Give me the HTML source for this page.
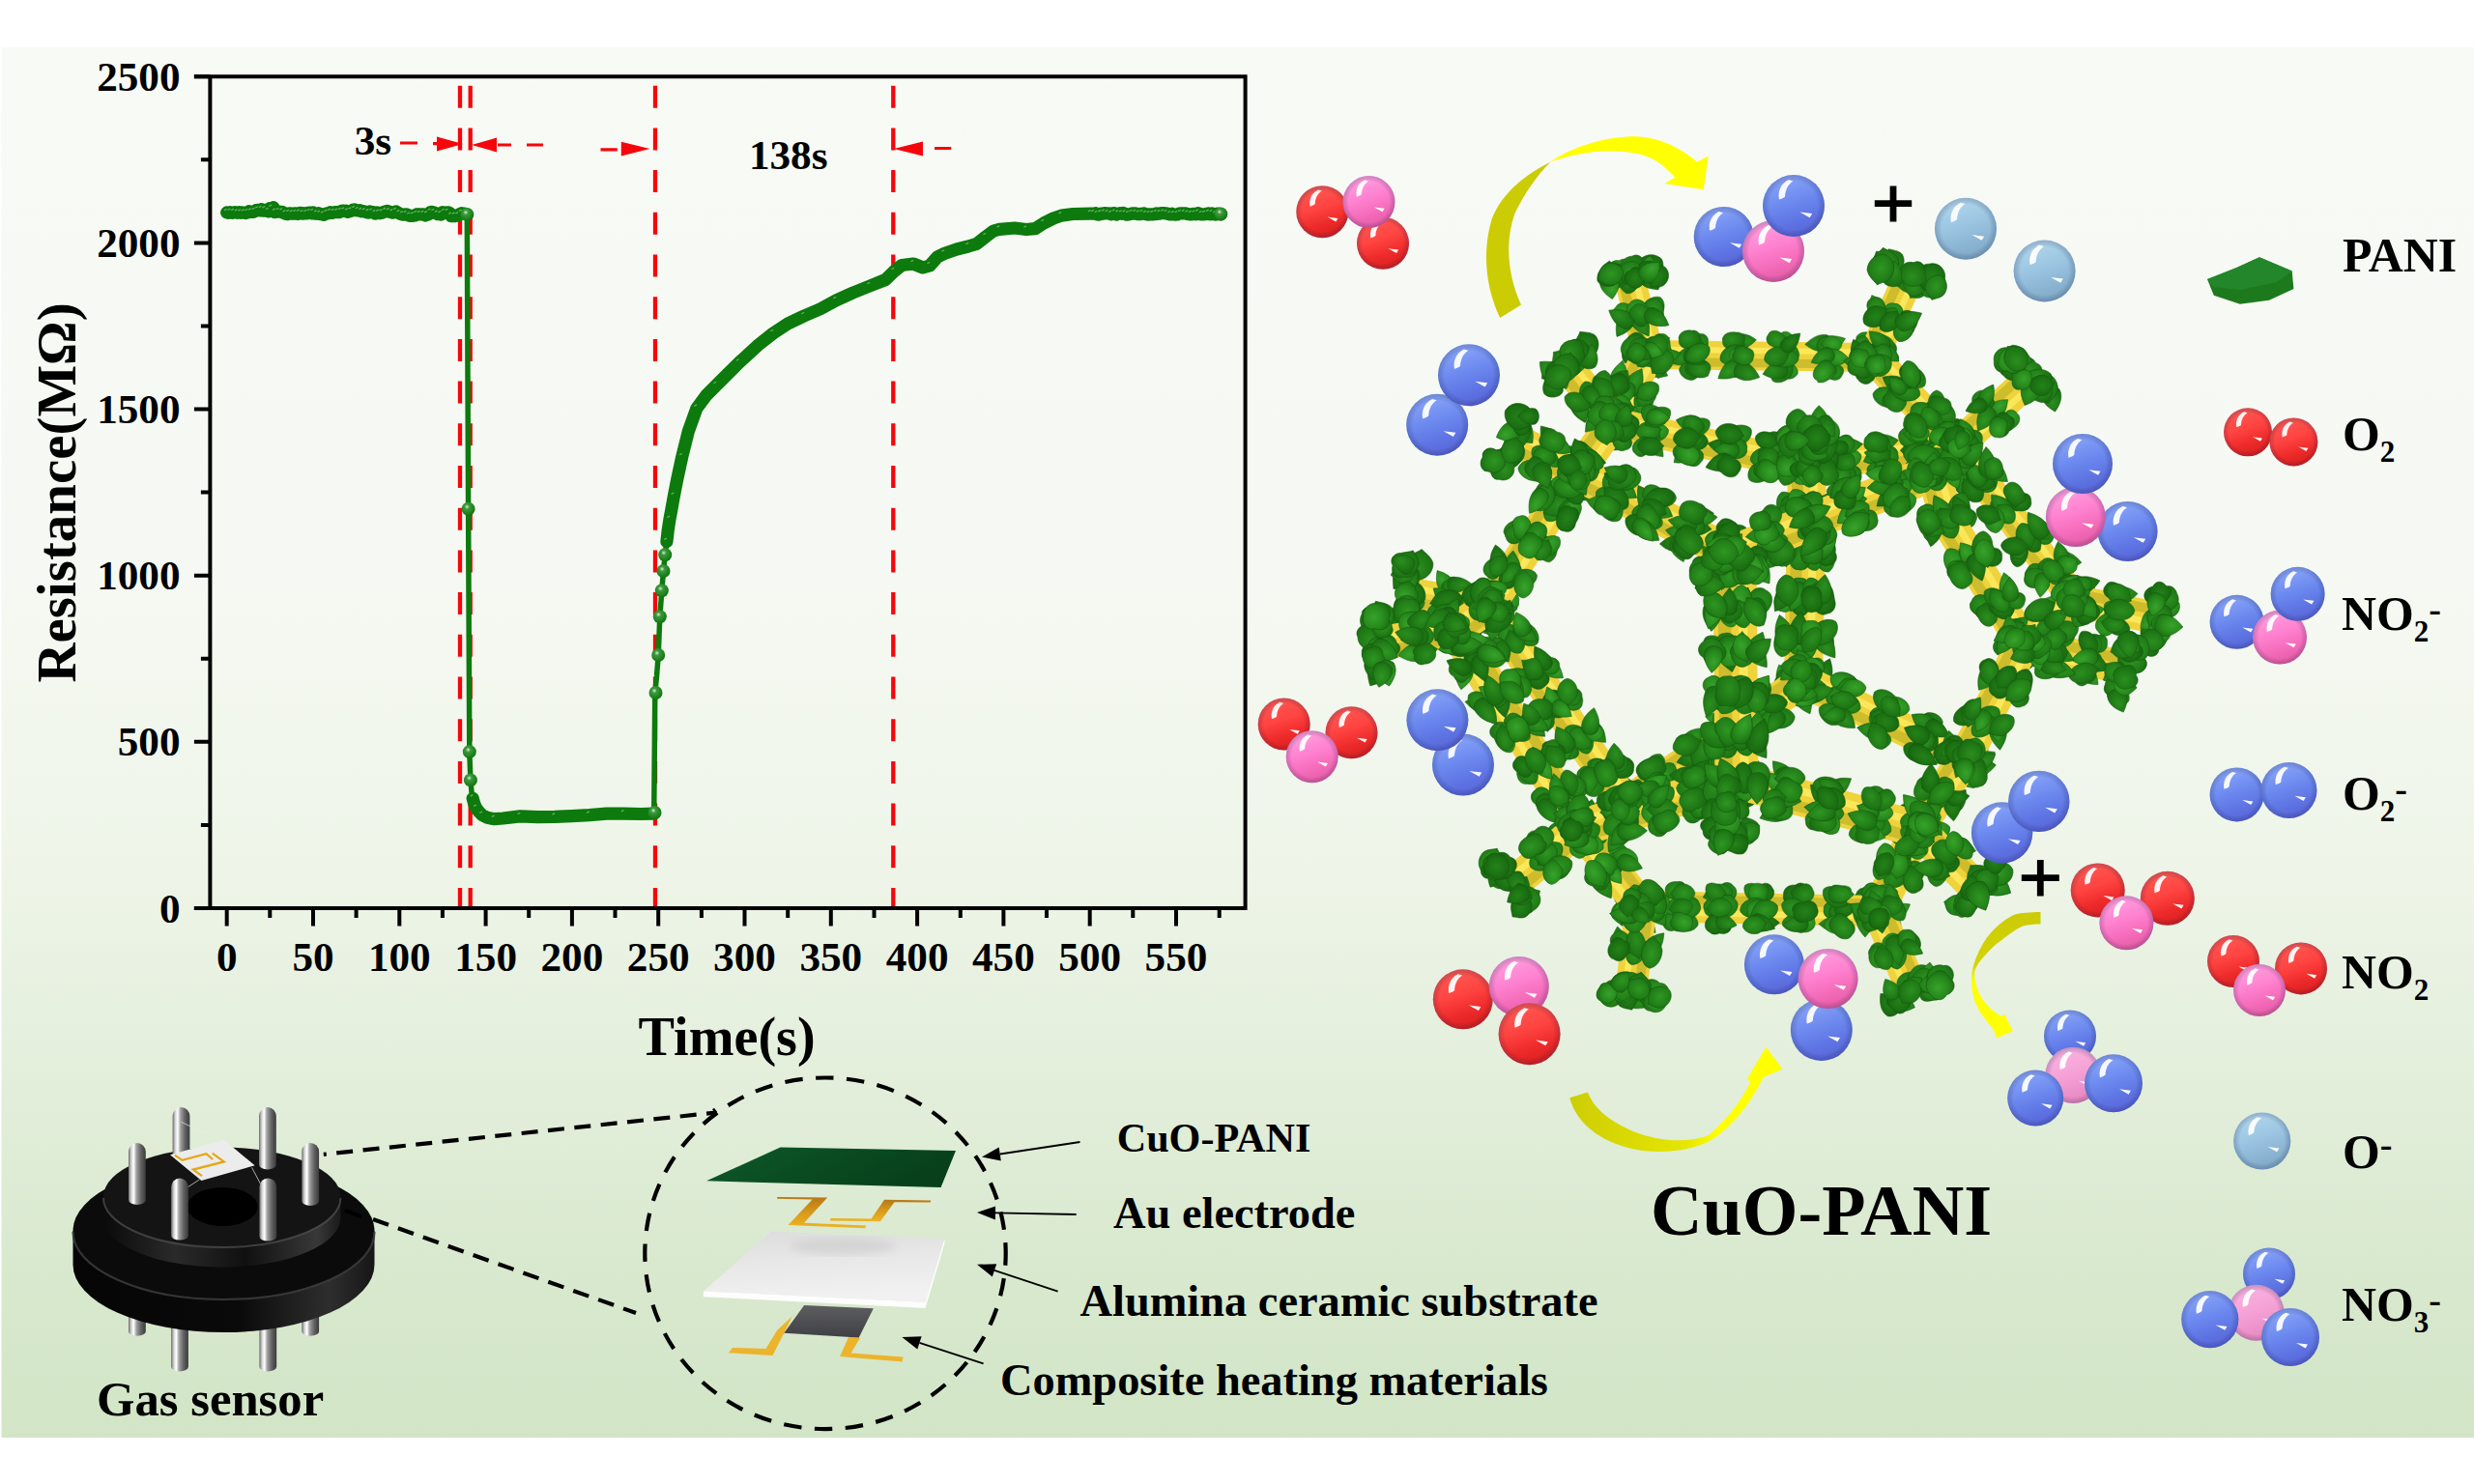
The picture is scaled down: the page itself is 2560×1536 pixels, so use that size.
<!DOCTYPE html>
<html><head><meta charset="utf-8"><title>CuO-PANI gas sensor</title>
<style>html,body{margin:0;padding:0;background:#fff}svg{display:block}</style></head>
<body>
<svg width="2560" height="1536" viewBox="0 0 2560 1536">
<defs>
<linearGradient id="gbg" x1="0" y1="0" x2="0" y2="1"><stop offset="0.000" stop-color="#f8faf5"/><stop offset="0.383" stop-color="#f6f9f3"/><stop offset="0.591" stop-color="#eef5e8"/><stop offset="0.730" stop-color="#e4efdc"/><stop offset="0.869" stop-color="#d9e9cf"/><stop offset="1.000" stop-color="#d2e5c6"/></linearGradient>
<radialGradient id="gball" cx="0.4" cy="0.35" r="0.7"><stop offset="0" stop-color="#d8f0d8"/><stop offset="0.25" stop-color="#3d9a3d"/><stop offset="1" stop-color="#0a720a"/></radialGradient>
<linearGradient id="gpin" x1="0" y1="0" x2="1" y2="0"><stop offset="0" stop-color="#6a6a6a"/><stop offset="0.16" stop-color="#d6d6d6"/><stop offset="0.3" stop-color="#ffffff"/><stop offset="0.46" stop-color="#a0a0a0"/><stop offset="0.72" stop-color="#626262"/><stop offset="1" stop-color="#3a3a3a"/></linearGradient>
<linearGradient id="gflange" x1="0" y1="0" x2="1" y2="0"><stop offset="0" stop-color="#050505"/><stop offset="0.55" stop-color="#0a0a0a"/><stop offset="0.85" stop-color="#2e2e2e"/><stop offset="1" stop-color="#161616"/></linearGradient>
<linearGradient id="gplat" x1="0" y1="0" x2="1" y2="0"><stop offset="0" stop-color="#0a0a0a"/><stop offset="0.3" stop-color="#2a2a2a"/><stop offset="0.6" stop-color="#101010"/><stop offset="0.9" stop-color="#383838"/><stop offset="1" stop-color="#1a1a1a"/></linearGradient>
<linearGradient id="gsheet" x1="0" y1="0" x2="1" y2="0.3"><stop offset="0" stop-color="#0e5a2a"/><stop offset="0.5" stop-color="#0a4c22"/><stop offset="1" stop-color="#07401b"/></linearGradient>
<linearGradient id="gau" x1="0" y1="0" x2="0" y2="1"><stop offset="0" stop-color="#b67716"/><stop offset="0.5" stop-color="#d79a1c"/><stop offset="1" stop-color="#f0b424"/></linearGradient>
<linearGradient id="gplate" x1="0" y1="0" x2="0.2" y2="1"><stop offset="0" stop-color="#dcdcdc"/><stop offset="0.5" stop-color="#e8e8e8"/><stop offset="1" stop-color="#f1f1f1"/></linearGradient>
<linearGradient id="gheat" x1="0" y1="0" x2="0" y2="1"><stop offset="0" stop-color="#5e5e60"/><stop offset="1" stop-color="#3f4044"/></linearGradient>
<linearGradient id="garr2" x1="0" y1="0" x2="1" y2="0"><stop offset="0" stop-color="#cdcd06"/><stop offset="0.55" stop-color="#e6e600"/><stop offset="0.7" stop-color="#ffff00"/><stop offset="1" stop-color="#ffff00"/></linearGradient>
<linearGradient id="garr3" x1="0" y1="0" x2="0" y2="1"><stop offset="0" stop-color="#cbcb08"/><stop offset="0.42" stop-color="#d4d404"/><stop offset="0.55" stop-color="#ffff00"/><stop offset="1" stop-color="#ffff00"/></linearGradient>
<radialGradient id="gsh" cx="0.5" cy="0.5" r="0.5"><stop offset="0.78" stop-color="#000" stop-opacity="0"/><stop offset="1" stop-color="#102060" stop-opacity="0.22"/></radialGradient>
<filter id="blur4"><feGaussianBlur stdDeviation="5"/></filter>
<linearGradient id="gr" x1="0.3" y1="0" x2="0.62" y2="1"><stop offset="0" stop-color="#ff5a54"/><stop offset="0.42" stop-color="#ff4441"/><stop offset="0.72" stop-color="#ee2b2b"/><stop offset="1" stop-color="#d81f1f"/></linearGradient><g id="sr"><circle r="1" fill="url(#gr)"/><circle r="1" fill="url(#gsh)"/><path d="M-0.16,-0.84C-0.42,-0.72 -0.52,-0.45 -0.47,-0.2C-0.36,-0.24 -0.3,-0.26 -0.28,-0.3C-0.27,-0.5 -0.2,-0.68 -0.02,-0.8Z" fill="#fff" opacity="0.93"/><path d="M0.2,0.2L0.6,0.25L0.52,0.38Z" fill="#fff" opacity="0.95"/></g>
<linearGradient id="gp" x1="0.3" y1="0" x2="0.62" y2="1"><stop offset="0" stop-color="#ffa2e0"/><stop offset="0.42" stop-color="#ff82d0"/><stop offset="0.72" stop-color="#f46cba"/><stop offset="1" stop-color="#e45ca4"/></linearGradient><g id="sp"><circle r="1" fill="url(#gp)"/><circle r="1" fill="url(#gsh)"/><path d="M-0.16,-0.84C-0.42,-0.72 -0.52,-0.45 -0.47,-0.2C-0.36,-0.24 -0.3,-0.26 -0.28,-0.3C-0.27,-0.5 -0.2,-0.68 -0.02,-0.8Z" fill="#fff" opacity="0.93"/><path d="M0.2,0.2L0.6,0.25L0.52,0.38Z" fill="#fff" opacity="0.95"/></g>
<linearGradient id="gb" x1="0.3" y1="0" x2="0.62" y2="1"><stop offset="0" stop-color="#8ca8fa"/><stop offset="0.42" stop-color="#6e8bf0"/><stop offset="0.72" stop-color="#5f76e4"/><stop offset="1" stop-color="#5964d8"/></linearGradient><g id="sb"><circle r="1" fill="url(#gb)"/><circle r="1" fill="url(#gsh)"/><path d="M-0.16,-0.84C-0.42,-0.72 -0.52,-0.45 -0.47,-0.2C-0.36,-0.24 -0.3,-0.26 -0.28,-0.3C-0.27,-0.5 -0.2,-0.68 -0.02,-0.8Z" fill="#fff" opacity="0.93"/><path d="M0.2,0.2L0.6,0.25L0.52,0.38Z" fill="#fff" opacity="0.95"/></g>
<linearGradient id="gq" x1="0.3" y1="0" x2="0.62" y2="1"><stop offset="0" stop-color="#f8b4e0"/><stop offset="0.42" stop-color="#f6a4d8"/><stop offset="0.72" stop-color="#ee94cc"/><stop offset="1" stop-color="#e486be"/></linearGradient><g id="sq"><circle r="1" fill="url(#gq)"/><circle r="1" fill="url(#gsh)"/><path d="M-0.16,-0.84C-0.42,-0.72 -0.52,-0.45 -0.47,-0.2C-0.36,-0.24 -0.3,-0.26 -0.28,-0.3C-0.27,-0.5 -0.2,-0.68 -0.02,-0.8Z" fill="#fff" opacity="0.93"/><path d="M0.2,0.2L0.6,0.25L0.52,0.38Z" fill="#fff" opacity="0.95"/></g>
<linearGradient id="gl" x1="0.3" y1="0" x2="0.62" y2="1"><stop offset="0" stop-color="#b4d8ee"/><stop offset="0.42" stop-color="#9cc6e2"/><stop offset="0.72" stop-color="#8cb6d4"/><stop offset="1" stop-color="#80a8c6"/></linearGradient><g id="sl"><circle r="1" fill="url(#gl)"/><circle r="1" fill="url(#gsh)"/><path d="M-0.16,-0.84C-0.42,-0.72 -0.52,-0.45 -0.47,-0.2C-0.36,-0.24 -0.3,-0.26 -0.28,-0.3C-0.27,-0.5 -0.2,-0.68 -0.02,-0.8Z" fill="#fff" opacity="0.93"/><path d="M0.2,0.2L0.6,0.25L0.52,0.38Z" fill="#fff" opacity="0.95"/></g>
<radialGradient id="lg1" cx="0.45" cy="0.4" r="0.65"><stop offset="0" stop-color="#37a32b"/><stop offset="0.6" stop-color="#278a1c"/><stop offset="1" stop-color="#1a6e12"/></radialGradient>
<radialGradient id="lg2" cx="0.5" cy="0.45" r="0.65"><stop offset="0" stop-color="#2e9622"/><stop offset="0.6" stop-color="#227f18"/><stop offset="1" stop-color="#17650f"/></radialGradient>
<radialGradient id="lg3" cx="0.55" cy="0.4" r="0.65"><stop offset="0" stop-color="#2b8e1f"/><stop offset="0.6" stop-color="#207a16"/><stop offset="1" stop-color="#186a10"/></radialGradient>
<radialGradient id="lg4" cx="0.5" cy="0.5" r="0.65"><stop offset="0" stop-color="#248219"/><stop offset="0.6" stop-color="#1b7012"/><stop offset="1" stop-color="#135a0c"/></radialGradient>
<g id="lf1" stroke="#145a0d" stroke-width="0.045"><path d="M0,-1.1C0.7,-1 1.1,-0.3 0.9,0.4C0.7,0.9 0.2,1 0,1.25C-0.3,1 -0.8,0.8 -1,0.3C-1.1,-0.4 -0.6,-1 0,-1.1Z"/></g>
<g id="lf2" stroke="#145a0d" stroke-width="0.045"><path d="M-0.2,-1C0.5,-1.2 1.1,-0.6 1,0.1C1.2,0.6 0.6,1.1 0,0.9C-0.6,1.2 -1.1,0.6 -0.9,0C-1.2,-0.5 -0.8,-1 -0.2,-1Z"/></g>
<g id="lf3" stroke="#145a0d" stroke-width="0.045"><path d="M0,-1.35C0.6,-0.8 1,-0.2 0.8,0.5C0.5,1 -0.5,1 -0.8,0.5C-1,-0.2 -0.6,-0.8 0,-1.35Z"/></g>
</defs>
<rect width="2560" height="1536" fill="#fff"/>
<rect x="1.5" y="49" width="2558.5" height="1439" fill="url(#gbg)"/>
<g id="plot">
<g stroke="#000" stroke-width="4" fill="none" stroke-linecap="butt">
<path d="M200.9,79.3H1290.6M1288.6,79.3V940.0M200.9,940.0H1290.6M217.4,77.3V942.0"/>
<path d="M200.9,940.0H217.4M200.9,767.8H217.4M200.9,595.7H217.4M200.9,423.5H217.4M200.9,251.4H217.4M200.9,79.2H217.4M207.9,853.9H217.4M207.9,681.8H217.4M207.9,509.6H217.4M207.9,337.4H217.4M207.9,165.3H217.4M234.7,940.0V958.5M324.0,940.0V958.5M413.3,940.0V958.5M502.6,940.0V958.5M591.9,940.0V958.5M681.2,940.0V958.5M770.5,940.0V958.5M859.8,940.0V958.5M949.1,940.0V958.5M1038.4,940.0V958.5M1127.7,940.0V958.5M1217.0,940.0V958.5M279.3,940.0V950.0M368.6,940.0V950.0M457.9,940.0V950.0M547.2,940.0V950.0M636.5,940.0V950.0M725.9,940.0V950.0M815.2,940.0V950.0M904.5,940.0V950.0M993.8,940.0V950.0M1083.0,940.0V950.0M1172.3,940.0V950.0M1261.7,940.0V950.0"/></g>
<g font-family="'Liberation Serif',serif" font-weight="bold" font-size="43.2" fill="#000">
<text x="186.5" y="954.6" text-anchor="end">0</text>
<text x="186.5" y="782.4" text-anchor="end">500</text>
<text x="186.5" y="610.3" text-anchor="end">1000</text>
<text x="186.5" y="438.1" text-anchor="end">1500</text>
<text x="186.5" y="266.0" text-anchor="end">2000</text>
<text x="186.5" y="93.8" text-anchor="end">2500</text>
<text x="234.7" y="1004.8" text-anchor="middle">0</text>
<text x="324.0" y="1004.8" text-anchor="middle">50</text>
<text x="413.3" y="1004.8" text-anchor="middle">100</text>
<text x="502.6" y="1004.8" text-anchor="middle">150</text>
<text x="591.9" y="1004.8" text-anchor="middle">200</text>
<text x="681.2" y="1004.8" text-anchor="middle">250</text>
<text x="770.5" y="1004.8" text-anchor="middle">300</text>
<text x="859.8" y="1004.8" text-anchor="middle">350</text>
<text x="949.1" y="1004.8" text-anchor="middle">400</text>
<text x="1038.4" y="1004.8" text-anchor="middle">450</text>
<text x="1127.7" y="1004.8" text-anchor="middle">500</text>
<text x="1217.0" y="1004.8" text-anchor="middle">550</text>
<text x="366.7" y="160.2">3s</text><text x="774.9" y="174.9">138s</text>
</g>
<text x="660.6" y="1092" font-family="'Liberation Serif',serif" font-weight="bold" font-size="56.2">Time(s)</text>
<text transform="translate(77.6,706.5) rotate(-90)" font-family="'Liberation Serif',serif" font-weight="bold" font-size="56.9">Resistance(MΩ)</text>
<g stroke="#f5060c" stroke-width="4.3" fill="none" stroke-dasharray="23 20.7">
<path d="M476,88.7V938.0"/>
<path d="M486.7,88.7V938.0"/>
<path d="M678,88.7V938.0"/>
<path d="M924.3,88.7V938.0"/>
</g>
<g stroke="#f5060c" stroke-width="3.2" fill="#f5060c">
<path d="M414,148H432M448,148.6H458M545,150H562M515,150H529M621.5,154.8H638.8M967,153.5H984.3" fill="none"/>
<path stroke="none" d="M452,141.5L479,149L452,156.5ZM488,150L514,142.5V157.5ZM642.8,146.8L672.5,154L642.8,161.5ZM924.8,154L955,146.5V161.5Z"/>
</g>
<path d="M234.7,219.9L236.5,220.4L238.3,219.7L240.1,220.3L241.8,219.8L243.6,219.7L245.4,220.3L247.2,219.7L249.0,220.3L250.8,219.9L252.6,220.3L254.3,220.6L256.1,220.0L257.9,218.7L259.7,219.3L261.5,219.5L263.3,218.8L265.1,217.5L266.8,217.4L268.6,217.8L270.4,216.8L272.2,218.1L274.0,217.3L275.8,218.0L277.6,218.9L279.3,215.5L281.1,215.7L282.9,214.7L284.7,219.6L286.5,219.3L288.3,219.0L290.1,219.3L291.9,219.3L293.6,220.4L295.4,221.2L297.2,221.6L299.0,220.8L300.8,220.9L302.6,221.2L304.4,220.9L306.1,220.9L307.9,221.4L309.7,220.6L311.5,220.3L313.3,221.1L315.1,220.9L316.9,221.0L318.6,220.2L320.4,220.0L322.2,220.8L324.0,219.9L325.8,221.1L327.6,221.3L329.4,220.7L331.1,221.6L332.9,221.5L334.7,222.4L336.5,221.6L338.3,220.8L340.1,220.6L341.9,219.7L343.6,220.3L345.4,219.8L347.2,219.7L349.0,219.6L350.8,219.7L352.6,218.9L354.4,218.0L356.1,218.4L357.9,218.2L359.7,219.3L361.5,218.8L363.3,218.4L365.1,217.3L366.9,216.9L368.6,217.7L370.4,218.0L372.2,217.7L374.0,218.8L375.8,218.6L377.6,219.2L379.4,219.7L381.2,220.1L382.9,218.9L384.7,219.5L386.5,219.6L388.3,221.1L390.1,219.9L391.9,220.7L393.7,220.6L395.4,220.3L397.2,219.3L399.0,218.8L400.8,218.3L402.6,219.2L404.4,219.7L406.2,220.2L407.9,219.5L409.7,218.8L411.5,220.1L413.3,221.1L415.1,221.7L416.9,222.2L418.7,222.1L420.4,221.8L422.2,222.4L424.0,223.4L425.8,223.3L427.6,223.3L429.4,223.0L431.2,221.9L432.9,221.7L434.7,221.9L436.5,221.9L438.3,221.8L440.1,223.0L441.9,222.2L443.7,221.8L445.4,219.5L447.2,219.3L449.0,220.0L450.8,220.6L452.6,221.6L454.4,221.2L456.2,222.1L457.9,219.7L459.7,219.9L461.5,220.0L463.3,219.8L465.1,220.2L466.9,223.6L468.7,223.6L470.5,223.6L472.2,222.9L474.0,223.2L475.8,221.5L477.6,220.7L479.4,221.1L481.2,221.1L483.3,221.9L484.6,526.7L485.8,778.1L486.9,807.4L488.0,819.5L489.2,826.3L490.6,831.5L492.8,836.7L495.5,840.1L499.0,843.6L504.4,846.3L511.5,847.7L520.5,847.0L538.3,844.9L556.2,845.6L574.0,845.3L591.9,844.6L609.8,843.6L627.6,842.2L645.5,842.2L663.3,842.5L676.7,842.2L677.8,717.0L679.5,700.0L681.2,678.0L682.8,638.2L684.8,611.3L686.5,591.0L688.2,574.2L689.9,560.7L691.2,549.0L692.9,537.8L694.6,528.7L697.3,513.6L700.6,496.7L705.7,473.0L712.4,446.2L720.9,422.6L731.0,409.0L741.0,399.0L752.0,388.0L764.7,375.4L784.9,356.9L800.0,345.0L815.2,335.0L832.0,327.0L848.9,319.8L865.0,311.0L882.6,303.0L900.0,296.0L916.3,289.5L925.0,281.0L933.1,274.5L945.0,273.0L955.0,277.0L962.0,275.0L970.0,266.0L977.0,262.5L990.0,258.0L1002.0,255.0L1010.6,252.4L1020.0,245.0L1028.0,239.0L1034.2,237.3L1050.0,236.0L1062.0,237.5L1071.3,236.6L1080.0,231.0L1090.0,226.0L1098.2,223.1L1110.0,221.5L1128.6,221.1L1130.0,221.1L1131.8,221.1L1133.6,220.7L1135.4,221.9L1137.2,222.1L1139.0,221.2L1140.8,221.3L1142.6,220.6L1144.4,220.7L1146.2,221.0L1148.0,220.9L1149.8,221.8L1151.6,220.8L1153.4,220.5L1155.2,222.0L1157.0,221.3L1158.8,220.7L1160.6,221.4L1162.4,220.5L1164.2,221.3L1166.0,222.1L1167.8,221.9L1169.6,221.6L1171.4,220.9L1173.2,221.1L1175.0,220.8L1176.8,221.7L1178.6,221.4L1180.4,221.7L1182.2,221.0L1184.0,220.9L1185.8,221.8L1187.6,222.1L1189.4,221.9L1191.2,221.8L1193.0,221.8L1194.8,221.7L1196.6,220.9L1198.4,221.3L1200.2,221.1L1202.0,220.5L1203.8,220.5L1205.6,220.9L1207.4,220.9L1209.2,221.6L1211.0,222.0L1212.8,221.2L1214.6,222.0L1216.4,222.1L1218.2,222.0L1220.0,221.1L1221.8,220.9L1223.6,220.9L1225.4,220.8L1227.2,220.8L1229.0,221.5L1230.8,221.9L1232.6,221.8L1234.4,221.3L1236.2,221.5L1238.0,221.8L1239.8,220.6L1241.6,221.6L1243.4,222.0L1245.2,221.8L1247.0,221.7L1248.8,221.3L1250.6,220.8L1252.4,221.8L1254.2,221.0L1256.0,221.8L1257.8,222.1L1259.6,221.1L1261.4,221.1L1263.2,222.0" fill="none" stroke="#0c7a0c" stroke-width="5.5" stroke-linejoin="round" stroke-linecap="round"/>
<path d="M234.7,219.9L236.5,220.4L238.3,219.7L240.1,220.3L241.8,219.8L243.6,219.7L245.4,220.3L247.2,219.7L249.0,220.3L250.8,219.9L252.6,220.3L254.3,220.6L256.1,220.0L257.9,218.7L259.7,219.3L261.5,219.5L263.3,218.8L265.1,217.5L266.8,217.4L268.6,217.8L270.4,216.8L272.2,218.1L274.0,217.3L275.8,218.0L277.6,218.9L279.3,215.5L281.1,215.7L282.9,214.7L284.7,219.6L286.5,219.3L288.3,219.0L290.1,219.3L291.9,219.3L293.6,220.4L295.4,221.2L297.2,221.6L299.0,220.8L300.8,220.9L302.6,221.2L304.4,220.9L306.1,220.9L307.9,221.4L309.7,220.6L311.5,220.3L313.3,221.1L315.1,220.9L316.9,221.0L318.6,220.2L320.4,220.0L322.2,220.8L324.0,219.9L325.8,221.1L327.6,221.3L329.4,220.7L331.1,221.6L332.9,221.5L334.7,222.4L336.5,221.6L338.3,220.8L340.1,220.6L341.9,219.7L343.6,220.3L345.4,219.8L347.2,219.7L349.0,219.6L350.8,219.7L352.6,218.9L354.4,218.0L356.1,218.4L357.9,218.2L359.7,219.3L361.5,218.8L363.3,218.4L365.1,217.3L366.9,216.9L368.6,217.7L370.4,218.0L372.2,217.7L374.0,218.8L375.8,218.6L377.6,219.2L379.4,219.7L381.2,220.1L382.9,218.9L384.7,219.5L386.5,219.6L388.3,221.1L390.1,219.9L391.9,220.7L393.7,220.6L395.4,220.3L397.2,219.3L399.0,218.8L400.8,218.3L402.6,219.2L404.4,219.7L406.2,220.2L407.9,219.5L409.7,218.8L411.5,220.1L413.3,221.1L415.1,221.7L416.9,222.2L418.7,222.1L420.4,221.8L422.2,222.4L424.0,223.4L425.8,223.3L427.6,223.3L429.4,223.0L431.2,221.9L432.9,221.7L434.7,221.9L436.5,221.9L438.3,221.8L440.1,223.0L441.9,222.2L443.7,221.8L445.4,219.5L447.2,219.3L449.0,220.0L450.8,220.6L452.6,221.6L454.4,221.2L456.2,222.1L457.9,219.7L459.7,219.9L461.5,220.0L463.3,219.8L465.1,220.2L466.9,223.6L468.7,223.6L470.5,223.6L472.2,222.9L474.0,223.2L475.8,221.5L477.6,220.7L479.4,221.1L481.2,221.1L483.3,221.9" fill="none" stroke="#0c7a0c" stroke-width="13.2" stroke-linejoin="round" stroke-linecap="round"/>
<path d="M489.2,826.3L490.6,831.5L492.8,836.7L495.5,840.1L499.0,843.6L504.4,846.3L511.5,847.7L520.5,847.0L538.3,844.9L556.2,845.6L574.0,845.3L591.9,844.6L609.8,843.6L627.6,842.2L645.5,842.2L663.3,842.5L676.7,842.2" fill="none" stroke="#0c7a0c" stroke-width="13.2" stroke-linejoin="round" stroke-linecap="round"/>
<path d="M689.9,560.7L691.2,549.0L692.9,537.8L694.6,528.7L697.3,513.6L700.6,496.7L705.7,473.0L712.4,446.2L720.9,422.6L731.0,409.0L741.0,399.0L752.0,388.0L764.7,375.4L784.9,356.9L800.0,345.0L815.2,335.0L832.0,327.0L848.9,319.8L865.0,311.0L882.6,303.0L900.0,296.0L916.3,289.5L925.0,281.0L933.1,274.5L945.0,273.0L955.0,277.0L962.0,275.0L970.0,266.0L977.0,262.5L990.0,258.0L1002.0,255.0L1010.6,252.4L1020.0,245.0L1028.0,239.0L1034.2,237.3L1050.0,236.0L1062.0,237.5L1071.3,236.6L1080.0,231.0L1090.0,226.0L1098.2,223.1L1110.0,221.5L1128.6,221.1L1130.0,221.1L1131.8,221.1L1133.6,220.7L1135.4,221.9L1137.2,222.1L1139.0,221.2L1140.8,221.3L1142.6,220.6L1144.4,220.7L1146.2,221.0L1148.0,220.9L1149.8,221.8L1151.6,220.8L1153.4,220.5L1155.2,222.0L1157.0,221.3L1158.8,220.7L1160.6,221.4L1162.4,220.5L1164.2,221.3L1166.0,222.1L1167.8,221.9L1169.6,221.6L1171.4,220.9L1173.2,221.1L1175.0,220.8L1176.8,221.7L1178.6,221.4L1180.4,221.7L1182.2,221.0L1184.0,220.9L1185.8,221.8L1187.6,222.1L1189.4,221.9L1191.2,221.8L1193.0,221.8L1194.8,221.7L1196.6,220.9L1198.4,221.3L1200.2,221.1L1202.0,220.5L1203.8,220.5L1205.6,220.9L1207.4,220.9L1209.2,221.6L1211.0,222.0L1212.8,221.2L1214.6,222.0L1216.4,222.1L1218.2,222.0L1220.0,221.1L1221.8,220.9L1223.6,220.9L1225.4,220.8L1227.2,220.8L1229.0,221.5L1230.8,221.9L1232.6,221.8L1234.4,221.3L1236.2,221.5L1238.0,221.8L1239.8,220.6L1241.6,221.6L1243.4,222.0L1245.2,221.8L1247.0,221.7L1248.8,221.3L1250.6,220.8L1252.4,221.8L1254.2,221.0L1256.0,221.8L1257.8,222.1L1259.6,221.1L1261.4,221.1L1263.2,222.0" fill="none" stroke="#0c7a0c" stroke-width="13.2" stroke-linejoin="round" stroke-linecap="round"/>
<path d="M232.5,217.4l1.8,-0.9M236.1,217.2l1.8,-0.9M239.6,217.3l1.8,-0.9M243.2,217.8l1.8,-0.9M246.8,217.8l1.8,-0.9M250.4,217.8l1.8,-0.9M253.9,217.5l1.8,-0.9M257.5,216.8l1.8,-0.9M261.1,216.3l1.8,-0.9M264.6,214.9l1.8,-0.9M268.2,214.3l1.8,-0.9M271.8,214.8l1.8,-0.9M275.4,216.4l1.8,-0.9M278.9,213.2l1.8,-0.9M282.5,217.1l1.8,-0.9M286.1,216.5l1.8,-0.9M289.7,216.8l1.8,-0.9M293.2,218.7l1.8,-0.9M296.8,218.3l1.8,-0.9M300.4,218.7l1.8,-0.9M303.9,218.4l1.8,-0.9M307.5,218.1l1.8,-0.9M311.1,218.6l1.8,-0.9M314.7,218.5l1.8,-0.9M318.2,217.5l1.8,-0.9M321.8,217.4l1.8,-0.9M325.4,218.8l1.8,-0.9M328.9,219.1l1.8,-0.9M332.5,219.9l1.8,-0.9M336.1,218.3l1.8,-0.9M339.7,217.2l1.8,-0.9M343.2,217.3l1.8,-0.9M346.8,217.1l1.8,-0.9M350.4,216.4l1.8,-0.9M353.9,215.9l1.8,-0.9M357.5,216.8l1.8,-0.9M361.1,215.9l1.8,-0.9M364.7,214.4l1.8,-0.9M368.2,215.5l1.8,-0.9M371.8,216.3l1.8,-0.9M375.4,216.7l1.8,-0.9M379.0,217.6l1.8,-0.9M382.5,217.0l1.8,-0.9M386.1,218.6l1.8,-0.9M389.7,218.2l1.8,-0.9M393.2,217.8l1.8,-0.9M396.8,216.3l1.8,-0.9M400.4,216.7l1.8,-0.9M404.0,217.7l1.8,-0.9M407.5,216.3l1.8,-0.9M411.1,218.6l1.8,-0.9M414.7,219.7l1.8,-0.9M418.2,219.3l1.8,-0.9M421.8,220.9l1.8,-0.9M425.4,220.8l1.8,-0.9M429.0,219.4l1.8,-0.9M432.5,219.4l1.8,-0.9M436.1,219.3l1.8,-0.9M439.7,219.7l1.8,-0.9M443.2,217.0l1.8,-0.9M446.8,217.5l1.8,-0.9M450.4,219.1l1.8,-0.9M454.0,219.6l1.8,-0.9M457.5,217.4l1.8,-0.9M461.1,217.3l1.8,-0.9M464.7,221.1l1.8,-0.9M468.3,221.1l1.8,-0.9M471.8,220.7l1.8,-0.9M475.4,218.2l1.8,-0.9M479.0,218.6l1.8,-0.9M487.0,823.8l1.8,-0.9M490.6,834.2l1.8,-0.9M496.8,841.1l1.8,-0.9M509.3,845.2l1.8,-0.9M536.1,842.4l1.8,-0.9M571.8,842.8l1.8,-0.9M607.6,841.1l1.8,-0.9M643.3,839.7l1.8,-0.9M674.5,839.7l1.8,-0.9M687.7,558.2l1.8,-0.9M690.7,535.3l1.8,-0.9M695.1,511.1l1.8,-0.9M703.5,470.5l1.8,-0.9M718.7,420.1l1.8,-0.9M738.8,396.5l1.8,-0.9M762.5,372.9l1.8,-0.9M797.8,342.5l1.8,-0.9M829.8,324.5l1.8,-0.9M862.8,308.5l1.8,-0.9M897.8,293.5l1.8,-0.9M922.8,278.5l1.8,-0.9M942.8,270.5l1.8,-0.9M959.8,272.5l1.8,-0.9M974.8,260.0l1.8,-0.9M999.8,252.5l1.8,-0.9M1017.8,242.5l1.8,-0.9M1032.0,234.8l1.8,-0.9M1059.8,235.0l1.8,-0.9M1077.8,228.5l1.8,-0.9M1096.0,220.6l1.8,-0.9M1126.4,218.6l1.8,-0.9M1129.6,218.6l1.8,-0.9M1133.2,219.4l1.8,-0.9M1136.8,218.7l1.8,-0.9M1140.4,218.1l1.8,-0.9M1144.0,218.5l1.8,-0.9M1147.6,219.3l1.8,-0.9M1151.2,218.0l1.8,-0.9M1154.8,218.8l1.8,-0.9M1158.4,218.9l1.8,-0.9M1162.0,218.8l1.8,-0.9M1165.6,219.4l1.8,-0.9M1169.2,218.4l1.8,-0.9M1172.8,218.3l1.8,-0.9M1176.4,218.9l1.8,-0.9M1180.0,218.5l1.8,-0.9M1183.6,219.3l1.8,-0.9M1187.2,219.4l1.8,-0.9M1190.8,219.3l1.8,-0.9M1194.4,218.4l1.8,-0.9M1198.0,218.6l1.8,-0.9M1201.6,218.0l1.8,-0.9M1205.2,218.4l1.8,-0.9M1208.8,219.5l1.8,-0.9M1212.4,219.5l1.8,-0.9M1216.0,219.5l1.8,-0.9M1219.6,218.4l1.8,-0.9M1223.2,218.3l1.8,-0.9M1226.8,219.0l1.8,-0.9M1230.4,219.3l1.8,-0.9M1234.0,219.0l1.8,-0.9M1237.6,218.1l1.8,-0.9M1241.2,219.5l1.8,-0.9M1244.8,219.2l1.8,-0.9M1248.4,218.3l1.8,-0.9M1252.0,218.5l1.8,-0.9M1255.6,219.6l1.8,-0.9M1259.2,218.6l1.8,-0.9" stroke="#7fc07f" stroke-width="1.3" stroke-linecap="round" fill="none" opacity="0.75"/>
<circle cx="484.6" cy="526.7" r="7" fill="url(#gball)"/>
<circle cx="485.8" cy="778.1" r="7" fill="url(#gball)"/>
<circle cx="486.9" cy="807.4" r="7" fill="url(#gball)"/>
<circle cx="677.5" cy="841.0" r="7" fill="url(#gball)"/>
<circle cx="678.5" cy="717.0" r="7" fill="url(#gball)"/>
<circle cx="681.2" cy="678.0" r="7" fill="url(#gball)"/>
<circle cx="682.8" cy="638.2" r="7" fill="url(#gball)"/>
<circle cx="684.8" cy="611.3" r="7" fill="url(#gball)"/>
<circle cx="686.5" cy="591.0" r="7" fill="url(#gball)"/>
<circle cx="688.2" cy="574.2" r="7" fill="url(#gball)"/>
<circle cx="1263.3" cy="221.4" r="7" fill="url(#gball)"/>
<circle cx="483.3" cy="221.9" r="7" fill="url(#gball)"/>
</g>
<g id="sensor">
<path d="M133.0,1377.9V1348.9A8.9,9.3 0 0 1 150.8,1348.9V1377.9A8.9,4.9 0 0 1 133.0,1377.9Z" fill="url(#gpin)"/>
<path d="M312.3,1377.9V1348.9A8.9,9.3 0 0 1 330.1,1348.9V1377.9A8.9,4.9 0 0 1 312.3,1377.9Z" fill="url(#gpin)"/>
<path d="M177.1,1414.5V1358.9A8.9,9.3 0 0 1 194.9,1358.9V1414.5A8.9,4.9 0 0 1 177.1,1414.5Z" fill="url(#gpin)"/>
<path d="M268.4,1414.5V1358.9A8.9,9.3 0 0 1 286.2,1358.9V1414.5A8.9,4.9 0 0 1 268.4,1414.5Z" fill="url(#gpin)"/>
<path d="M75.5,1274V1309A156,70 0 0 0 387.5,1309V1274Z" fill="url(#gflange)"/>
<ellipse cx="231.5" cy="1274" rx="156" ry="70" fill="#0b0b0b"/>
<path d="M75.5,1275A156,70 0 0 0 387.5,1275" fill="none" stroke="#3a3a3a" stroke-width="2.2" opacity="0.9"/>
<path d="M357,1253L374,1259" stroke="#000" stroke-width="4"/>
<path d="M106.99999999999999,1238.6V1260.5A122.7,51 0 0 0 352.4,1260.5V1238.6Z" fill="url(#gplat)"/>
<ellipse cx="229.7" cy="1238.6" rx="122.7" ry="51" fill="#141414"/>
<path d="M106.99999999999999,1240A122.7,51 0 0 0 352.4,1240" fill="none" stroke="#4a4a4a" stroke-width="2" opacity="0.8"/>
<ellipse cx="230.3" cy="1249" rx="36.6" ry="19.9" fill="#000"/>
<path d="M178.6,1195.1V1155.2A8.9,9.3 0 0 1 196.4,1155.2V1195.1A8.9,4.9 0 0 1 178.6,1195.1Z" fill="url(#gpin)"/>
<path d="M268.0,1205.5V1155.2A8.9,9.3 0 0 1 285.8,1155.2V1205.5A8.9,4.9 0 0 1 268.0,1205.5Z" fill="url(#gpin)"/>
<path d="M133.0,1242.1V1192.2A8.9,9.3 0 0 1 150.8,1192.2V1242.1A8.9,4.9 0 0 1 133.0,1242.1Z" fill="url(#gpin)"/>
<path d="M312.3,1243.1V1192.2A8.9,9.3 0 0 1 330.1,1192.2V1243.1A8.9,4.9 0 0 1 312.3,1243.1Z" fill="url(#gpin)"/>
<path d="M176,1195.2L231.8,1179.7L263.7,1206.3L208.4,1221.9Z" fill="#ececec"/>
<path d="M180.9,1195.6L188.6,1200.9L213.4,1194.1L220.2,1200M219.7,1193.6L231.8,1202.4L199.8,1210.6L209,1217.2" fill="none" stroke="#e3a712" stroke-width="2.2"/>
<path d="M187.5,1161.3L227.2,1180.1M193.7,1229.2L206.3,1220.9M260.6,1208.4L271,1228.2" stroke="#e8efe2" stroke-width="0.7" fill="none"/>
<path d="M177.1,1278.7V1228.7A8.9,9.3 0 0 1 194.9,1228.7V1278.7A8.9,4.9 0 0 1 177.1,1278.7Z" fill="url(#gpin)"/>
<path d="M268.4,1279.7V1228.7A8.9,9.3 0 0 1 286.2,1228.7V1279.7A8.9,4.9 0 0 1 268.4,1279.7Z" fill="url(#gpin)"/>
<text x="100" y="1465" font-family="'Liberation Serif',serif" font-weight="bold" font-size="50.7">Gas sensor</text>
<g stroke="#000" stroke-width="4.2" fill="none" stroke-dasharray="17 10.5">
<path d="M334.8,1194.8L741,1151.5" stroke-dashoffset="14"/><path d="M386,1262L658,1359"/>
</g>
<path d="M741,1151.5l-3,-4" stroke="#000" stroke-width="2.5"/>
<ellipse cx="854" cy="1297.3" rx="186.7" ry="181.8" fill="none" stroke="#000" stroke-width="4.2" stroke-dasharray="18.5 13.5" stroke-dashoffset="6"/>
<path d="M731.1,1222.3L807.5,1187.4L989,1191.1L973.6,1228.9Z" fill="url(#gsheet)"/>
<path d="M804.2,1238.9L856.2,1239.6L832.1,1265.7L896.2,1268.5L895.3,1271.3L815.5,1267.9L840.6,1241.5L804.2,1240.8Z" fill="url(#gau)"/>
<path d="M915.1,1241.7L963.2,1242.6L962.8,1244.5L925.5,1244.3L910.9,1264.2L858.9,1263.4L859.4,1260.9L901.5,1261.5Z" fill="url(#gau)"/>
<path d="M727.9,1336.4L798.1,1274.7L977.4,1282.3L957.5,1347.7Z" fill="url(#gplate)"/>
<path d="M727.9,1336.4L957.5,1347.7L977.4,1282.3L977.4,1287L957.5,1354L727.9,1342.2Z" fill="#fdfdfd"/>
<ellipse cx="872" cy="1290" rx="55" ry="9" fill="#bdbdbd" opacity="0.4" filter="url(#blur4)"/>
<path d="M820,1362L811.3,1379.8L799.5,1403L753.8,1400.2L758,1395L792.5,1396L804,1377L822.5,1360Z" fill="#ecb42c"/>
<path d="M878,1384L869,1404L933.5,1409.5L934.5,1404.5L880.5,1400.5L890,1385Z" fill="#ecb42c"/>
<path d="M811.3,1379.8L832.1,1350.9L903.8,1354.3L888.7,1384.5Z" fill="url(#gheat)"/>
<path d="M1117.5,1182.0L1034.8,1194.5" stroke="#000" stroke-width="1.8"/><path d="M1016.0,1197.4L1033.7,1187.6L1035.8,1201.5Z" fill="#000"/>
<path d="M1113.6,1257.0L1030.0,1255.4" stroke="#000" stroke-width="1.8"/><path d="M1011.0,1255.0L1030.1,1248.4L1029.9,1262.4Z" fill="#000"/>
<path d="M1094.6,1336.6L1029.0,1314.8" stroke="#000" stroke-width="1.8"/><path d="M1011.0,1308.8L1031.2,1308.2L1026.8,1321.4Z" fill="#000"/>
<path d="M1017.6,1411.3L951.5,1389.9" stroke="#000" stroke-width="1.8"/><path d="M933.4,1384.0L953.6,1383.2L949.3,1396.5Z" fill="#000"/>
<g font-family="'Liberation Serif',serif" font-weight="bold" font-size="46.4"><text x="1155.7" y="1191.7" font-size="42.2">CuO-PANI</text><text x="1152" y="1271.3">Au electrode</text><text x="1117.5" y="1361.5">Alumina ceramic substrate</text><text x="1035" y="1444.3">Composite heating materials</text></g>
</g>
<g id="structure" fill="none">
<path d="M1706,367L1938,370" stroke="#efd33c" stroke-width="30"/>
<path d="M1705.9,374.2L1937.9,377.2" stroke="#cdbd2c" stroke-width="9.0"/>
<path d="M1706.1,361.6L1938.1,364.6" stroke="#fbe85a" stroke-width="6.0"/>
<use href="#lf3" transform="translate(1710.5,366.0) rotate(63) scale(10.5,14.1)" fill="url(#lg3)"/>
<use href="#lf3" transform="translate(1702.3,365.0) rotate(259) scale(9.0,11.0)" fill="url(#lg3)"/>
<use href="#lf3" transform="translate(1711.0,354.0) rotate(76) scale(10.3,12.8)" fill="url(#lg2)"/>
<use href="#lf3" transform="translate(1711.7,382.4) rotate(115) scale(9.2,11.4)" fill="url(#lg2)"/>
<use href="#lf3" transform="translate(1704.2,383.0) rotate(101) scale(8.8,10.6)" fill="url(#lg3)"/>
<use href="#lf3" transform="translate(1701.3,351.4) rotate(299) scale(9.3,11.6)" fill="url(#lg3)"/>
<use href="#lf1" transform="translate(1701.3,381.3) rotate(257) scale(8.8,10.5)" fill="url(#lg2)"/>
<use href="#lf1" transform="translate(1706.9,366.9) rotate(265) scale(10.4,12.6)" fill="url(#lg2)"/>
<use href="#lf2" transform="translate(1704.4,353.2) rotate(59) scale(10.1,13.2)" fill="url(#lg1)"/>
<use href="#lf2" transform="translate(1756.6,354.0) rotate(98) scale(9.1,10.7)" fill="url(#lg2)"/>
<use href="#lf1" transform="translate(1750.7,353.5) rotate(280) scale(8.9,10.1)" fill="url(#lg3)"/>
<use href="#lf3" transform="translate(1745.5,369.0) rotate(243) scale(9.8,12.2)" fill="url(#lg3)"/>
<use href="#lf1" transform="translate(1749.0,383.6) rotate(275) scale(9.6,10.5)" fill="url(#lg3)"/>
<use href="#lf3" transform="translate(1753.7,381.7) rotate(118) scale(10.0,11.6)" fill="url(#lg2)"/>
<use href="#lf2" transform="translate(1757.8,380.4) rotate(119) scale(9.5,11.9)" fill="url(#lg3)"/>
<use href="#lf3" transform="translate(1751.7,369.5) rotate(116) scale(9.3,11.1)" fill="url(#lg4)"/>
<use href="#lf2" transform="translate(1748.7,351.4) rotate(275) scale(9.4,11.3)" fill="url(#lg3)"/>
<use href="#lf1" transform="translate(1757.2,365.7) rotate(61) scale(9.7,12.1)" fill="url(#lg2)"/>
<use href="#lf1" transform="translate(1797.4,354.5) rotate(301) scale(9.2,11.1)" fill="url(#lg2)"/>
<use href="#lf3" transform="translate(1802.6,353.1) rotate(85) scale(9.1,11.1)" fill="url(#lg3)"/>
<use href="#lf3" transform="translate(1800.0,382.0) rotate(242) scale(9.7,10.9)" fill="url(#lg3)"/>
<use href="#lf2" transform="translate(1794.3,352.8) rotate(276) scale(8.9,11.6)" fill="url(#lg3)"/>
<use href="#lf1" transform="translate(1793.2,367.3) rotate(245) scale(10.2,12.9)" fill="url(#lg2)"/>
<use href="#lf3" transform="translate(1792.4,381.9) rotate(236) scale(10.2,13.0)" fill="url(#lg2)"/>
<use href="#lf3" transform="translate(1805.2,384.6) rotate(111) scale(10.6,12.3)" fill="url(#lg3)"/>
<use href="#lf1" transform="translate(1799.8,366.5) rotate(260) scale(8.9,9.9)" fill="url(#lg1)"/>
<use href="#lf2" transform="translate(1803.6,367.9) rotate(114) scale(9.4,10.8)" fill="url(#lg2)"/>
<use href="#lf1" transform="translate(1849.6,383.7) rotate(103) scale(8.9,10.1)" fill="url(#lg1)"/>
<use href="#lf2" transform="translate(1846.5,354.2) rotate(48) scale(9.2,10.6)" fill="url(#lg1)"/>
<use href="#lf1" transform="translate(1844.0,384.3) rotate(223) scale(9.8,12.7)" fill="url(#lg3)"/>
<use href="#lf3" transform="translate(1839.6,383.3) rotate(256) scale(10.5,11.9)" fill="url(#lg3)"/>
<use href="#lf2" transform="translate(1839.3,352.7) rotate(311) scale(8.6,11.4)" fill="url(#lg2)"/>
<use href="#lf2" transform="translate(1850.3,367.2) rotate(78) scale(9.2,11.0)" fill="url(#lg3)"/>
<use href="#lf1" transform="translate(1846.4,370.5) rotate(93) scale(10.3,13.5)" fill="url(#lg2)"/>
<use href="#lf1" transform="translate(1838.1,369.0) rotate(252) scale(10.1,11.7)" fill="url(#lg3)"/>
<use href="#lf3" transform="translate(1851.6,355.8) rotate(46) scale(8.6,11.5)" fill="url(#lg4)"/>
<use href="#lf3" transform="translate(1884.9,355.4) rotate(266) scale(10.4,12.7)" fill="url(#lg3)"/>
<use href="#lf3" transform="translate(1893.1,370.1) rotate(105) scale(10.2,12.6)" fill="url(#lg2)"/>
<use href="#lf2" transform="translate(1897.4,384.0) rotate(126) scale(8.7,9.7)" fill="url(#lg2)"/>
<use href="#lf3" transform="translate(1892.0,356.8) rotate(70) scale(10.4,13.8)" fill="url(#lg1)"/>
<use href="#lf3" transform="translate(1891.3,384.8) rotate(223) scale(9.0,11.2)" fill="url(#lg1)"/>
<use href="#lf1" transform="translate(1895.6,356.5) rotate(91) scale(8.5,9.4)" fill="url(#lg1)"/>
<use href="#lf3" transform="translate(1898.0,370.2) rotate(96) scale(10.5,11.7)" fill="url(#lg1)"/>
<use href="#lf3" transform="translate(1888.3,368.6) rotate(245) scale(9.4,11.6)" fill="url(#lg2)"/>
<use href="#lf2" transform="translate(1887.5,384.2) rotate(228) scale(9.0,12.0)" fill="url(#lg1)"/>
<use href="#lf3" transform="translate(1936.9,384.8) rotate(100) scale(8.9,10.3)" fill="url(#lg4)"/>
<use href="#lf1" transform="translate(1933.5,354.5) rotate(297) scale(10.5,12.6)" fill="url(#lg1)"/>
<use href="#lf1" transform="translate(1944.7,382.9) rotate(131) scale(10.2,12.4)" fill="url(#lg1)"/>
<use href="#lf3" transform="translate(1938.1,368.6) rotate(282) scale(10.5,13.1)" fill="url(#lg4)"/>
<use href="#lf3" transform="translate(1942.6,355.0) rotate(49) scale(10.2,12.4)" fill="url(#lg3)"/>
<use href="#lf2" transform="translate(1932.8,385.1) rotate(256) scale(9.5,10.9)" fill="url(#lg2)"/>
<use href="#lf3" transform="translate(1943.4,368.9) rotate(98) scale(10.4,12.7)" fill="url(#lg1)"/>
<use href="#lf3" transform="translate(1932.5,371.8) rotate(249) scale(10.1,12.5)" fill="url(#lg3)"/>
<use href="#lf1" transform="translate(1939.8,356.5) rotate(295) scale(9.6,10.9)" fill="url(#lg2)"/>
<path d="M1686,287L1706,367" stroke="#efd33c" stroke-width="32"/>
<path d="M1678.5,288.9L1698.5,368.9" stroke="#cdbd2c" stroke-width="9.6"/>
<path d="M1691.6,285.6L1711.6,365.6" stroke="#fbe85a" stroke-width="6.4"/>
<use href="#lf2" transform="translate(1681.6,325.7) rotate(318) scale(10.4,12.3)" fill="url(#lg1)"/>
<use href="#lf1" transform="translate(1711.3,319.3) rotate(391) scale(10.6,12.2)" fill="url(#lg3)"/>
<use href="#lf3" transform="translate(1681.9,333.6) rotate(211) scale(10.0,12.8)" fill="url(#lg3)"/>
<use href="#lf3" transform="translate(1696.3,332.2) rotate(148) scale(10.4,13.7)" fill="url(#lg3)"/>
<use href="#lf2" transform="translate(1711.1,321.5) rotate(362) scale(10.2,12.0)" fill="url(#lg2)"/>
<use href="#lf2" transform="translate(1695.5,322.1) rotate(324) scale(10.3,12.1)" fill="url(#lg1)"/>
<use href="#lf3" transform="translate(1679.8,330.2) rotate(301) scale(10.2,13.0)" fill="url(#lg3)"/>
<use href="#lf2" transform="translate(1697.6,326.3) rotate(326) scale(9.7,11.6)" fill="url(#lg3)"/>
<use href="#lf3" transform="translate(1712.2,328.3) rotate(120) scale(9.9,12.5)" fill="url(#lg3)"/>
<use href="#lf3" transform="translate(1693.4,375.4) rotate(200) scale(9.0,11.0)" fill="url(#lg2)"/>
<use href="#lf2" transform="translate(1692.2,370.0) rotate(189) scale(9.2,12.1)" fill="url(#lg2)"/>
<use href="#lf1" transform="translate(1689.1,366.6) rotate(348) scale(10.7,13.2)" fill="url(#lg4)"/>
<use href="#lf2" transform="translate(1718.8,357.5) rotate(369) scale(9.1,11.7)" fill="url(#lg2)"/>
<use href="#lf3" transform="translate(1720.6,366.1) rotate(168) scale(10.5,12.4)" fill="url(#lg4)"/>
<use href="#lf3" transform="translate(1707.7,367.4) rotate(366) scale(10.0,11.3)" fill="url(#lg3)"/>
<use href="#lf1" transform="translate(1706.2,361.3) rotate(328) scale(8.8,10.8)" fill="url(#lg4)"/>
<use href="#lf3" transform="translate(1721.9,364.4) rotate(373) scale(9.0,10.1)" fill="url(#lg3)"/>
<use href="#lf3" transform="translate(1707.8,371.2) rotate(177) scale(9.9,12.1)" fill="url(#lg3)"/>
<use href="#lf1" transform="translate(1708.1,276.1) rotate(55) scale(12.6,12.6)" fill="url(#lg4)"/>
<use href="#lf2" transform="translate(1676.4,280.0) rotate(84) scale(11.4,11.4)" fill="url(#lg1)"/>
<use href="#lf3" transform="translate(1685.1,293.2) rotate(313) scale(11.3,11.3)" fill="url(#lg3)"/>
<use href="#lf1" transform="translate(1709.1,286.0) rotate(334) scale(12.4,12.4)" fill="url(#lg3)"/>
<use href="#lf2" transform="translate(1670.6,286.6) rotate(335) scale(13.2,13.2)" fill="url(#lg2)"/>
<use href="#lf1" transform="translate(1672.5,283.9) rotate(283) scale(11.3,11.3)" fill="url(#lg4)"/>
<use href="#lf3" transform="translate(1665.7,294.1) rotate(170) scale(11.6,11.6)" fill="url(#lg1)"/>
<use href="#lf3" transform="translate(1663.3,286.0) rotate(8) scale(12.0,12.0)" fill="url(#lg4)"/>
<use href="#lf2" transform="translate(1690.2,278.8) rotate(259) scale(13.6,13.6)" fill="url(#lg3)"/>
<use href="#lf2" transform="translate(1688.2,282.5) rotate(349) scale(11.6,11.6)" fill="url(#lg2)"/>
<use href="#lf1" transform="translate(1667.1,283.9) rotate(70) scale(11.8,11.8)" fill="url(#lg2)"/>
<use href="#lf3" transform="translate(1705.0,279.0) rotate(10) scale(10.7,10.7)" fill="url(#lg1)"/>
<use href="#lf2" transform="translate(1705.6,280.4) rotate(8) scale(10.2,10.2)" fill="url(#lg4)"/>
<use href="#lf2" transform="translate(1692.0,287.5) rotate(145) scale(10.2,10.2)" fill="url(#lg4)"/>
<use href="#lf1" transform="translate(1716.0,286.1) rotate(34) scale(10.9,10.9)" fill="url(#lg4)"/>
<use href="#lf3" transform="translate(1706.3,282.5) rotate(45) scale(11.4,11.4)" fill="url(#lg1)"/>
<path d="M1975,287L1938,370" stroke="#efd33c" stroke-width="32"/>
<path d="M1968.0,283.9L1931.0,366.9" stroke="#cdbd2c" stroke-width="9.6"/>
<path d="M1980.3,289.3L1943.3,372.3" stroke="#fbe85a" stroke-width="6.4"/>
<use href="#lf2" transform="translate(1958.9,325.5) rotate(377) scale(10.1,11.3)" fill="url(#lg1)"/>
<use href="#lf2" transform="translate(1973.1,333.9) rotate(391) scale(10.2,12.1)" fill="url(#lg4)"/>
<use href="#lf1" transform="translate(1954.3,329.4) rotate(396) scale(8.8,11.8)" fill="url(#lg3)"/>
<use href="#lf3" transform="translate(1942.5,317.2) rotate(334) scale(8.7,9.6)" fill="url(#lg1)"/>
<use href="#lf1" transform="translate(1969.4,340.8) rotate(200) scale(10.4,12.3)" fill="url(#lg2)"/>
<use href="#lf2" transform="translate(1941.2,320.3) rotate(363) scale(9.6,12.2)" fill="url(#lg2)"/>
<use href="#lf1" transform="translate(1939.9,327.7) rotate(236) scale(10.8,12.0)" fill="url(#lg4)"/>
<use href="#lf1" transform="translate(1955.1,333.0) rotate(219) scale(9.2,11.0)" fill="url(#lg4)"/>
<use href="#lf3" transform="translate(1972.7,332.3) rotate(423) scale(10.8,13.2)" fill="url(#lg3)"/>
<use href="#lf1" transform="translate(1925.5,360.4) rotate(374) scale(9.2,12.3)" fill="url(#lg2)"/>
<use href="#lf3" transform="translate(1949.5,381.2) rotate(204) scale(10.4,12.5)" fill="url(#lg3)"/>
<use href="#lf1" transform="translate(1936.8,369.9) rotate(204) scale(10.5,11.7)" fill="url(#lg2)"/>
<use href="#lf1" transform="translate(1942.4,365.1) rotate(410) scale(10.5,13.0)" fill="url(#lg3)"/>
<use href="#lf2" transform="translate(1952.2,372.5) rotate(425) scale(9.7,12.3)" fill="url(#lg3)"/>
<use href="#lf3" transform="translate(1936.8,373.2) rotate(209) scale(10.6,12.2)" fill="url(#lg4)"/>
<use href="#lf3" transform="translate(1952.6,374.4) rotate(168) scale(9.2,11.3)" fill="url(#lg2)"/>
<use href="#lf3" transform="translate(1922.9,364.8) rotate(339) scale(8.9,10.7)" fill="url(#lg4)"/>
<use href="#lf1" transform="translate(1923.9,368.3) rotate(214) scale(10.2,12.4)" fill="url(#lg2)"/>
<use href="#lf1" transform="translate(1959.5,270.3) rotate(158) scale(10.9,10.9)" fill="url(#lg3)"/>
<use href="#lf3" transform="translate(1983.9,294.0) rotate(79) scale(10.8,10.8)" fill="url(#lg3)"/>
<use href="#lf3" transform="translate(1976.2,289.8) rotate(132) scale(13.4,13.4)" fill="url(#lg2)"/>
<use href="#lf1" transform="translate(1950.3,274.0) rotate(147) scale(13.1,13.1)" fill="url(#lg2)"/>
<use href="#lf1" transform="translate(1984.4,297.6) rotate(35) scale(10.7,10.7)" fill="url(#lg3)"/>
<use href="#lf1" transform="translate(1987.1,291.1) rotate(15) scale(12.6,12.6)" fill="url(#lg3)"/>
<use href="#lf2" transform="translate(1988.8,290.2) rotate(267) scale(11.4,11.4)" fill="url(#lg3)"/>
<use href="#lf1" transform="translate(1996.2,293.8) rotate(160) scale(13.6,13.6)" fill="url(#lg2)"/>
<use href="#lf2" transform="translate(1974.2,290.8) rotate(135) scale(11.1,11.1)" fill="url(#lg3)"/>
<use href="#lf1" transform="translate(1951.0,273.4) rotate(171) scale(13.8,13.8)" fill="url(#lg2)"/>
<use href="#lf2" transform="translate(1981.1,294.6) rotate(167) scale(11.1,11.1)" fill="url(#lg3)"/>
<use href="#lf3" transform="translate(1958.6,286.1) rotate(5) scale(12.1,12.1)" fill="url(#lg3)"/>
<use href="#lf2" transform="translate(1998.8,287.0) rotate(1) scale(13.8,13.8)" fill="url(#lg4)"/>
<use href="#lf1" transform="translate(1946.5,278.0) rotate(13) scale(13.9,13.9)" fill="url(#lg2)"/>
<use href="#lf1" transform="translate(2003.6,296.9) rotate(18) scale(11.4,11.4)" fill="url(#lg2)"/>
<use href="#lf2" transform="translate(1980.1,283.2) rotate(179) scale(12.7,12.7)" fill="url(#lg3)"/>
<path d="M1706,367L1669,438" stroke="#efd33c" stroke-width="33"/>
<path d="M1699.0,363.3L1662.0,434.3" stroke="#cdbd2c" stroke-width="9.9"/>
<path d="M1711.3,369.7L1674.3,440.7" stroke="#fbe85a" stroke-width="6.6"/>
<use href="#lf2" transform="translate(1708.2,366.5) rotate(200) scale(10.7,13.0)" fill="url(#lg3)"/>
<use href="#lf2" transform="translate(1709.6,362.3) rotate(405) scale(10.6,13.6)" fill="url(#lg2)"/>
<use href="#lf3" transform="translate(1723.7,369.1) rotate(437) scale(8.9,11.9)" fill="url(#lg2)"/>
<use href="#lf3" transform="translate(1704.3,369.4) rotate(224) scale(9.1,10.3)" fill="url(#lg3)"/>
<use href="#lf3" transform="translate(1718.7,377.4) rotate(191) scale(9.9,10.9)" fill="url(#lg3)"/>
<use href="#lf1" transform="translate(1720.0,375.0) rotate(402) scale(10.9,12.5)" fill="url(#lg3)"/>
<use href="#lf2" transform="translate(1692.1,362.6) rotate(241) scale(9.9,12.1)" fill="url(#lg3)"/>
<use href="#lf2" transform="translate(1694.1,354.8) rotate(339) scale(9.2,10.3)" fill="url(#lg3)"/>
<use href="#lf2" transform="translate(1690.8,358.9) rotate(235) scale(11.0,13.6)" fill="url(#lg2)"/>
<use href="#lf3" transform="translate(1688.2,401.3) rotate(218) scale(9.2,11.7)" fill="url(#lg4)"/>
<use href="#lf3" transform="translate(1690.0,398.4) rotate(388) scale(10.9,14.0)" fill="url(#lg2)"/>
<use href="#lf1" transform="translate(1700.4,416.3) rotate(177) scale(10.1,12.2)" fill="url(#lg1)"/>
<use href="#lf1" transform="translate(1703.6,409.9) rotate(399) scale(9.9,11.0)" fill="url(#lg2)"/>
<use href="#lf3" transform="translate(1674.8,392.0) rotate(373) scale(10.7,14.3)" fill="url(#lg1)"/>
<use href="#lf1" transform="translate(1675.3,395.6) rotate(216) scale(9.3,12.1)" fill="url(#lg3)"/>
<use href="#lf1" transform="translate(1705.6,404.9) rotate(417) scale(9.6,11.2)" fill="url(#lg2)"/>
<use href="#lf3" transform="translate(1684.1,404.7) rotate(190) scale(9.1,10.9)" fill="url(#lg2)"/>
<use href="#lf2" transform="translate(1673.3,398.7) rotate(254) scale(11.0,12.7)" fill="url(#lg4)"/>
<use href="#lf2" transform="translate(1679.8,449.6) rotate(198) scale(9.6,11.3)" fill="url(#lg3)"/>
<use href="#lf1" transform="translate(1657.1,428.9) rotate(349) scale(10.7,14.1)" fill="url(#lg3)"/>
<use href="#lf3" transform="translate(1672.4,434.6) rotate(404) scale(9.7,13.0)" fill="url(#lg3)"/>
<use href="#lf1" transform="translate(1683.9,447.9) rotate(162) scale(9.8,11.1)" fill="url(#lg1)"/>
<use href="#lf3" transform="translate(1655.9,431.6) rotate(376) scale(9.6,11.4)" fill="url(#lg2)"/>
<use href="#lf2" transform="translate(1684.5,442.7) rotate(404) scale(9.8,12.2)" fill="url(#lg2)"/>
<use href="#lf2" transform="translate(1667.0,439.2) rotate(363) scale(10.4,12.9)" fill="url(#lg2)"/>
<use href="#lf1" transform="translate(1668.5,441.0) rotate(219) scale(10.0,12.8)" fill="url(#lg3)"/>
<use href="#lf1" transform="translate(1652.7,436.6) rotate(226) scale(9.9,12.8)" fill="url(#lg2)"/>
<path d="M1623,381L1669,438" stroke="#efd33c" stroke-width="33"/>
<path d="M1616.8,386.0L1662.8,443.0" stroke="#cdbd2c" stroke-width="9.9"/>
<path d="M1627.6,377.3L1673.6,434.3" stroke="#fbe85a" stroke-width="6.6"/>
<use href="#lf1" transform="translate(1657.3,398.6) rotate(318) scale(9.3,10.6)" fill="url(#lg1)"/>
<use href="#lf2" transform="translate(1647.8,413.8) rotate(116) scale(9.0,10.8)" fill="url(#lg3)"/>
<use href="#lf1" transform="translate(1644.3,407.7) rotate(341) scale(9.8,12.2)" fill="url(#lg3)"/>
<use href="#lf3" transform="translate(1634.2,422.5) rotate(158) scale(9.5,11.9)" fill="url(#lg2)"/>
<use href="#lf3" transform="translate(1634.5,419.9) rotate(158) scale(10.7,13.3)" fill="url(#lg3)"/>
<use href="#lf1" transform="translate(1658.2,396.3) rotate(372) scale(9.7,11.9)" fill="url(#lg3)"/>
<use href="#lf1" transform="translate(1631.7,415.9) rotate(294) scale(9.7,12.4)" fill="url(#lg3)"/>
<use href="#lf1" transform="translate(1659.5,403.2) rotate(144) scale(9.9,12.3)" fill="url(#lg3)"/>
<use href="#lf3" transform="translate(1646.7,408.6) rotate(142) scale(9.3,11.5)" fill="url(#lg3)"/>
<use href="#lf3" transform="translate(1683.3,428.1) rotate(332) scale(10.7,13.6)" fill="url(#lg4)"/>
<use href="#lf1" transform="translate(1667.0,436.4) rotate(310) scale(9.4,11.2)" fill="url(#lg3)"/>
<use href="#lf1" transform="translate(1670.2,442.2) rotate(133) scale(10.8,12.7)" fill="url(#lg1)"/>
<use href="#lf2" transform="translate(1679.0,422.2) rotate(340) scale(9.9,13.0)" fill="url(#lg1)"/>
<use href="#lf2" transform="translate(1658.0,448.7) rotate(158) scale(10.2,12.3)" fill="url(#lg3)"/>
<use href="#lf1" transform="translate(1683.6,431.4) rotate(103) scale(10.8,14.4)" fill="url(#lg1)"/>
<use href="#lf1" transform="translate(1660.3,452.0) rotate(137) scale(10.7,12.8)" fill="url(#lg4)"/>
<use href="#lf2" transform="translate(1670.0,437.5) rotate(144) scale(9.6,12.1)" fill="url(#lg3)"/>
<use href="#lf1" transform="translate(1655.5,443.8) rotate(303) scale(10.9,13.5)" fill="url(#lg2)"/>
<use href="#lf1" transform="translate(1607.6,385.2) rotate(62) scale(11.2,11.2)" fill="url(#lg2)"/>
<use href="#lf1" transform="translate(1619.8,375.3) rotate(131) scale(13.2,13.2)" fill="url(#lg2)"/>
<use href="#lf3" transform="translate(1613.4,387.5) rotate(153) scale(12.4,12.4)" fill="url(#lg2)"/>
<use href="#lf2" transform="translate(1630.4,370.3) rotate(193) scale(10.3,10.3)" fill="url(#lg4)"/>
<use href="#lf1" transform="translate(1642.2,356.5) rotate(151) scale(12.1,12.1)" fill="url(#lg4)"/>
<use href="#lf2" transform="translate(1627.5,375.5) rotate(146) scale(11.9,11.9)" fill="url(#lg2)"/>
<use href="#lf3" transform="translate(1605.3,384.9) rotate(311) scale(11.7,11.7)" fill="url(#lg2)"/>
<use href="#lf3" transform="translate(1629.2,370.8) rotate(107) scale(10.6,10.6)" fill="url(#lg3)"/>
<use href="#lf3" transform="translate(1643.6,371.6) rotate(15) scale(11.5,11.5)" fill="url(#lg3)"/>
<use href="#lf3" transform="translate(1632.3,362.7) rotate(199) scale(13.0,13.0)" fill="url(#lg3)"/>
<use href="#lf3" transform="translate(1606.9,400.4) rotate(356) scale(12.2,12.2)" fill="url(#lg3)"/>
<use href="#lf2" transform="translate(1627.1,365.1) rotate(265) scale(12.7,12.7)" fill="url(#lg3)"/>
<use href="#lf2" transform="translate(1623.8,379.9) rotate(251) scale(11.0,11.0)" fill="url(#lg2)"/>
<use href="#lf1" transform="translate(1609.7,385.9) rotate(329) scale(10.6,10.6)" fill="url(#lg4)"/>
<use href="#lf1" transform="translate(1619.7,381.0) rotate(199) scale(13.6,13.6)" fill="url(#lg3)"/>
<use href="#lf1" transform="translate(1612.2,390.1) rotate(60) scale(12.8,12.8)" fill="url(#lg3)"/>
<path d="M1669,438L1870,482" stroke="#efd33c" stroke-width="32"/>
<path d="M1667.4,445.5L1868.4,489.5" stroke="#cdbd2c" stroke-width="9.6"/>
<path d="M1670.2,432.4L1871.2,476.4" stroke="#fbe85a" stroke-width="6.4"/>
<use href="#lf1" transform="translate(1664.7,436.1) rotate(268) scale(10.2,11.6)" fill="url(#lg3)"/>
<use href="#lf1" transform="translate(1672.6,424.7) rotate(317) scale(9.3,11.0)" fill="url(#lg3)"/>
<use href="#lf1" transform="translate(1675.2,438.4) rotate(75) scale(9.1,11.4)" fill="url(#lg4)"/>
<use href="#lf3" transform="translate(1661.0,452.0) rotate(287) scale(9.3,10.9)" fill="url(#lg2)"/>
<use href="#lf3" transform="translate(1676.5,424.8) rotate(78) scale(10.3,11.9)" fill="url(#lg4)"/>
<use href="#lf2" transform="translate(1668.4,454.9) rotate(109) scale(10.3,13.3)" fill="url(#lg3)"/>
<use href="#lf2" transform="translate(1664.0,454.1) rotate(246) scale(8.8,10.0)" fill="url(#lg2)"/>
<use href="#lf2" transform="translate(1668.4,420.4) rotate(299) scale(9.0,11.0)" fill="url(#lg2)"/>
<use href="#lf2" transform="translate(1670.1,436.6) rotate(127) scale(10.4,14.0)" fill="url(#lg3)"/>
<use href="#lf1" transform="translate(1714.0,448.0) rotate(76) scale(9.4,11.7)" fill="url(#lg1)"/>
<use href="#lf1" transform="translate(1707.7,447.3) rotate(300) scale(8.8,9.9)" fill="url(#lg3)"/>
<use href="#lf3" transform="translate(1710.8,461.8) rotate(137) scale(9.3,11.1)" fill="url(#lg2)"/>
<use href="#lf1" transform="translate(1705.4,446.1) rotate(263) scale(10.1,11.3)" fill="url(#lg2)"/>
<use href="#lf1" transform="translate(1710.3,429.8) rotate(305) scale(10.4,12.2)" fill="url(#lg3)"/>
<use href="#lf2" transform="translate(1699.7,462.2) rotate(236) scale(8.7,10.5)" fill="url(#lg2)"/>
<use href="#lf1" transform="translate(1707.2,461.8) rotate(269) scale(9.7,11.8)" fill="url(#lg4)"/>
<use href="#lf1" transform="translate(1716.0,431.8) rotate(58) scale(9.7,13.0)" fill="url(#lg3)"/>
<use href="#lf3" transform="translate(1713.1,432.0) rotate(93) scale(9.7,10.9)" fill="url(#lg1)"/>
<use href="#lf3" transform="translate(1742.5,470.9) rotate(233) scale(8.8,9.7)" fill="url(#lg2)"/>
<use href="#lf2" transform="translate(1750.6,471.0) rotate(139) scale(10.1,11.8)" fill="url(#lg3)"/>
<use href="#lf3" transform="translate(1750.2,439.0) rotate(285) scale(10.8,12.2)" fill="url(#lg2)"/>
<use href="#lf1" transform="translate(1754.7,456.4) rotate(96) scale(10.0,11.8)" fill="url(#lg4)"/>
<use href="#lf1" transform="translate(1758.9,441.9) rotate(57) scale(8.7,10.7)" fill="url(#lg3)"/>
<use href="#lf2" transform="translate(1752.6,440.5) rotate(313) scale(8.8,11.4)" fill="url(#lg3)"/>
<use href="#lf2" transform="translate(1744.7,469.2) rotate(129) scale(10.4,13.9)" fill="url(#lg1)"/>
<use href="#lf3" transform="translate(1748.8,454.7) rotate(96) scale(9.0,10.0)" fill="url(#lg3)"/>
<use href="#lf1" transform="translate(1744.7,453.2) rotate(263) scale(11.0,12.2)" fill="url(#lg4)"/>
<use href="#lf3" transform="translate(1786.1,478.3) rotate(145) scale(10.2,12.6)" fill="url(#lg2)"/>
<use href="#lf3" transform="translate(1793.1,448.9) rotate(95) scale(9.0,11.4)" fill="url(#lg1)"/>
<use href="#lf3" transform="translate(1785.9,462.9) rotate(281) scale(10.8,14.2)" fill="url(#lg4)"/>
<use href="#lf1" transform="translate(1797.9,451.6) rotate(62) scale(10.9,14.5)" fill="url(#lg2)"/>
<use href="#lf2" transform="translate(1793.2,463.6) rotate(103) scale(10.8,14.3)" fill="url(#lg2)"/>
<use href="#lf3" transform="translate(1789.7,465.8) rotate(274) scale(9.6,11.9)" fill="url(#lg2)"/>
<use href="#lf3" transform="translate(1781.3,478.8) rotate(253) scale(10.6,12.6)" fill="url(#lg4)"/>
<use href="#lf1" transform="translate(1789.0,448.8) rotate(278) scale(10.9,12.7)" fill="url(#lg4)"/>
<use href="#lf2" transform="translate(1788.9,482.1) rotate(133) scale(10.3,12.1)" fill="url(#lg4)"/>
<use href="#lf1" transform="translate(1820.6,488.4) rotate(231) scale(10.4,12.2)" fill="url(#lg3)"/>
<use href="#lf1" transform="translate(1824.4,473.5) rotate(257) scale(10.4,12.2)" fill="url(#lg2)"/>
<use href="#lf1" transform="translate(1837.6,457.4) rotate(91) scale(10.4,13.5)" fill="url(#lg3)"/>
<use href="#lf1" transform="translate(1833.0,472.9) rotate(74) scale(10.0,11.9)" fill="url(#lg3)"/>
<use href="#lf3" transform="translate(1825.9,487.2) rotate(120) scale(10.8,12.8)" fill="url(#lg2)"/>
<use href="#lf1" transform="translate(1833.7,460.0) rotate(100) scale(10.6,12.1)" fill="url(#lg3)"/>
<use href="#lf1" transform="translate(1827.5,455.7) rotate(289) scale(9.2,10.6)" fill="url(#lg4)"/>
<use href="#lf2" transform="translate(1828.8,472.3) rotate(99) scale(9.2,10.2)" fill="url(#lg3)"/>
<use href="#lf2" transform="translate(1829.4,487.8) rotate(128) scale(10.5,12.6)" fill="url(#lg1)"/>
<use href="#lf1" transform="translate(1862.7,495.6) rotate(235) scale(9.9,12.7)" fill="url(#lg1)"/>
<use href="#lf2" transform="translate(1872.8,498.5) rotate(135) scale(9.2,12.4)" fill="url(#lg3)"/>
<use href="#lf2" transform="translate(1873.7,465.8) rotate(61) scale(10.2,12.0)" fill="url(#lg3)"/>
<use href="#lf1" transform="translate(1875.2,482.2) rotate(85) scale(8.8,10.6)" fill="url(#lg3)"/>
<use href="#lf1" transform="translate(1871.3,482.4) rotate(129) scale(10.6,14.3)" fill="url(#lg1)"/>
<use href="#lf3" transform="translate(1865.7,479.8) rotate(295) scale(9.8,10.8)" fill="url(#lg3)"/>
<use href="#lf1" transform="translate(1876.1,467.7) rotate(58) scale(10.7,12.3)" fill="url(#lg1)"/>
<use href="#lf3" transform="translate(1870.4,464.2) rotate(326) scale(9.5,11.4)" fill="url(#lg3)"/>
<use href="#lf3" transform="translate(1868.0,495.8) rotate(280) scale(9.7,12.3)" fill="url(#lg4)"/>
<path d="M1870,482L2024,462" stroke="#efd33c" stroke-width="32"/>
<path d="M1871.0,489.6L2025.0,469.6" stroke="#cdbd2c" stroke-width="9.6"/>
<path d="M1869.3,476.3L2023.3,456.3" stroke="#fbe85a" stroke-width="6.4"/>
<use href="#lf3" transform="translate(1876.3,495.3) rotate(74) scale(10.0,13.4)" fill="url(#lg2)"/>
<use href="#lf3" transform="translate(1873.2,466.1) rotate(75) scale(10.5,11.7)" fill="url(#lg3)"/>
<use href="#lf3" transform="translate(1867.1,483.3) rotate(249) scale(10.6,13.7)" fill="url(#lg2)"/>
<use href="#lf2" transform="translate(1867.7,499.5) rotate(240) scale(9.6,11.8)" fill="url(#lg3)"/>
<use href="#lf3" transform="translate(1865.0,465.5) rotate(287) scale(9.7,11.8)" fill="url(#lg3)"/>
<use href="#lf1" transform="translate(1869.7,481.2) rotate(282) scale(10.9,13.7)" fill="url(#lg1)"/>
<use href="#lf2" transform="translate(1871.5,497.8) rotate(242) scale(10.8,12.6)" fill="url(#lg2)"/>
<use href="#lf3" transform="translate(1874.0,479.8) rotate(92) scale(9.7,12.8)" fill="url(#lg2)"/>
<use href="#lf3" transform="translate(1869.0,465.8) rotate(278) scale(10.5,13.9)" fill="url(#lg2)"/>
<use href="#lf1" transform="translate(1914.2,474.6) rotate(73) scale(9.7,11.1)" fill="url(#lg1)"/>
<use href="#lf2" transform="translate(1912.9,491.7) rotate(99) scale(10.3,13.0)" fill="url(#lg2)"/>
<use href="#lf3" transform="translate(1909.9,492.7) rotate(245) scale(10.5,12.7)" fill="url(#lg2)"/>
<use href="#lf3" transform="translate(1909.1,462.1) rotate(82) scale(10.8,13.7)" fill="url(#lg3)"/>
<use href="#lf2" transform="translate(1906.2,460.4) rotate(79) scale(9.5,12.3)" fill="url(#lg2)"/>
<use href="#lf3" transform="translate(1903.4,476.9) rotate(268) scale(10.1,11.9)" fill="url(#lg4)"/>
<use href="#lf1" transform="translate(1905.2,493.0) rotate(215) scale(9.2,10.3)" fill="url(#lg2)"/>
<use href="#lf2" transform="translate(1909.1,477.8) rotate(94) scale(8.9,10.1)" fill="url(#lg3)"/>
<use href="#lf3" transform="translate(1903.1,463.3) rotate(279) scale(8.7,10.9)" fill="url(#lg4)"/>
<use href="#lf3" transform="translate(1948.8,458.1) rotate(81) scale(10.1,11.6)" fill="url(#lg3)"/>
<use href="#lf3" transform="translate(1942.1,472.1) rotate(248) scale(10.1,11.1)" fill="url(#lg3)"/>
<use href="#lf2" transform="translate(1943.6,486.7) rotate(264) scale(9.0,11.3)" fill="url(#lg2)"/>
<use href="#lf2" transform="translate(1950.9,472.3) rotate(92) scale(10.6,13.0)" fill="url(#lg2)"/>
<use href="#lf1" transform="translate(1943.9,458.3) rotate(309) scale(10.6,12.7)" fill="url(#lg2)"/>
<use href="#lf3" transform="translate(1945.4,471.7) rotate(282) scale(10.7,12.4)" fill="url(#lg3)"/>
<use href="#lf2" transform="translate(1948.6,488.1) rotate(221) scale(10.0,12.3)" fill="url(#lg3)"/>
<use href="#lf2" transform="translate(1941.8,458.8) rotate(282) scale(9.5,12.7)" fill="url(#lg3)"/>
<use href="#lf1" transform="translate(1952.5,488.4) rotate(128) scale(9.3,12.5)" fill="url(#lg1)"/>
<use href="#lf1" transform="translate(1990.0,465.0) rotate(59) scale(10.2,11.6)" fill="url(#lg3)"/>
<use href="#lf1" transform="translate(1983.8,466.8) rotate(92) scale(10.9,14.1)" fill="url(#lg4)"/>
<use href="#lf2" transform="translate(1993.5,480.3) rotate(124) scale(9.7,11.2)" fill="url(#lg3)"/>
<use href="#lf3" transform="translate(1984.3,481.1) rotate(247) scale(8.7,11.5)" fill="url(#lg4)"/>
<use href="#lf3" transform="translate(1985.7,481.7) rotate(230) scale(9.2,12.1)" fill="url(#lg3)"/>
<use href="#lf1" transform="translate(1989.5,451.6) rotate(37) scale(10.7,14.3)" fill="url(#lg1)"/>
<use href="#lf2" transform="translate(1978.6,451.5) rotate(264) scale(10.4,13.5)" fill="url(#lg2)"/>
<use href="#lf2" transform="translate(1982.1,468.5) rotate(247) scale(9.3,12.2)" fill="url(#lg3)"/>
<use href="#lf3" transform="translate(1985.0,451.1) rotate(279) scale(10.1,12.0)" fill="url(#lg3)"/>
<use href="#lf3" transform="translate(2029.1,478.2) rotate(112) scale(9.4,11.5)" fill="url(#lg3)"/>
<use href="#lf1" transform="translate(2018.5,461.3) rotate(259) scale(9.8,10.9)" fill="url(#lg3)"/>
<use href="#lf2" transform="translate(2020.2,444.9) rotate(79) scale(10.5,13.0)" fill="url(#lg2)"/>
<use href="#lf1" transform="translate(2025.5,476.4) rotate(87) scale(10.6,12.4)" fill="url(#lg2)"/>
<use href="#lf3" transform="translate(2023.1,478.2) rotate(216) scale(9.5,10.8)" fill="url(#lg2)"/>
<use href="#lf1" transform="translate(2027.7,445.8) rotate(88) scale(10.7,13.4)" fill="url(#lg1)"/>
<use href="#lf1" transform="translate(2016.4,446.1) rotate(262) scale(10.3,12.6)" fill="url(#lg4)"/>
<use href="#lf2" transform="translate(2024.3,462.8) rotate(72) scale(9.7,11.2)" fill="url(#lg4)"/>
<use href="#lf1" transform="translate(2028.6,462.7) rotate(66) scale(10.7,14.2)" fill="url(#lg1)"/>
<path d="M1938,370L2024,462" stroke="#efd33c" stroke-width="33"/>
<path d="M1932.2,375.4L2018.2,467.4" stroke="#cdbd2c" stroke-width="9.9"/>
<path d="M1942.3,365.9L2028.3,457.9" stroke="#fbe85a" stroke-width="6.6"/>
<use href="#lf2" transform="translate(1941.7,371.1) rotate(127) scale(11.1,13.3)" fill="url(#lg3)"/>
<use href="#lf3" transform="translate(1922.9,375.9) rotate(280) scale(10.1,11.3)" fill="url(#lg3)"/>
<use href="#lf2" transform="translate(1928.8,385.0) rotate(154) scale(9.5,12.4)" fill="url(#lg4)"/>
<use href="#lf2" transform="translate(1938.8,371.8) rotate(144) scale(9.7,12.0)" fill="url(#lg3)"/>
<use href="#lf2" transform="translate(1950.9,359.2) rotate(326) scale(9.7,12.1)" fill="url(#lg3)"/>
<use href="#lf3" transform="translate(1952.8,364.2) rotate(129) scale(9.2,11.6)" fill="url(#lg3)"/>
<use href="#lf3" transform="translate(1945.9,353.9) rotate(313) scale(9.4,12.0)" fill="url(#lg3)"/>
<use href="#lf2" transform="translate(1924.9,380.5) rotate(293) scale(10.0,12.6)" fill="url(#lg3)"/>
<use href="#lf1" transform="translate(1933.8,368.3) rotate(332) scale(10.8,14.3)" fill="url(#lg3)"/>
<use href="#lf3" transform="translate(1954.8,412.5) rotate(317) scale(9.1,11.4)" fill="url(#lg3)"/>
<use href="#lf1" transform="translate(1952.0,410.7) rotate(282) scale(10.4,13.0)" fill="url(#lg2)"/>
<use href="#lf2" transform="translate(1960.2,414.8) rotate(132) scale(10.2,12.2)" fill="url(#lg3)"/>
<use href="#lf1" transform="translate(1982.5,391.4) rotate(132) scale(9.0,11.0)" fill="url(#lg3)"/>
<use href="#lf3" transform="translate(1962.7,398.5) rotate(299) scale(10.5,12.3)" fill="url(#lg4)"/>
<use href="#lf1" transform="translate(1971.3,403.9) rotate(109) scale(11.1,14.8)" fill="url(#lg3)"/>
<use href="#lf2" transform="translate(1976.5,389.0) rotate(343) scale(9.8,12.9)" fill="url(#lg4)"/>
<use href="#lf3" transform="translate(1964.9,400.4) rotate(313) scale(8.9,10.1)" fill="url(#lg2)"/>
<use href="#lf1" transform="translate(1977.2,387.3) rotate(343) scale(9.9,13.0)" fill="url(#lg2)"/>
<use href="#lf1" transform="translate(2009.4,425.8) rotate(120) scale(10.6,14.3)" fill="url(#lg3)"/>
<use href="#lf2" transform="translate(1985.8,443.9) rotate(182) scale(10.6,12.7)" fill="url(#lg1)"/>
<use href="#lf2" transform="translate(1991.1,427.9) rotate(291) scale(10.6,14.2)" fill="url(#lg2)"/>
<use href="#lf1" transform="translate(2004.1,416.9) rotate(359) scale(9.0,11.8)" fill="url(#lg2)"/>
<use href="#lf2" transform="translate(2006.9,419.6) rotate(112) scale(9.1,11.9)" fill="url(#lg3)"/>
<use href="#lf1" transform="translate(1999.7,434.3) rotate(159) scale(9.6,10.7)" fill="url(#lg2)"/>
<use href="#lf2" transform="translate(1982.0,438.3) rotate(291) scale(10.4,11.9)" fill="url(#lg3)"/>
<use href="#lf1" transform="translate(1997.2,431.7) rotate(325) scale(9.1,10.7)" fill="url(#lg2)"/>
<use href="#lf1" transform="translate(1983.1,441.1) rotate(144) scale(10.7,12.3)" fill="url(#lg3)"/>
<use href="#lf3" transform="translate(2028.1,464.1) rotate(160) scale(10.6,13.3)" fill="url(#lg3)"/>
<use href="#lf1" transform="translate(2031.3,447.5) rotate(322) scale(11.0,12.9)" fill="url(#lg4)"/>
<use href="#lf2" transform="translate(2037.3,451.7) rotate(349) scale(9.3,10.9)" fill="url(#lg2)"/>
<use href="#lf3" transform="translate(2021.6,460.5) rotate(315) scale(10.7,13.1)" fill="url(#lg1)"/>
<use href="#lf1" transform="translate(2015.0,475.5) rotate(169) scale(10.3,12.3)" fill="url(#lg1)"/>
<use href="#lf2" transform="translate(2014.4,473.6) rotate(176) scale(9.1,10.1)" fill="url(#lg2)"/>
<use href="#lf1" transform="translate(2010.5,469.2) rotate(273) scale(9.0,10.5)" fill="url(#lg2)"/>
<use href="#lf2" transform="translate(2023.8,462.3) rotate(312) scale(10.4,11.7)" fill="url(#lg3)"/>
<use href="#lf1" transform="translate(2039.1,453.3) rotate(109) scale(9.3,10.4)" fill="url(#lg3)"/>
<path d="M2100,393L2024,462" stroke="#efd33c" stroke-width="33"/>
<path d="M2094.7,387.1L2018.7,456.1" stroke="#cdbd2c" stroke-width="9.9"/>
<path d="M2104.0,397.4L2028.0,466.4" stroke="#fbe85a" stroke-width="6.6"/>
<use href="#lf2" transform="translate(2063.4,428.0) rotate(212) scale(9.0,10.9)" fill="url(#lg2)"/>
<use href="#lf3" transform="translate(2065.9,424.5) rotate(407) scale(10.0,11.8)" fill="url(#lg1)"/>
<use href="#lf2" transform="translate(2052.4,414.1) rotate(264) scale(10.1,11.3)" fill="url(#lg2)"/>
<use href="#lf2" transform="translate(2078.9,435.2) rotate(415) scale(9.1,11.0)" fill="url(#lg1)"/>
<use href="#lf2" transform="translate(2072.2,439.3) rotate(221) scale(10.3,12.5)" fill="url(#lg4)"/>
<use href="#lf3" transform="translate(2055.4,431.3) rotate(211) scale(10.3,12.6)" fill="url(#lg2)"/>
<use href="#lf3" transform="translate(2055.0,411.5) rotate(390) scale(8.9,11.5)" fill="url(#lg2)"/>
<use href="#lf3" transform="translate(2047.0,420.2) rotate(248) scale(8.9,10.4)" fill="url(#lg4)"/>
<use href="#lf2" transform="translate(2067.9,442.0) rotate(196) scale(9.0,10.7)" fill="url(#lg1)"/>
<use href="#lf1" transform="translate(2024.7,460.9) rotate(416) scale(9.3,10.9)" fill="url(#lg4)"/>
<use href="#lf3" transform="translate(2030.5,479.4) rotate(227) scale(9.1,12.1)" fill="url(#lg3)"/>
<use href="#lf3" transform="translate(2035.7,472.6) rotate(228) scale(10.7,13.9)" fill="url(#lg2)"/>
<use href="#lf1" transform="translate(2020.4,467.0) rotate(237) scale(9.9,11.1)" fill="url(#lg1)"/>
<use href="#lf3" transform="translate(2027.4,458.9) rotate(433) scale(9.4,10.9)" fill="url(#lg3)"/>
<use href="#lf1" transform="translate(2018.9,447.7) rotate(397) scale(9.6,12.8)" fill="url(#lg4)"/>
<use href="#lf2" transform="translate(2009.4,454.0) rotate(255) scale(10.5,12.5)" fill="url(#lg4)"/>
<use href="#lf2" transform="translate(2039.9,469.2) rotate(447) scale(9.4,10.5)" fill="url(#lg3)"/>
<use href="#lf3" transform="translate(2013.3,449.2) rotate(396) scale(9.5,12.0)" fill="url(#lg2)"/>
<use href="#lf3" transform="translate(2123.0,410.6) rotate(167) scale(11.8,11.8)" fill="url(#lg3)"/>
<use href="#lf3" transform="translate(2105.4,403.5) rotate(305) scale(10.0,10.0)" fill="url(#lg3)"/>
<use href="#lf2" transform="translate(2098.3,383.9) rotate(135) scale(13.0,13.0)" fill="url(#lg2)"/>
<use href="#lf3" transform="translate(2107.2,395.1) rotate(230) scale(13.2,13.2)" fill="url(#lg4)"/>
<use href="#lf1" transform="translate(2116.1,400.7) rotate(347) scale(13.7,13.7)" fill="url(#lg2)"/>
<use href="#lf3" transform="translate(2085.9,369.2) rotate(107) scale(13.1,13.1)" fill="url(#lg2)"/>
<use href="#lf2" transform="translate(2082.4,381.4) rotate(136) scale(11.7,11.7)" fill="url(#lg4)"/>
<use href="#lf3" transform="translate(2112.4,404.1) rotate(27) scale(13.6,13.6)" fill="url(#lg2)"/>
<use href="#lf3" transform="translate(2112.4,392.4) rotate(299) scale(11.8,11.8)" fill="url(#lg3)"/>
<use href="#lf2" transform="translate(2076.3,372.7) rotate(275) scale(12.8,12.8)" fill="url(#lg3)"/>
<use href="#lf3" transform="translate(2107.0,400.9) rotate(218) scale(10.5,10.5)" fill="url(#lg3)"/>
<use href="#lf3" transform="translate(2101.7,403.6) rotate(202) scale(12.7,12.7)" fill="url(#lg2)"/>
<use href="#lf2" transform="translate(2091.7,392.8) rotate(92) scale(10.3,10.3)" fill="url(#lg1)"/>
<use href="#lf2" transform="translate(2081.2,373.4) rotate(293) scale(12.6,12.6)" fill="url(#lg1)"/>
<use href="#lf1" transform="translate(2086.1,371.3) rotate(145) scale(12.5,12.5)" fill="url(#lg3)"/>
<use href="#lf1" transform="translate(2112.3,398.7) rotate(261) scale(11.0,11.0)" fill="url(#lg4)"/>
<path d="M2024,462L2148,622" stroke="#efd33c" stroke-width="32"/>
<path d="M2017.9,466.7L2141.9,626.7" stroke="#cdbd2c" stroke-width="9.6"/>
<path d="M2028.6,458.5L2152.6,618.5" stroke="#fbe85a" stroke-width="6.4"/>
<use href="#lf1" transform="translate(2028.1,466.3) rotate(142) scale(9.7,12.1)" fill="url(#lg3)"/>
<use href="#lf3" transform="translate(2008.3,469.9) rotate(311) scale(9.9,12.1)" fill="url(#lg2)"/>
<use href="#lf2" transform="translate(2038.8,454.7) rotate(103) scale(10.4,12.2)" fill="url(#lg2)"/>
<use href="#lf2" transform="translate(2014.3,473.9) rotate(157) scale(10.4,13.0)" fill="url(#lg3)"/>
<use href="#lf2" transform="translate(2011.4,470.3) rotate(316) scale(8.7,11.3)" fill="url(#lg1)"/>
<use href="#lf1" transform="translate(2023.4,461.8) rotate(298) scale(10.4,12.4)" fill="url(#lg4)"/>
<use href="#lf3" transform="translate(2037.0,454.2) rotate(125) scale(8.8,11.6)" fill="url(#lg4)"/>
<use href="#lf1" transform="translate(2021.6,459.8) rotate(342) scale(9.4,11.6)" fill="url(#lg2)"/>
<use href="#lf3" transform="translate(2034.3,447.7) rotate(338) scale(10.0,11.2)" fill="url(#lg2)"/>
<use href="#lf1" transform="translate(2035.8,504.7) rotate(284) scale(9.6,12.5)" fill="url(#lg4)"/>
<use href="#lf1" transform="translate(2032.2,500.1) rotate(324) scale(10.6,11.7)" fill="url(#lg2)"/>
<use href="#lf2" transform="translate(2052.2,497.4) rotate(118) scale(10.7,14.3)" fill="url(#lg2)"/>
<use href="#lf1" transform="translate(2041.3,507.8) rotate(140) scale(10.7,12.5)" fill="url(#lg4)"/>
<use href="#lf1" transform="translate(2049.2,495.8) rotate(293) scale(10.7,14.4)" fill="url(#lg4)"/>
<use href="#lf3" transform="translate(2065.0,488.1) rotate(130) scale(9.3,12.1)" fill="url(#lg2)"/>
<use href="#lf3" transform="translate(2046.0,492.9) rotate(325) scale(10.5,13.5)" fill="url(#lg2)"/>
<use href="#lf3" transform="translate(2056.5,481.8) rotate(356) scale(11.0,14.3)" fill="url(#lg3)"/>
<use href="#lf2" transform="translate(2063.0,485.3) rotate(356) scale(9.5,11.2)" fill="url(#lg2)"/>
<use href="#lf2" transform="translate(2084.4,517.0) rotate(359) scale(9.0,10.3)" fill="url(#lg2)"/>
<use href="#lf3" transform="translate(2061.8,536.8) rotate(300) scale(8.8,10.1)" fill="url(#lg2)"/>
<use href="#lf2" transform="translate(2071.3,526.0) rotate(299) scale(9.8,12.3)" fill="url(#lg3)"/>
<use href="#lf2" transform="translate(2090.7,519.6) rotate(95) scale(9.3,10.9)" fill="url(#lg4)"/>
<use href="#lf3" transform="translate(2071.2,524.0) rotate(319) scale(10.2,11.9)" fill="url(#lg3)"/>
<use href="#lf2" transform="translate(2084.5,511.6) rotate(331) scale(9.3,12.5)" fill="url(#lg3)"/>
<use href="#lf1" transform="translate(2075.9,532.2) rotate(138) scale(9.2,10.3)" fill="url(#lg2)"/>
<use href="#lf1" transform="translate(2063.3,538.1) rotate(169) scale(10.7,12.4)" fill="url(#lg1)"/>
<use href="#lf1" transform="translate(2057.1,532.4) rotate(293) scale(9.6,11.7)" fill="url(#lg4)"/>
<use href="#lf1" transform="translate(2088.9,573.4) rotate(188) scale(9.2,12.3)" fill="url(#lg4)"/>
<use href="#lf2" transform="translate(2087.0,567.3) rotate(150) scale(8.8,11.3)" fill="url(#lg3)"/>
<use href="#lf2" transform="translate(2114.5,553.2) rotate(124) scale(9.4,10.8)" fill="url(#lg2)"/>
<use href="#lf3" transform="translate(2097.9,557.9) rotate(130) scale(10.4,13.0)" fill="url(#lg4)"/>
<use href="#lf1" transform="translate(2102.5,561.3) rotate(142) scale(9.0,10.6)" fill="url(#lg4)"/>
<use href="#lf1" transform="translate(2112.0,548.1) rotate(322) scale(9.0,10.3)" fill="url(#lg1)"/>
<use href="#lf1" transform="translate(2096.0,554.0) rotate(339) scale(9.9,11.9)" fill="url(#lg3)"/>
<use href="#lf1" transform="translate(2084.1,565.2) rotate(273) scale(9.5,12.4)" fill="url(#lg4)"/>
<use href="#lf3" transform="translate(2109.2,546.3) rotate(326) scale(10.9,14.3)" fill="url(#lg3)"/>
<use href="#lf2" transform="translate(2126.5,593.4) rotate(134) scale(10.2,13.2)" fill="url(#lg3)"/>
<use href="#lf3" transform="translate(2137.5,580.3) rotate(97) scale(10.7,12.2)" fill="url(#lg2)"/>
<use href="#lf2" transform="translate(2107.8,594.8) rotate(310) scale(10.4,11.6)" fill="url(#lg3)"/>
<use href="#lf2" transform="translate(2120.2,588.9) rotate(330) scale(9.6,11.1)" fill="url(#lg3)"/>
<use href="#lf3" transform="translate(2133.0,575.7) rotate(347) scale(9.4,11.5)" fill="url(#lg3)"/>
<use href="#lf2" transform="translate(2108.6,599.5) rotate(289) scale(10.6,13.7)" fill="url(#lg2)"/>
<use href="#lf3" transform="translate(2112.9,603.0) rotate(187) scale(9.5,11.4)" fill="url(#lg1)"/>
<use href="#lf2" transform="translate(2138.6,584.6) rotate(103) scale(9.2,10.5)" fill="url(#lg1)"/>
<use href="#lf1" transform="translate(2124.6,590.7) rotate(312) scale(10.3,11.9)" fill="url(#lg2)"/>
<use href="#lf2" transform="translate(2149.5,624.1) rotate(131) scale(10.1,12.4)" fill="url(#lg4)"/>
<use href="#lf3" transform="translate(2145.6,617.1) rotate(347) scale(9.0,12.1)" fill="url(#lg2)"/>
<use href="#lf3" transform="translate(2160.4,614.1) rotate(120) scale(9.3,12.2)" fill="url(#lg4)"/>
<use href="#lf3" transform="translate(2161.1,616.6) rotate(119) scale(10.2,13.4)" fill="url(#lg3)"/>
<use href="#lf2" transform="translate(2134.1,628.5) rotate(292) scale(9.5,12.4)" fill="url(#lg4)"/>
<use href="#lf1" transform="translate(2135.8,632.2) rotate(279) scale(10.8,13.3)" fill="url(#lg1)"/>
<use href="#lf1" transform="translate(2148.7,622.6) rotate(168) scale(9.0,10.8)" fill="url(#lg3)"/>
<use href="#lf2" transform="translate(2157.3,610.2) rotate(370) scale(9.9,11.4)" fill="url(#lg1)"/>
<use href="#lf2" transform="translate(2139.0,636.1) rotate(166) scale(10.6,11.9)" fill="url(#lg2)"/>
<path d="M2233,640L2148,622" stroke="#efd33c" stroke-width="33"/>
<path d="M2234.6,632.3L2149.6,614.3" stroke="#cdbd2c" stroke-width="9.9"/>
<path d="M2231.8,645.8L2146.8,627.8" stroke="#fbe85a" stroke-width="6.6"/>
<use href="#lf3" transform="translate(2197.9,615.2) rotate(87) scale(9.1,10.5)" fill="url(#lg2)"/>
<use href="#lf2" transform="translate(2188.1,613.4) rotate(-42) scale(8.9,11.7)" fill="url(#lg4)"/>
<use href="#lf3" transform="translate(2188.5,632.0) rotate(92) scale(10.8,12.5)" fill="url(#lg2)"/>
<use href="#lf1" transform="translate(2192.3,649.2) rotate(105) scale(8.9,10.9)" fill="url(#lg4)"/>
<use href="#lf1" transform="translate(2187.6,630.7) rotate(-62) scale(8.9,10.3)" fill="url(#lg3)"/>
<use href="#lf2" transform="translate(2181.6,645.5) rotate(-120) scale(10.6,13.1)" fill="url(#lg1)"/>
<use href="#lf1" transform="translate(2192.1,614.7) rotate(-61) scale(10.5,12.2)" fill="url(#lg3)"/>
<use href="#lf1" transform="translate(2187.1,645.9) rotate(98) scale(8.9,10.7)" fill="url(#lg3)"/>
<use href="#lf1" transform="translate(2193.6,631.5) rotate(93) scale(11.1,13.9)" fill="url(#lg3)"/>
<use href="#lf3" transform="translate(2155.5,605.7) rotate(75) scale(10.7,13.4)" fill="url(#lg4)"/>
<use href="#lf3" transform="translate(2150.9,621.9) rotate(106) scale(9.9,12.6)" fill="url(#lg3)"/>
<use href="#lf3" transform="translate(2143.4,635.4) rotate(110) scale(10.1,13.3)" fill="url(#lg3)"/>
<use href="#lf3" transform="translate(2146.9,603.8) rotate(-74) scale(10.2,12.7)" fill="url(#lg3)"/>
<use href="#lf1" transform="translate(2142.9,619.5) rotate(-90) scale(10.8,13.4)" fill="url(#lg1)"/>
<use href="#lf1" transform="translate(2151.1,638.4) rotate(97) scale(10.0,11.6)" fill="url(#lg3)"/>
<use href="#lf1" transform="translate(2141.6,636.4) rotate(-79) scale(10.6,12.2)" fill="url(#lg2)"/>
<use href="#lf2" transform="translate(2148.9,623.7) rotate(108) scale(11.0,13.5)" fill="url(#lg4)"/>
<use href="#lf1" transform="translate(2153.1,607.0) rotate(61) scale(9.3,10.8)" fill="url(#lg2)"/>
<use href="#lf3" transform="translate(2226.9,655.4) rotate(49) scale(12.8,12.8)" fill="url(#lg2)"/>
<use href="#lf3" transform="translate(2227.1,640.9) rotate(231) scale(11.6,11.6)" fill="url(#lg1)"/>
<use href="#lf1" transform="translate(2232.1,657.9) rotate(26) scale(10.1,10.1)" fill="url(#lg4)"/>
<use href="#lf2" transform="translate(2236.7,629.3) rotate(159) scale(10.4,10.4)" fill="url(#lg1)"/>
<use href="#lf1" transform="translate(2244.8,629.2) rotate(64) scale(10.3,10.3)" fill="url(#lg1)"/>
<use href="#lf2" transform="translate(2232.9,617.7) rotate(62) scale(13.0,13.0)" fill="url(#lg4)"/>
<use href="#lf2" transform="translate(2241.3,619.8) rotate(76) scale(12.3,12.3)" fill="url(#lg3)"/>
<use href="#lf2" transform="translate(2235.7,640.6) rotate(258) scale(13.3,13.3)" fill="url(#lg2)"/>
<use href="#lf3" transform="translate(2231.0,661.4) rotate(52) scale(12.6,12.6)" fill="url(#lg3)"/>
<use href="#lf2" transform="translate(2235.1,613.3) rotate(132) scale(10.3,10.3)" fill="url(#lg4)"/>
<use href="#lf2" transform="translate(2223.6,668.4) rotate(281) scale(11.1,11.1)" fill="url(#lg3)"/>
<use href="#lf1" transform="translate(2234.0,655.2) rotate(70) scale(11.8,11.8)" fill="url(#lg1)"/>
<use href="#lf1" transform="translate(2238.0,646.1) rotate(283) scale(11.0,11.0)" fill="url(#lg3)"/>
<use href="#lf3" transform="translate(2241.2,647.5) rotate(95) scale(13.1,13.1)" fill="url(#lg1)"/>
<use href="#lf3" transform="translate(2231.0,623.3) rotate(196) scale(11.0,11.0)" fill="url(#lg1)"/>
<use href="#lf1" transform="translate(2226.5,663.1) rotate(102) scale(11.5,11.5)" fill="url(#lg3)"/>
<path d="M1870,482L1866,705" stroke="#efd33c" stroke-width="40"/>
<path d="M1860.4,481.8L1856.4,704.8" stroke="#cdbd2c" stroke-width="12.0"/>
<path d="M1877.2,482.1L1873.2,705.1" stroke="#fbe85a" stroke-width="8.0"/>
<use href="#lf1" transform="translate(1889.7,482.4) rotate(401) scale(11.1,13.5)" fill="url(#lg4)"/>
<use href="#lf2" transform="translate(1850.7,475.5) rotate(350) scale(10.5,12.0)" fill="url(#lg3)"/>
<use href="#lf2" transform="translate(1864.4,483.7) rotate(171) scale(10.6,11.7)" fill="url(#lg4)"/>
<use href="#lf2" transform="translate(1876.5,475.5) rotate(377) scale(11.1,14.6)" fill="url(#lg1)"/>
<use href="#lf1" transform="translate(1890.8,478.0) rotate(398) scale(10.2,13.0)" fill="url(#lg4)"/>
<use href="#lf2" transform="translate(1875.3,483.9) rotate(365) scale(11.1,13.9)" fill="url(#lg4)"/>
<use href="#lf2" transform="translate(1865.3,487.4) rotate(193) scale(10.8,13.8)" fill="url(#lg1)"/>
<use href="#lf3" transform="translate(1875.4,488.4) rotate(191) scale(10.1,11.8)" fill="url(#lg2)"/>
<use href="#lf2" transform="translate(1890.0,488.4) rotate(165) scale(11.4,13.4)" fill="url(#lg3)"/>
<use href="#lf1" transform="translate(1850.5,488.3) rotate(199) scale(10.7,13.4)" fill="url(#lg3)"/>
<use href="#lf2" transform="translate(1864.5,477.9) rotate(352) scale(12.1,15.5)" fill="url(#lg2)"/>
<use href="#lf2" transform="translate(1848.6,481.7) rotate(190) scale(10.2,11.2)" fill="url(#lg1)"/>
<use href="#lf1" transform="translate(1890.7,525.9) rotate(133) scale(11.5,14.1)" fill="url(#lg2)"/>
<use href="#lf2" transform="translate(1864.5,528.4) rotate(203) scale(11.1,12.5)" fill="url(#lg3)"/>
<use href="#lf1" transform="translate(1864.0,532.2) rotate(210) scale(9.9,12.5)" fill="url(#lg3)"/>
<use href="#lf1" transform="translate(1876.0,527.8) rotate(344) scale(10.3,13.5)" fill="url(#lg1)"/>
<use href="#lf3" transform="translate(1890.3,523.1) rotate(398) scale(11.7,15.5)" fill="url(#lg2)"/>
<use href="#lf1" transform="translate(1849.3,522.2) rotate(335) scale(10.8,12.7)" fill="url(#lg2)"/>
<use href="#lf3" transform="translate(1851.6,524.6) rotate(190) scale(10.9,12.8)" fill="url(#lg1)"/>
<use href="#lf3" transform="translate(1888.1,532.6) rotate(183) scale(10.0,11.8)" fill="url(#lg3)"/>
<use href="#lf1" transform="translate(1861.9,521.2) rotate(334) scale(11.7,14.4)" fill="url(#lg1)"/>
<use href="#lf1" transform="translate(1875.9,532.8) rotate(172) scale(10.5,13.4)" fill="url(#lg2)"/>
<use href="#lf1" transform="translate(1875.4,520.6) rotate(363) scale(10.3,11.3)" fill="url(#lg1)"/>
<use href="#lf3" transform="translate(1848.8,529.9) rotate(231) scale(9.8,12.7)" fill="url(#lg3)"/>
<use href="#lf3" transform="translate(1875.6,564.5) rotate(365) scale(11.8,15.8)" fill="url(#lg1)"/>
<use href="#lf2" transform="translate(1861.9,567.6) rotate(372) scale(11.8,14.1)" fill="url(#lg3)"/>
<use href="#lf1" transform="translate(1887.8,577.0) rotate(164) scale(10.5,14.2)" fill="url(#lg2)"/>
<use href="#lf1" transform="translate(1875.4,577.4) rotate(161) scale(10.2,12.4)" fill="url(#lg2)"/>
<use href="#lf1" transform="translate(1847.5,571.9) rotate(195) scale(10.4,12.4)" fill="url(#lg4)"/>
<use href="#lf2" transform="translate(1861.6,569.7) rotate(176) scale(11.0,12.6)" fill="url(#lg4)"/>
<use href="#lf2" transform="translate(1863.4,575.2) rotate(198) scale(10.9,14.5)" fill="url(#lg3)"/>
<use href="#lf1" transform="translate(1846.9,573.9) rotate(202) scale(10.7,11.8)" fill="url(#lg1)"/>
<use href="#lf2" transform="translate(1889.8,572.2) rotate(177) scale(10.4,13.0)" fill="url(#lg4)"/>
<use href="#lf3" transform="translate(1886.3,567.2) rotate(405) scale(12.1,14.7)" fill="url(#lg1)"/>
<use href="#lf1" transform="translate(1847.0,567.4) rotate(356) scale(11.7,15.5)" fill="url(#lg1)"/>
<use href="#lf2" transform="translate(1874.8,572.1) rotate(370) scale(11.1,12.3)" fill="url(#lg2)"/>
<use href="#lf1" transform="translate(1862.1,621.3) rotate(169) scale(12.0,15.2)" fill="url(#lg4)"/>
<use href="#lf2" transform="translate(1862.2,610.4) rotate(372) scale(10.5,11.9)" fill="url(#lg2)"/>
<use href="#lf2" transform="translate(1846.8,620.5) rotate(204) scale(10.2,12.5)" fill="url(#lg1)"/>
<use href="#lf3" transform="translate(1860.5,614.8) rotate(203) scale(11.8,14.6)" fill="url(#lg2)"/>
<use href="#lf1" transform="translate(1875.6,610.0) rotate(343) scale(10.1,11.2)" fill="url(#lg2)"/>
<use href="#lf2" transform="translate(1876.0,617.6) rotate(358) scale(10.5,11.7)" fill="url(#lg4)"/>
<use href="#lf3" transform="translate(1846.3,617.3) rotate(212) scale(10.4,13.6)" fill="url(#lg4)"/>
<use href="#lf1" transform="translate(1849.5,610.5) rotate(353) scale(11.6,14.2)" fill="url(#lg3)"/>
<use href="#lf2" transform="translate(1885.4,615.7) rotate(160) scale(11.1,14.3)" fill="url(#lg3)"/>
<use href="#lf2" transform="translate(1886.6,620.1) rotate(173) scale(11.9,15.4)" fill="url(#lg4)"/>
<use href="#lf3" transform="translate(1885.7,613.2) rotate(369) scale(11.5,13.9)" fill="url(#lg3)"/>
<use href="#lf2" transform="translate(1874.9,620.3) rotate(179) scale(10.7,13.0)" fill="url(#lg4)"/>
<use href="#lf2" transform="translate(1886.1,659.6) rotate(169) scale(10.6,13.3)" fill="url(#lg3)"/>
<use href="#lf3" transform="translate(1871.8,665.8) rotate(177) scale(10.7,13.3)" fill="url(#lg2)"/>
<use href="#lf2" transform="translate(1861.4,661.4) rotate(345) scale(9.9,13.1)" fill="url(#lg4)"/>
<use href="#lf3" transform="translate(1887.0,665.1) rotate(143) scale(11.1,14.6)" fill="url(#lg3)"/>
<use href="#lf1" transform="translate(1887.8,654.4) rotate(408) scale(11.6,14.7)" fill="url(#lg3)"/>
<use href="#lf2" transform="translate(1860.1,664.9) rotate(165) scale(10.7,12.6)" fill="url(#lg2)"/>
<use href="#lf3" transform="translate(1861.2,653.8) rotate(366) scale(11.8,15.4)" fill="url(#lg4)"/>
<use href="#lf3" transform="translate(1846.2,654.7) rotate(345) scale(10.9,14.0)" fill="url(#lg2)"/>
<use href="#lf1" transform="translate(1845.8,665.4) rotate(190) scale(10.6,13.2)" fill="url(#lg2)"/>
<use href="#lf2" transform="translate(1848.8,659.5) rotate(190) scale(11.9,13.1)" fill="url(#lg3)"/>
<use href="#lf2" transform="translate(1874.1,654.8) rotate(368) scale(10.6,12.2)" fill="url(#lg1)"/>
<use href="#lf1" transform="translate(1874.5,662.1) rotate(390) scale(9.7,12.9)" fill="url(#lg3)"/>
<use href="#lf2" transform="translate(1847.3,711.3) rotate(190) scale(11.5,13.0)" fill="url(#lg3)"/>
<use href="#lf3" transform="translate(1846.5,701.5) rotate(337) scale(9.9,10.9)" fill="url(#lg1)"/>
<use href="#lf1" transform="translate(1860.6,706.3) rotate(329) scale(10.1,12.3)" fill="url(#lg2)"/>
<use href="#lf2" transform="translate(1860.6,711.3) rotate(191) scale(9.9,13.1)" fill="url(#lg3)"/>
<use href="#lf2" transform="translate(1884.7,708.9) rotate(137) scale(9.7,11.9)" fill="url(#lg2)"/>
<use href="#lf1" transform="translate(1873.2,699.4) rotate(369) scale(10.1,12.0)" fill="url(#lg2)"/>
<use href="#lf3" transform="translate(1884.4,704.6) rotate(397) scale(10.1,11.9)" fill="url(#lg1)"/>
<use href="#lf3" transform="translate(1886.7,698.7) rotate(382) scale(10.6,13.5)" fill="url(#lg4)"/>
<use href="#lf1" transform="translate(1870.9,710.5) rotate(176) scale(10.9,12.8)" fill="url(#lg4)"/>
<use href="#lf2" transform="translate(1872.3,704.3) rotate(371) scale(10.2,13.1)" fill="url(#lg4)"/>
<use href="#lf2" transform="translate(1848.1,705.2) rotate(361) scale(10.0,12.5)" fill="url(#lg3)"/>
<use href="#lf3" transform="translate(1857.8,701.5) rotate(354) scale(10.6,13.9)" fill="url(#lg1)"/>
<path d="M1866,705L2033,785" stroke="#efd33c" stroke-width="34"/>
<path d="M1862.5,712.4L2029.5,792.4" stroke="#cdbd2c" stroke-width="10.2"/>
<path d="M1868.6,699.5L2035.6,779.5" stroke="#fbe85a" stroke-width="6.8"/>
<use href="#lf3" transform="translate(1864.6,721.1) rotate(155) scale(11.2,14.5)" fill="url(#lg2)"/>
<use href="#lf2" transform="translate(1877.2,690.4) rotate(82) scale(9.0,10.6)" fill="url(#lg2)"/>
<use href="#lf3" transform="translate(1852.7,718.2) rotate(272) scale(9.9,13.1)" fill="url(#lg2)"/>
<use href="#lf3" transform="translate(1862.6,704.9) rotate(314) scale(9.1,11.7)" fill="url(#lg3)"/>
<use href="#lf3" transform="translate(1868.7,686.4) rotate(328) scale(9.6,12.3)" fill="url(#lg2)"/>
<use href="#lf2" transform="translate(1867.0,707.2) rotate(267) scale(9.7,12.5)" fill="url(#lg2)"/>
<use href="#lf1" transform="translate(1875.2,690.4) rotate(97) scale(9.5,11.2)" fill="url(#lg1)"/>
<use href="#lf1" transform="translate(1859.4,718.3) rotate(156) scale(10.6,12.4)" fill="url(#lg4)"/>
<use href="#lf3" transform="translate(1871.6,708.4) rotate(92) scale(10.8,13.2)" fill="url(#lg3)"/>
<use href="#lf1" transform="translate(1908.9,707.0) rotate(293) scale(11.1,14.4)" fill="url(#lg1)"/>
<use href="#lf2" transform="translate(1902.5,721.7) rotate(289) scale(10.4,12.5)" fill="url(#lg2)"/>
<use href="#lf1" transform="translate(1895.7,739.1) rotate(297) scale(10.6,13.4)" fill="url(#lg3)"/>
<use href="#lf1" transform="translate(1914.2,710.8) rotate(84) scale(9.1,11.4)" fill="url(#lg2)"/>
<use href="#lf1" transform="translate(1918.0,712.6) rotate(86) scale(9.4,11.8)" fill="url(#lg1)"/>
<use href="#lf1" transform="translate(1910.5,727.6) rotate(113) scale(10.6,14.3)" fill="url(#lg2)"/>
<use href="#lf3" transform="translate(1906.4,742.0) rotate(131) scale(11.0,12.9)" fill="url(#lg3)"/>
<use href="#lf3" transform="translate(1900.1,739.8) rotate(260) scale(9.3,10.9)" fill="url(#lg2)"/>
<use href="#lf1" transform="translate(1908.0,724.5) rotate(276) scale(9.1,12.0)" fill="url(#lg3)"/>
<use href="#lf2" transform="translate(1946.5,742.9) rotate(291) scale(10.4,11.8)" fill="url(#lg2)"/>
<use href="#lf1" transform="translate(1963.2,731.7) rotate(102) scale(9.9,11.8)" fill="url(#lg1)"/>
<use href="#lf1" transform="translate(1950.8,745.3) rotate(115) scale(11.0,14.0)" fill="url(#lg3)"/>
<use href="#lf2" transform="translate(1945.8,763.5) rotate(150) scale(9.3,11.2)" fill="url(#lg3)"/>
<use href="#lf3" transform="translate(1937.6,756.4) rotate(282) scale(9.7,12.1)" fill="url(#lg2)"/>
<use href="#lf1" transform="translate(1951.5,725.8) rotate(309) scale(10.8,13.9)" fill="url(#lg3)"/>
<use href="#lf1" transform="translate(1952.2,747.7) rotate(115) scale(10.1,11.6)" fill="url(#lg4)"/>
<use href="#lf1" transform="translate(1956.3,731.3) rotate(318) scale(9.0,11.1)" fill="url(#lg3)"/>
<use href="#lf1" transform="translate(1943.1,762.3) rotate(157) scale(10.1,12.7)" fill="url(#lg3)"/>
<use href="#lf1" transform="translate(1997.7,747.6) rotate(90) scale(9.9,11.6)" fill="url(#lg3)"/>
<use href="#lf3" transform="translate(1992.7,749.0) rotate(303) scale(10.8,12.8)" fill="url(#lg3)"/>
<use href="#lf2" transform="translate(1993.6,767.3) rotate(96) scale(10.3,11.7)" fill="url(#lg4)"/>
<use href="#lf1" transform="translate(1980.9,777.7) rotate(297) scale(9.3,11.1)" fill="url(#lg4)"/>
<use href="#lf3" transform="translate(1984.5,778.8) rotate(143) scale(9.7,11.5)" fill="url(#lg4)"/>
<use href="#lf3" transform="translate(2002.8,753.8) rotate(121) scale(9.5,12.3)" fill="url(#lg4)"/>
<use href="#lf3" transform="translate(1991.5,765.5) rotate(284) scale(10.8,12.3)" fill="url(#lg1)"/>
<use href="#lf3" transform="translate(1985.8,760.6) rotate(296) scale(11.2,12.6)" fill="url(#lg4)"/>
<use href="#lf3" transform="translate(1987.3,781.1) rotate(121) scale(11.0,14.6)" fill="url(#lg4)"/>
<use href="#lf2" transform="translate(2045.7,773.9) rotate(103) scale(9.2,11.3)" fill="url(#lg1)"/>
<use href="#lf1" transform="translate(2019.9,798.4) rotate(285) scale(9.4,10.5)" fill="url(#lg2)"/>
<use href="#lf1" transform="translate(2038.8,769.6) rotate(306) scale(10.6,12.3)" fill="url(#lg2)"/>
<use href="#lf2" transform="translate(2024.9,798.8) rotate(130) scale(10.0,11.5)" fill="url(#lg4)"/>
<use href="#lf3" transform="translate(2029.7,801.9) rotate(136) scale(10.6,14.1)" fill="url(#lg1)"/>
<use href="#lf3" transform="translate(2034.0,787.5) rotate(312) scale(9.1,12.0)" fill="url(#lg4)"/>
<use href="#lf3" transform="translate(2026.9,782.4) rotate(268) scale(9.5,12.1)" fill="url(#lg4)"/>
<use href="#lf2" transform="translate(2037.3,768.3) rotate(307) scale(9.5,10.6)" fill="url(#lg2)"/>
<use href="#lf1" transform="translate(2037.0,788.3) rotate(137) scale(9.8,12.5)" fill="url(#lg3)"/>
<path d="M1866,705L1682,832" stroke="#efd33c" stroke-width="34"/>
<path d="M1861.4,698.3L1677.4,825.3" stroke="#cdbd2c" stroke-width="10.2"/>
<path d="M1869.5,710.0L1685.5,837.0" stroke="#fbe85a" stroke-width="6.8"/>
<use href="#lf3" transform="translate(1874.1,719.6) rotate(456) scale(10.2,12.0)" fill="url(#lg2)"/>
<use href="#lf2" transform="translate(1870.4,699.8) rotate(422) scale(11.2,15.0)" fill="url(#lg4)"/>
<use href="#lf3" transform="translate(1880.1,716.9) rotate(438) scale(10.6,12.7)" fill="url(#lg3)"/>
<use href="#lf1" transform="translate(1860.9,708.2) rotate(230) scale(10.6,14.1)" fill="url(#lg3)"/>
<use href="#lf1" transform="translate(1858.4,688.2) rotate(408) scale(9.7,11.7)" fill="url(#lg3)"/>
<use href="#lf3" transform="translate(1870.8,722.7) rotate(239) scale(9.4,11.0)" fill="url(#lg1)"/>
<use href="#lf3" transform="translate(1853.7,694.3) rotate(230) scale(9.5,11.1)" fill="url(#lg2)"/>
<use href="#lf1" transform="translate(1856.9,691.6) rotate(279) scale(9.7,12.7)" fill="url(#lg3)"/>
<use href="#lf3" transform="translate(1866.9,706.4) rotate(439) scale(9.2,12.3)" fill="url(#lg2)"/>
<use href="#lf1" transform="translate(1842.8,743.4) rotate(444) scale(11.0,13.2)" fill="url(#lg3)"/>
<use href="#lf1" transform="translate(1815.8,718.2) rotate(242) scale(9.5,10.5)" fill="url(#lg2)"/>
<use href="#lf2" transform="translate(1828.6,731.5) rotate(424) scale(10.6,13.2)" fill="url(#lg2)"/>
<use href="#lf1" transform="translate(1822.7,715.0) rotate(403) scale(9.1,10.8)" fill="url(#lg1)"/>
<use href="#lf3" transform="translate(1825.7,734.1) rotate(238) scale(10.6,12.1)" fill="url(#lg3)"/>
<use href="#lf2" transform="translate(1818.6,715.7) rotate(239) scale(11.2,13.3)" fill="url(#lg2)"/>
<use href="#lf2" transform="translate(1833.2,745.9) rotate(240) scale(10.5,12.2)" fill="url(#lg2)"/>
<use href="#lf3" transform="translate(1838.1,745.4) rotate(213) scale(9.7,11.8)" fill="url(#lg3)"/>
<use href="#lf1" transform="translate(1835.6,728.3) rotate(443) scale(9.9,12.8)" fill="url(#lg4)"/>
<use href="#lf1" transform="translate(1795.9,771.5) rotate(237) scale(9.4,12.0)" fill="url(#lg2)"/>
<use href="#lf1" transform="translate(1787.1,759.2) rotate(261) scale(10.7,13.0)" fill="url(#lg2)"/>
<use href="#lf3" transform="translate(1780.7,744.8) rotate(281) scale(9.7,12.1)" fill="url(#lg1)"/>
<use href="#lf1" transform="translate(1782.6,742.5) rotate(238) scale(9.1,10.5)" fill="url(#lg1)"/>
<use href="#lf1" transform="translate(1792.2,757.3) rotate(405) scale(9.1,10.9)" fill="url(#lg3)"/>
<use href="#lf3" transform="translate(1802.3,771.3) rotate(413) scale(9.3,11.6)" fill="url(#lg3)"/>
<use href="#lf2" transform="translate(1787.7,738.4) rotate(390) scale(9.2,11.0)" fill="url(#lg4)"/>
<use href="#lf2" transform="translate(1804.4,765.3) rotate(420) scale(9.3,12.0)" fill="url(#lg4)"/>
<use href="#lf1" transform="translate(1795.0,752.0) rotate(406) scale(10.5,13.6)" fill="url(#lg3)"/>
<use href="#lf1" transform="translate(1759.3,798.1) rotate(189) scale(9.2,12.1)" fill="url(#lg2)"/>
<use href="#lf1" transform="translate(1768.6,790.2) rotate(453) scale(9.1,12.0)" fill="url(#lg1)"/>
<use href="#lf2" transform="translate(1755.4,781.7) rotate(400) scale(9.5,12.0)" fill="url(#lg2)"/>
<use href="#lf2" transform="translate(1745.9,769.4) rotate(279) scale(9.2,12.0)" fill="url(#lg2)"/>
<use href="#lf3" transform="translate(1750.5,785.4) rotate(257) scale(9.9,11.8)" fill="url(#lg4)"/>
<use href="#lf3" transform="translate(1765.2,795.1) rotate(418) scale(9.8,11.2)" fill="url(#lg2)"/>
<use href="#lf1" transform="translate(1761.5,778.3) rotate(392) scale(10.9,13.8)" fill="url(#lg3)"/>
<use href="#lf3" transform="translate(1751.2,764.8) rotate(406) scale(10.1,11.9)" fill="url(#lg2)"/>
<use href="#lf1" transform="translate(1744.5,771.0) rotate(252) scale(11.1,12.6)" fill="url(#lg3)"/>
<use href="#lf3" transform="translate(1729.2,820.8) rotate(451) scale(10.2,13.7)" fill="url(#lg1)"/>
<use href="#lf1" transform="translate(1725.3,822.3) rotate(197) scale(11.0,12.2)" fill="url(#lg2)"/>
<use href="#lf1" transform="translate(1732.2,818.0) rotate(443) scale(9.7,11.2)" fill="url(#lg3)"/>
<use href="#lf2" transform="translate(1718.9,808.8) rotate(427) scale(9.8,12.3)" fill="url(#lg1)"/>
<use href="#lf2" transform="translate(1707.5,796.2) rotate(255) scale(10.5,13.9)" fill="url(#lg4)"/>
<use href="#lf1" transform="translate(1713.4,791.4) rotate(386) scale(9.7,10.7)" fill="url(#lg2)"/>
<use href="#lf1" transform="translate(1723.0,802.9) rotate(394) scale(10.9,13.8)" fill="url(#lg2)"/>
<use href="#lf2" transform="translate(1709.7,794.9) rotate(252) scale(10.4,14.0)" fill="url(#lg3)"/>
<use href="#lf3" transform="translate(1714.4,807.9) rotate(257) scale(9.8,10.9)" fill="url(#lg3)"/>
<use href="#lf2" transform="translate(1688.6,848.8) rotate(191) scale(10.2,12.9)" fill="url(#lg3)"/>
<use href="#lf2" transform="translate(1696.3,841.9) rotate(417) scale(11.2,13.3)" fill="url(#lg3)"/>
<use href="#lf2" transform="translate(1679.5,831.6) rotate(232) scale(10.4,13.2)" fill="url(#lg1)"/>
<use href="#lf2" transform="translate(1686.5,830.4) rotate(392) scale(9.2,10.8)" fill="url(#lg3)"/>
<use href="#lf2" transform="translate(1677.6,816.8) rotate(403) scale(10.2,13.0)" fill="url(#lg3)"/>
<use href="#lf1" transform="translate(1674.1,817.7) rotate(235) scale(9.3,11.2)" fill="url(#lg2)"/>
<use href="#lf3" transform="translate(1669.4,820.9) rotate(281) scale(9.3,12.0)" fill="url(#lg3)"/>
<use href="#lf2" transform="translate(1690.1,846.7) rotate(429) scale(10.0,11.3)" fill="url(#lg3)"/>
<use href="#lf2" transform="translate(1678.5,833.9) rotate(226) scale(9.0,10.5)" fill="url(#lg2)"/>
<path d="M1540,628L1682,832" stroke="#efd33c" stroke-width="34"/>
<path d="M1533.3,632.7L1675.3,836.7" stroke="#cdbd2c" stroke-width="10.2"/>
<path d="M1545.0,624.5L1687.0,828.5" stroke="#fbe85a" stroke-width="6.8"/>
<use href="#lf1" transform="translate(1535.5,624.8) rotate(346) scale(10.4,14.0)" fill="url(#lg2)"/>
<use href="#lf3" transform="translate(1528.5,638.0) rotate(176) scale(10.7,11.8)" fill="url(#lg3)"/>
<use href="#lf3" transform="translate(1529.2,640.9) rotate(144) scale(11.1,14.5)" fill="url(#lg1)"/>
<use href="#lf1" transform="translate(1550.2,615.9) rotate(362) scale(9.8,11.3)" fill="url(#lg3)"/>
<use href="#lf3" transform="translate(1526.0,634.4) rotate(278) scale(9.1,10.9)" fill="url(#lg2)"/>
<use href="#lf2" transform="translate(1557.3,621.6) rotate(103) scale(10.7,14.2)" fill="url(#lg1)"/>
<use href="#lf2" transform="translate(1544.2,631.9) rotate(126) scale(10.0,12.0)" fill="url(#lg1)"/>
<use href="#lf3" transform="translate(1552.5,619.2) rotate(123) scale(10.1,11.8)" fill="url(#lg4)"/>
<use href="#lf1" transform="translate(1538.7,628.8) rotate(174) scale(9.3,10.3)" fill="url(#lg2)"/>
<use href="#lf1" transform="translate(1563.3,661.5) rotate(315) scale(9.0,10.2)" fill="url(#lg3)"/>
<use href="#lf1" transform="translate(1561.4,656.9) rotate(308) scale(11.1,13.0)" fill="url(#lg2)"/>
<use href="#lf1" transform="translate(1580.0,657.1) rotate(129) scale(10.5,12.9)" fill="url(#lg2)"/>
<use href="#lf1" transform="translate(1547.2,669.1) rotate(308) scale(9.3,10.5)" fill="url(#lg3)"/>
<use href="#lf1" transform="translate(1567.8,664.7) rotate(152) scale(9.9,11.3)" fill="url(#lg3)"/>
<use href="#lf3" transform="translate(1576.6,654.0) rotate(124) scale(9.9,12.6)" fill="url(#lg3)"/>
<use href="#lf3" transform="translate(1574.7,648.4) rotate(338) scale(10.5,11.7)" fill="url(#lg1)"/>
<use href="#lf1" transform="translate(1551.2,672.3) rotate(321) scale(10.8,13.0)" fill="url(#lg2)"/>
<use href="#lf1" transform="translate(1553.1,674.7) rotate(186) scale(9.3,10.4)" fill="url(#lg3)"/>
<use href="#lf2" transform="translate(1589.8,699.4) rotate(149) scale(11.1,13.8)" fill="url(#lg4)"/>
<use href="#lf3" transform="translate(1604.6,691.7) rotate(128) scale(10.0,12.1)" fill="url(#lg1)"/>
<use href="#lf3" transform="translate(1575.4,704.6) rotate(150) scale(9.3,11.0)" fill="url(#lg2)"/>
<use href="#lf2" transform="translate(1571.5,701.1) rotate(282) scale(9.4,11.0)" fill="url(#lg2)"/>
<use href="#lf3" transform="translate(1587.6,693.8) rotate(309) scale(10.1,12.4)" fill="url(#lg3)"/>
<use href="#lf1" transform="translate(1575.4,710.8) rotate(155) scale(9.2,10.8)" fill="url(#lg2)"/>
<use href="#lf2" transform="translate(1601.6,687.7) rotate(119) scale(9.0,11.9)" fill="url(#lg2)"/>
<use href="#lf3" transform="translate(1596.7,683.5) rotate(329) scale(9.4,12.6)" fill="url(#lg4)"/>
<use href="#lf2" transform="translate(1586.3,692.9) rotate(351) scale(9.4,11.1)" fill="url(#lg3)"/>
<use href="#lf2" transform="translate(1599.5,742.8) rotate(194) scale(9.9,12.7)" fill="url(#lg3)"/>
<use href="#lf2" transform="translate(1625.4,725.2) rotate(111) scale(9.4,12.1)" fill="url(#lg2)"/>
<use href="#lf2" transform="translate(1609.6,728.6) rotate(149) scale(10.9,14.4)" fill="url(#lg4)"/>
<use href="#lf2" transform="translate(1624.8,719.3) rotate(125) scale(9.5,12.0)" fill="url(#lg3)"/>
<use href="#lf3" transform="translate(1596.7,740.7) rotate(163) scale(11.1,12.9)" fill="url(#lg2)"/>
<use href="#lf3" transform="translate(1606.8,725.7) rotate(338) scale(9.3,11.8)" fill="url(#lg1)"/>
<use href="#lf3" transform="translate(1614.2,733.3) rotate(124) scale(9.7,10.8)" fill="url(#lg1)"/>
<use href="#lf1" transform="translate(1622.2,715.4) rotate(358) scale(10.6,11.9)" fill="url(#lg2)"/>
<use href="#lf2" transform="translate(1594.2,734.5) rotate(276) scale(10.8,12.8)" fill="url(#lg3)"/>
<use href="#lf1" transform="translate(1638.8,767.0) rotate(160) scale(9.8,12.6)" fill="url(#lg2)"/>
<use href="#lf2" transform="translate(1624.2,775.4) rotate(173) scale(9.2,10.3)" fill="url(#lg3)"/>
<use href="#lf1" transform="translate(1630.7,761.5) rotate(305) scale(11.0,12.4)" fill="url(#lg3)"/>
<use href="#lf1" transform="translate(1635.4,764.2) rotate(316) scale(10.6,12.1)" fill="url(#lg2)"/>
<use href="#lf3" transform="translate(1650.4,757.1) rotate(135) scale(10.1,11.8)" fill="url(#lg3)"/>
<use href="#lf2" transform="translate(1648.7,756.6) rotate(144) scale(9.0,10.6)" fill="url(#lg1)"/>
<use href="#lf3" transform="translate(1620.3,771.8) rotate(187) scale(10.2,13.4)" fill="url(#lg2)"/>
<use href="#lf3" transform="translate(1645.9,749.4) rotate(372) scale(10.5,12.7)" fill="url(#lg2)"/>
<use href="#lf3" transform="translate(1619.1,768.2) rotate(332) scale(11.3,13.4)" fill="url(#lg3)"/>
<use href="#lf2" transform="translate(1642.8,804.6) rotate(330) scale(9.2,11.5)" fill="url(#lg2)"/>
<use href="#lf1" transform="translate(1655.4,795.1) rotate(296) scale(9.7,12.5)" fill="url(#lg2)"/>
<use href="#lf2" transform="translate(1646.8,811.3) rotate(144) scale(10.9,13.4)" fill="url(#lg3)"/>
<use href="#lf2" transform="translate(1675.7,793.6) rotate(106) scale(11.2,14.7)" fill="url(#lg4)"/>
<use href="#lf2" transform="translate(1656.6,797.9) rotate(120) scale(11.0,14.1)" fill="url(#lg1)"/>
<use href="#lf2" transform="translate(1672.6,788.0) rotate(127) scale(9.8,11.5)" fill="url(#lg3)"/>
<use href="#lf3" transform="translate(1671.3,785.9) rotate(356) scale(11.1,12.4)" fill="url(#lg3)"/>
<use href="#lf3" transform="translate(1644.7,805.1) rotate(179) scale(11.2,12.7)" fill="url(#lg2)"/>
<use href="#lf2" transform="translate(1661.8,799.8) rotate(166) scale(11.1,14.0)" fill="url(#lg2)"/>
<use href="#lf2" transform="translate(1680.9,830.8) rotate(144) scale(9.4,11.7)" fill="url(#lg4)"/>
<use href="#lf2" transform="translate(1670.1,846.4) rotate(141) scale(9.6,11.9)" fill="url(#lg2)"/>
<use href="#lf2" transform="translate(1677.0,827.5) rotate(341) scale(9.7,11.5)" fill="url(#lg4)"/>
<use href="#lf1" transform="translate(1693.7,819.8) rotate(366) scale(9.3,11.9)" fill="url(#lg3)"/>
<use href="#lf3" transform="translate(1669.7,842.8) rotate(310) scale(9.1,11.3)" fill="url(#lg4)"/>
<use href="#lf3" transform="translate(1685.9,837.0) rotate(149) scale(10.0,12.7)" fill="url(#lg2)"/>
<use href="#lf1" transform="translate(1694.6,821.2) rotate(136) scale(10.9,13.3)" fill="url(#lg4)"/>
<use href="#lf3" transform="translate(1664.5,837.3) rotate(295) scale(10.1,11.1)" fill="url(#lg3)"/>
<use href="#lf3" transform="translate(1698.4,827.9) rotate(115) scale(9.5,10.6)" fill="url(#lg2)"/>
<path d="M1632,489L1540,628" stroke="#efd33c" stroke-width="34"/>
<path d="M1625.2,484.5L1533.2,623.5" stroke="#cdbd2c" stroke-width="10.2"/>
<path d="M1637.1,492.4L1545.1,631.4" stroke="#fbe85a" stroke-width="6.8"/>
<use href="#lf3" transform="translate(1649.8,494.2) rotate(414) scale(10.0,12.0)" fill="url(#lg1)"/>
<use href="#lf3" transform="translate(1636.2,486.1) rotate(417) scale(10.5,12.1)" fill="url(#lg4)"/>
<use href="#lf3" transform="translate(1619.7,475.6) rotate(351) scale(10.2,12.4)" fill="url(#lg3)"/>
<use href="#lf2" transform="translate(1616.3,479.7) rotate(248) scale(10.5,12.0)" fill="url(#lg1)"/>
<use href="#lf2" transform="translate(1646.1,499.1) rotate(173) scale(9.4,11.7)" fill="url(#lg1)"/>
<use href="#lf1" transform="translate(1629.4,492.0) rotate(212) scale(10.5,12.8)" fill="url(#lg4)"/>
<use href="#lf2" transform="translate(1633.4,488.0) rotate(382) scale(9.4,12.1)" fill="url(#lg1)"/>
<use href="#lf2" transform="translate(1617.9,483.6) rotate(232) scale(9.5,11.6)" fill="url(#lg3)"/>
<use href="#lf3" transform="translate(1643.4,502.4) rotate(199) scale(9.3,11.5)" fill="url(#lg3)"/>
<use href="#lf1" transform="translate(1607.1,529.8) rotate(219) scale(9.0,10.4)" fill="url(#lg2)"/>
<use href="#lf2" transform="translate(1611.9,522.0) rotate(394) scale(9.9,12.1)" fill="url(#lg1)"/>
<use href="#lf1" transform="translate(1610.3,522.9) rotate(417) scale(10.8,12.7)" fill="url(#lg3)"/>
<use href="#lf1" transform="translate(1599.5,509.9) rotate(375) scale(10.7,13.1)" fill="url(#lg3)"/>
<use href="#lf1" transform="translate(1597.3,515.0) rotate(205) scale(10.8,13.6)" fill="url(#lg2)"/>
<use href="#lf3" transform="translate(1592.2,516.5) rotate(213) scale(10.3,13.1)" fill="url(#lg1)"/>
<use href="#lf1" transform="translate(1622.9,531.7) rotate(177) scale(11.2,12.8)" fill="url(#lg3)"/>
<use href="#lf1" transform="translate(1625.0,529.8) rotate(403) scale(9.9,12.8)" fill="url(#lg1)"/>
<use href="#lf2" transform="translate(1621.7,536.5) rotate(203) scale(10.5,13.4)" fill="url(#lg4)"/>
<use href="#lf1" transform="translate(1601.0,568.7) rotate(171) scale(10.3,12.1)" fill="url(#lg3)"/>
<use href="#lf1" transform="translate(1603.5,565.0) rotate(409) scale(9.4,11.9)" fill="url(#lg1)"/>
<use href="#lf1" transform="translate(1570.9,548.4) rotate(260) scale(10.8,13.8)" fill="url(#lg2)"/>
<use href="#lf2" transform="translate(1570.9,552.3) rotate(259) scale(9.7,13.1)" fill="url(#lg3)"/>
<use href="#lf1" transform="translate(1596.1,569.6) rotate(210) scale(9.2,10.3)" fill="url(#lg3)"/>
<use href="#lf2" transform="translate(1584.5,559.4) rotate(232) scale(9.5,11.0)" fill="url(#lg3)"/>
<use href="#lf2" transform="translate(1575.0,546.4) rotate(356) scale(9.5,12.3)" fill="url(#lg1)"/>
<use href="#lf2" transform="translate(1589.2,552.9) rotate(399) scale(9.9,12.6)" fill="url(#lg2)"/>
<use href="#lf2" transform="translate(1583.5,564.4) rotate(220) scale(10.9,13.0)" fill="url(#lg1)"/>
<use href="#lf2" transform="translate(1546.2,588.0) rotate(233) scale(9.7,11.2)" fill="url(#lg3)"/>
<use href="#lf2" transform="translate(1561.0,598.5) rotate(218) scale(9.2,10.4)" fill="url(#lg4)"/>
<use href="#lf3" transform="translate(1564.1,589.3) rotate(365) scale(11.2,14.3)" fill="url(#lg3)"/>
<use href="#lf3" transform="translate(1578.4,601.6) rotate(407) scale(9.1,10.0)" fill="url(#lg1)"/>
<use href="#lf3" transform="translate(1550.6,579.0) rotate(348) scale(10.2,11.4)" fill="url(#lg4)"/>
<use href="#lf3" transform="translate(1564.6,592.1) rotate(222) scale(9.7,11.9)" fill="url(#lg2)"/>
<use href="#lf1" transform="translate(1550.4,585.8) rotate(210) scale(9.3,10.4)" fill="url(#lg3)"/>
<use href="#lf1" transform="translate(1578.2,598.5) rotate(435) scale(9.4,11.5)" fill="url(#lg2)"/>
<use href="#lf1" transform="translate(1576.4,605.3) rotate(181) scale(10.4,12.5)" fill="url(#lg1)"/>
<use href="#lf3" transform="translate(1544.4,624.2) rotate(416) scale(9.8,11.5)" fill="url(#lg3)"/>
<use href="#lf3" transform="translate(1551.7,642.7) rotate(205) scale(9.2,11.3)" fill="url(#lg4)"/>
<use href="#lf3" transform="translate(1538.8,630.8) rotate(236) scale(9.2,11.2)" fill="url(#lg2)"/>
<use href="#lf3" transform="translate(1554.4,633.1) rotate(438) scale(9.2,12.0)" fill="url(#lg2)"/>
<use href="#lf1" transform="translate(1524.5,624.3) rotate(208) scale(10.7,13.4)" fill="url(#lg3)"/>
<use href="#lf2" transform="translate(1526.8,617.5) rotate(357) scale(10.3,13.8)" fill="url(#lg4)"/>
<use href="#lf1" transform="translate(1529.3,616.9) rotate(347) scale(11.0,12.6)" fill="url(#lg3)"/>
<use href="#lf1" transform="translate(1555.1,635.6) rotate(208) scale(9.9,13.2)" fill="url(#lg4)"/>
<use href="#lf1" transform="translate(1541.4,626.8) rotate(387) scale(11.0,13.9)" fill="url(#lg3)"/>
<path d="M1669,438L1632,489" stroke="#efd33c" stroke-width="34"/>
<path d="M1662.4,433.2L1625.4,484.2" stroke="#cdbd2c" stroke-width="10.2"/>
<path d="M1674.0,441.6L1637.0,492.6" stroke="#fbe85a" stroke-width="6.8"/>
<use href="#lf3" transform="translate(1671.8,432.9) rotate(395) scale(9.9,13.0)" fill="url(#lg1)"/>
<use href="#lf1" transform="translate(1666.5,438.0) rotate(223) scale(10.7,13.8)" fill="url(#lg3)"/>
<use href="#lf2" transform="translate(1660.4,424.7) rotate(364) scale(11.2,14.5)" fill="url(#lg2)"/>
<use href="#lf2" transform="translate(1685.7,440.3) rotate(406) scale(9.0,10.8)" fill="url(#lg4)"/>
<use href="#lf3" transform="translate(1651.5,435.1) rotate(223) scale(9.1,12.2)" fill="url(#lg3)"/>
<use href="#lf2" transform="translate(1663.7,442.5) rotate(219) scale(10.9,14.6)" fill="url(#lg3)"/>
<use href="#lf2" transform="translate(1655.0,428.1) rotate(227) scale(10.4,12.8)" fill="url(#lg2)"/>
<use href="#lf2" transform="translate(1678.4,455.0) rotate(172) scale(9.8,11.2)" fill="url(#lg3)"/>
<use href="#lf2" transform="translate(1682.0,446.3) rotate(430) scale(10.0,11.2)" fill="url(#lg4)"/>
<use href="#lf1" transform="translate(1614.8,484.7) rotate(214) scale(10.8,12.8)" fill="url(#lg2)"/>
<use href="#lf3" transform="translate(1628.8,495.1) rotate(204) scale(10.3,11.8)" fill="url(#lg3)"/>
<use href="#lf1" transform="translate(1617.1,479.4) rotate(249) scale(9.0,10.1)" fill="url(#lg1)"/>
<use href="#lf2" transform="translate(1647.3,499.0) rotate(181) scale(9.9,10.9)" fill="url(#lg2)"/>
<use href="#lf3" transform="translate(1636.5,483.9) rotate(418) scale(10.2,12.2)" fill="url(#lg1)"/>
<use href="#lf2" transform="translate(1624.3,473.5) rotate(382) scale(9.9,11.4)" fill="url(#lg2)"/>
<use href="#lf2" transform="translate(1641.8,503.9) rotate(219) scale(10.9,13.8)" fill="url(#lg3)"/>
<use href="#lf2" transform="translate(1649.5,491.0) rotate(392) scale(9.9,11.7)" fill="url(#lg2)"/>
<use href="#lf1" transform="translate(1631.6,486.6) rotate(226) scale(9.2,11.7)" fill="url(#lg4)"/>
<path d="M1567,455L1632,489" stroke="#efd33c" stroke-width="35"/>
<path d="M1563.1,462.4L1628.1,496.4" stroke="#cdbd2c" stroke-width="10.5"/>
<path d="M1569.9,449.4L1634.9,483.4" stroke="#fbe85a" stroke-width="7.0"/>
<use href="#lf3" transform="translate(1604.3,454.1) rotate(323) scale(10.2,12.2)" fill="url(#lg4)"/>
<use href="#lf1" transform="translate(1595.2,470.8) rotate(307) scale(9.5,10.6)" fill="url(#lg2)"/>
<use href="#lf3" transform="translate(1603.3,473.9) rotate(131) scale(9.5,10.7)" fill="url(#lg3)"/>
<use href="#lf2" transform="translate(1598.8,472.0) rotate(274) scale(9.4,11.5)" fill="url(#lg2)"/>
<use href="#lf1" transform="translate(1586.5,486.5) rotate(277) scale(11.0,14.3)" fill="url(#lg1)"/>
<use href="#lf3" transform="translate(1611.9,460.6) rotate(117) scale(10.2,12.2)" fill="url(#lg2)"/>
<use href="#lf2" transform="translate(1606.1,455.7) rotate(120) scale(11.0,13.1)" fill="url(#lg2)"/>
<use href="#lf2" transform="translate(1591.5,486.3) rotate(134) scale(10.8,14.1)" fill="url(#lg3)"/>
<use href="#lf3" transform="translate(1596.1,489.5) rotate(160) scale(11.4,12.5)" fill="url(#lg3)"/>
<use href="#lf3" transform="translate(1645.0,475.7) rotate(102) scale(10.4,12.7)" fill="url(#lg4)"/>
<use href="#lf2" transform="translate(1631.3,487.6) rotate(107) scale(10.3,13.2)" fill="url(#lg1)"/>
<use href="#lf2" transform="translate(1638.0,475.0) rotate(332) scale(10.8,13.3)" fill="url(#lg4)"/>
<use href="#lf3" transform="translate(1626.8,486.6) rotate(318) scale(11.2,12.9)" fill="url(#lg1)"/>
<use href="#lf3" transform="translate(1634.8,489.6) rotate(142) scale(9.9,12.8)" fill="url(#lg3)"/>
<use href="#lf2" transform="translate(1621.5,504.5) rotate(300) scale(9.4,11.9)" fill="url(#lg4)"/>
<use href="#lf1" transform="translate(1636.6,470.9) rotate(345) scale(11.2,13.6)" fill="url(#lg4)"/>
<use href="#lf2" transform="translate(1626.7,504.2) rotate(140) scale(9.7,13.0)" fill="url(#lg3)"/>
<use href="#lf2" transform="translate(1622.5,505.0) rotate(282) scale(11.1,13.5)" fill="url(#lg2)"/>
<use href="#lf3" transform="translate(1570.8,430.5) rotate(94) scale(12.7,12.7)" fill="url(#lg2)"/>
<use href="#lf1" transform="translate(1566.5,468.4) rotate(12) scale(11.8,11.8)" fill="url(#lg2)"/>
<use href="#lf1" transform="translate(1561.7,473.1) rotate(83) scale(12.2,12.2)" fill="url(#lg4)"/>
<use href="#lf1" transform="translate(1571.0,448.6) rotate(72) scale(10.6,10.6)" fill="url(#lg2)"/>
<use href="#lf3" transform="translate(1573.9,444.7) rotate(139) scale(13.5,13.5)" fill="url(#lg2)"/>
<use href="#lf3" transform="translate(1566.2,458.7) rotate(218) scale(11.7,11.7)" fill="url(#lg4)"/>
<use href="#lf2" transform="translate(1554.6,475.7) rotate(151) scale(11.0,11.0)" fill="url(#lg1)"/>
<use href="#lf2" transform="translate(1554.6,484.7) rotate(101) scale(12.0,12.0)" fill="url(#lg3)"/>
<use href="#lf3" transform="translate(1573.7,447.2) rotate(180) scale(12.5,12.5)" fill="url(#lg4)"/>
<use href="#lf3" transform="translate(1562.7,446.9) rotate(248) scale(11.5,11.5)" fill="url(#lg1)"/>
<use href="#lf2" transform="translate(1545.0,476.1) rotate(106) scale(11.8,11.8)" fill="url(#lg2)"/>
<use href="#lf3" transform="translate(1574.4,441.4) rotate(323) scale(10.2,10.2)" fill="url(#lg4)"/>
<use href="#lf2" transform="translate(1544.8,476.6) rotate(108) scale(12.4,12.4)" fill="url(#lg2)"/>
<use href="#lf1" transform="translate(1564.8,466.6) rotate(197) scale(11.9,11.9)" fill="url(#lg3)"/>
<use href="#lf1" transform="translate(1571.6,430.7) rotate(291) scale(13.8,13.8)" fill="url(#lg4)"/>
<use href="#lf3" transform="translate(1583.7,430.9) rotate(270) scale(10.0,10.0)" fill="url(#lg4)"/>
<path d="M1632,489L1785,570" stroke="#efd33c" stroke-width="37"/>
<path d="M1627.8,496.8L1780.8,577.8" stroke="#cdbd2c" stroke-width="11.1"/>
<path d="M1635.1,483.1L1788.1,564.1" stroke="#fbe85a" stroke-width="7.4"/>
<use href="#lf1" transform="translate(1630.6,480.0) rotate(289) scale(10.4,12.7)" fill="url(#lg3)"/>
<use href="#lf1" transform="translate(1618.3,500.4) rotate(272) scale(9.4,12.2)" fill="url(#lg1)"/>
<use href="#lf2" transform="translate(1639.3,484.9) rotate(123) scale(11.7,15.4)" fill="url(#lg3)"/>
<use href="#lf2" transform="translate(1640.4,473.6) rotate(310) scale(11.2,13.1)" fill="url(#lg2)"/>
<use href="#lf1" transform="translate(1646.0,476.2) rotate(118) scale(10.0,13.3)" fill="url(#lg3)"/>
<use href="#lf2" transform="translate(1625.4,490.4) rotate(314) scale(11.5,13.6)" fill="url(#lg2)"/>
<use href="#lf1" transform="translate(1628.4,509.6) rotate(148) scale(10.0,12.7)" fill="url(#lg4)"/>
<use href="#lf1" transform="translate(1623.1,504.2) rotate(280) scale(11.2,14.2)" fill="url(#lg2)"/>
<use href="#lf3" transform="translate(1631.7,496.0) rotate(150) scale(11.1,14.1)" fill="url(#lg3)"/>
<use href="#lf2" transform="translate(1635.0,483.4) rotate(83) scale(11.7,15.6)" fill="url(#lg3)"/>
<use href="#lf3" transform="translate(1634.8,469.5) rotate(341) scale(10.9,12.2)" fill="url(#lg4)"/>
<use href="#lf3" transform="translate(1629.4,492.8) rotate(269) scale(11.3,13.2)" fill="url(#lg2)"/>
<use href="#lf1" transform="translate(1668.0,515.3) rotate(98) scale(11.2,13.6)" fill="url(#lg1)"/>
<use href="#lf3" transform="translate(1673.1,504.4) rotate(320) scale(11.1,14.6)" fill="url(#lg4)"/>
<use href="#lf3" transform="translate(1677.3,504.3) rotate(124) scale(11.6,14.6)" fill="url(#lg2)"/>
<use href="#lf1" transform="translate(1668.5,501.2) rotate(333) scale(10.1,11.8)" fill="url(#lg2)"/>
<use href="#lf1" transform="translate(1662.2,513.2) rotate(293) scale(9.5,10.4)" fill="url(#lg3)"/>
<use href="#lf1" transform="translate(1672.6,516.0) rotate(129) scale(11.0,13.4)" fill="url(#lg4)"/>
<use href="#lf2" transform="translate(1684.9,495.8) rotate(69) scale(10.5,12.6)" fill="url(#lg2)"/>
<use href="#lf2" transform="translate(1677.3,493.8) rotate(74) scale(11.6,15.3)" fill="url(#lg3)"/>
<use href="#lf1" transform="translate(1667.9,527.6) rotate(144) scale(11.1,12.3)" fill="url(#lg2)"/>
<use href="#lf3" transform="translate(1657.3,522.0) rotate(284) scale(10.6,11.9)" fill="url(#lg2)"/>
<use href="#lf2" transform="translate(1663.3,525.4) rotate(305) scale(10.8,13.6)" fill="url(#lg2)"/>
<use href="#lf3" transform="translate(1674.1,490.8) rotate(296) scale(10.1,11.4)" fill="url(#lg3)"/>
<use href="#lf1" transform="translate(1703.3,531.9) rotate(277) scale(11.2,13.4)" fill="url(#lg2)"/>
<use href="#lf1" transform="translate(1722.7,515.0) rotate(92) scale(9.8,10.8)" fill="url(#lg2)"/>
<use href="#lf1" transform="translate(1709.6,538.8) rotate(114) scale(9.4,10.4)" fill="url(#lg2)"/>
<use href="#lf3" transform="translate(1705.6,520.8) rotate(330) scale(11.6,15.5)" fill="url(#lg3)"/>
<use href="#lf3" transform="translate(1717.1,527.6) rotate(117) scale(10.1,11.3)" fill="url(#lg2)"/>
<use href="#lf2" transform="translate(1711.3,512.2) rotate(302) scale(9.4,11.6)" fill="url(#lg3)"/>
<use href="#lf1" transform="translate(1717.3,515.8) rotate(80) scale(10.6,14.0)" fill="url(#lg4)"/>
<use href="#lf1" transform="translate(1694.6,542.8) rotate(297) scale(10.5,12.6)" fill="url(#lg4)"/>
<use href="#lf1" transform="translate(1711.1,525.8) rotate(294) scale(9.4,12.0)" fill="url(#lg4)"/>
<use href="#lf2" transform="translate(1705.7,535.2) rotate(152) scale(10.1,13.5)" fill="url(#lg2)"/>
<use href="#lf3" transform="translate(1703.1,549.0) rotate(127) scale(10.5,12.7)" fill="url(#lg3)"/>
<use href="#lf3" transform="translate(1699.3,546.9) rotate(139) scale(9.9,13.0)" fill="url(#lg1)"/>
<use href="#lf3" transform="translate(1756.2,546.1) rotate(96) scale(9.6,11.1)" fill="url(#lg4)"/>
<use href="#lf3" transform="translate(1755.5,532.3) rotate(87) scale(10.3,13.3)" fill="url(#lg4)"/>
<use href="#lf3" transform="translate(1739.9,551.6) rotate(280) scale(10.1,12.4)" fill="url(#lg2)"/>
<use href="#lf3" transform="translate(1732.2,562.8) rotate(269) scale(9.4,11.0)" fill="url(#lg4)"/>
<use href="#lf3" transform="translate(1759.0,536.6) rotate(86) scale(10.7,13.4)" fill="url(#lg2)"/>
<use href="#lf2" transform="translate(1750.5,543.6) rotate(315) scale(10.7,13.7)" fill="url(#lg2)"/>
<use href="#lf3" transform="translate(1744.2,542.1) rotate(282) scale(10.3,13.7)" fill="url(#lg3)"/>
<use href="#lf3" transform="translate(1736.6,566.5) rotate(160) scale(9.4,11.9)" fill="url(#lg3)"/>
<use href="#lf3" transform="translate(1744.2,554.9) rotate(117) scale(9.5,12.3)" fill="url(#lg4)"/>
<use href="#lf2" transform="translate(1751.8,530.4) rotate(296) scale(11.2,13.9)" fill="url(#lg3)"/>
<use href="#lf2" transform="translate(1742.3,566.9) rotate(141) scale(9.6,12.3)" fill="url(#lg4)"/>
<use href="#lf2" transform="translate(1747.5,558.8) rotate(143) scale(11.7,15.6)" fill="url(#lg3)"/>
<use href="#lf2" transform="translate(1794.3,553.0) rotate(110) scale(11.5,15.0)" fill="url(#lg2)"/>
<use href="#lf3" transform="translate(1784.2,578.1) rotate(154) scale(10.0,12.5)" fill="url(#lg2)"/>
<use href="#lf2" transform="translate(1778.2,573.5) rotate(271) scale(11.4,13.4)" fill="url(#lg2)"/>
<use href="#lf2" transform="translate(1785.1,562.2) rotate(290) scale(11.1,13.6)" fill="url(#lg3)"/>
<use href="#lf2" transform="translate(1773.0,581.8) rotate(257) scale(9.8,12.6)" fill="url(#lg4)"/>
<use href="#lf1" transform="translate(1787.9,563.1) rotate(323) scale(9.9,12.2)" fill="url(#lg2)"/>
<use href="#lf2" transform="translate(1789.3,550.1) rotate(321) scale(10.4,13.9)" fill="url(#lg4)"/>
<use href="#lf1" transform="translate(1781.3,586.5) rotate(112) scale(11.4,13.2)" fill="url(#lg3)"/>
<use href="#lf1" transform="translate(1795.8,555.8) rotate(85) scale(11.6,14.4)" fill="url(#lg3)"/>
<use href="#lf1" transform="translate(1775.1,587.4) rotate(282) scale(10.7,12.2)" fill="url(#lg2)"/>
<use href="#lf2" transform="translate(1781.0,576.6) rotate(277) scale(11.1,14.4)" fill="url(#lg2)"/>
<use href="#lf1" transform="translate(1791.6,566.1) rotate(104) scale(10.8,11.9)" fill="url(#lg4)"/>
<path d="M2001,489L2024,462" stroke="#efd33c" stroke-width="34"/>
<path d="M2007.2,494.3L2030.2,467.3" stroke="#cdbd2c" stroke-width="10.2"/>
<path d="M1996.3,485.0L2019.3,458.0" stroke="#fbe85a" stroke-width="6.8"/>
<use href="#lf1" transform="translate(2002.1,489.0) rotate(20) scale(11.0,14.8)" fill="url(#lg4)"/>
<use href="#lf3" transform="translate(2014.9,500.4) rotate(45) scale(9.5,11.4)" fill="url(#lg2)"/>
<use href="#lf3" transform="translate(1998.2,492.2) rotate(219) scale(11.2,13.6)" fill="url(#lg2)"/>
<use href="#lf3" transform="translate(1989.1,476.6) rotate(38) scale(10.5,13.7)" fill="url(#lg2)"/>
<use href="#lf3" transform="translate(2016.4,494.9) rotate(84) scale(9.9,12.3)" fill="url(#lg1)"/>
<use href="#lf2" transform="translate(2004.0,487.9) rotate(61) scale(10.6,14.2)" fill="url(#lg2)"/>
<use href="#lf1" transform="translate(2010.9,502.0) rotate(195) scale(9.8,12.7)" fill="url(#lg2)"/>
<use href="#lf3" transform="translate(1991.0,474.7) rotate(28) scale(9.4,10.7)" fill="url(#lg3)"/>
<use href="#lf2" transform="translate(1984.4,482.4) rotate(249) scale(10.3,12.1)" fill="url(#lg3)"/>
<use href="#lf2" transform="translate(2011.4,449.4) rotate(241) scale(11.1,12.2)" fill="url(#lg2)"/>
<use href="#lf1" transform="translate(2014.0,446.1) rotate(43) scale(9.0,10.1)" fill="url(#lg2)"/>
<use href="#lf3" transform="translate(2034.4,474.5) rotate(189) scale(10.0,13.4)" fill="url(#lg3)"/>
<use href="#lf2" transform="translate(2035.0,471.8) rotate(190) scale(10.9,12.5)" fill="url(#lg3)"/>
<use href="#lf2" transform="translate(2025.6,459.6) rotate(18) scale(11.2,14.0)" fill="url(#lg4)"/>
<use href="#lf3" transform="translate(2040.0,471.3) rotate(42) scale(10.5,13.2)" fill="url(#lg2)"/>
<use href="#lf1" transform="translate(2022.9,461.0) rotate(208) scale(10.0,12.2)" fill="url(#lg3)"/>
<use href="#lf1" transform="translate(2022.7,465.2) rotate(207) scale(11.2,12.6)" fill="url(#lg2)"/>
<use href="#lf1" transform="translate(2008.6,451.6) rotate(266) scale(10.0,11.1)" fill="url(#lg1)"/>
<path d="M1790,574L2001,489" stroke="#efd33c" stroke-width="38"/>
<path d="M1793.4,582.5L2004.4,497.5" stroke="#cdbd2c" stroke-width="11.4"/>
<path d="M1787.4,567.7L1998.4,482.7" stroke="#fbe85a" stroke-width="7.6"/>
<use href="#lf3" transform="translate(1801.5,589.8) rotate(78) scale(11.6,13.0)" fill="url(#lg1)"/>
<use href="#lf2" transform="translate(1776.8,559.0) rotate(262) scale(9.6,11.9)" fill="url(#lg2)"/>
<use href="#lf3" transform="translate(1791.9,565.8) rotate(39) scale(9.9,12.6)" fill="url(#lg2)"/>
<use href="#lf1" transform="translate(1782.9,569.4) rotate(235) scale(9.7,12.2)" fill="url(#lg2)"/>
<use href="#lf2" transform="translate(1798.5,589.9) rotate(114) scale(11.6,15.0)" fill="url(#lg4)"/>
<use href="#lf2" transform="translate(1784.1,554.6) rotate(36) scale(9.9,12.0)" fill="url(#lg4)"/>
<use href="#lf2" transform="translate(1788.8,583.2) rotate(248) scale(11.6,13.4)" fill="url(#lg3)"/>
<use href="#lf3" transform="translate(1792.3,592.4) rotate(215) scale(9.7,10.9)" fill="url(#lg2)"/>
<use href="#lf2" transform="translate(1790.0,569.4) rotate(277) scale(10.0,12.9)" fill="url(#lg2)"/>
<use href="#lf2" transform="translate(1795.2,577.0) rotate(91) scale(9.9,13.2)" fill="url(#lg1)"/>
<use href="#lf1" transform="translate(1788.6,554.5) rotate(25) scale(11.5,14.1)" fill="url(#lg4)"/>
<use href="#lf2" transform="translate(1792.7,579.3) rotate(57) scale(10.9,14.0)" fill="url(#lg4)"/>
<use href="#lf3" transform="translate(1823.7,539.9) rotate(73) scale(10.1,12.3)" fill="url(#lg4)"/>
<use href="#lf1" transform="translate(1840.7,573.8) rotate(97) scale(10.9,14.0)" fill="url(#lg1)"/>
<use href="#lf1" transform="translate(1836.9,560.5) rotate(78) scale(9.6,12.1)" fill="url(#lg3)"/>
<use href="#lf3" transform="translate(1829.9,564.1) rotate(231) scale(11.8,14.3)" fill="url(#lg1)"/>
<use href="#lf3" transform="translate(1824.5,553.9) rotate(264) scale(10.9,13.5)" fill="url(#lg2)"/>
<use href="#lf2" transform="translate(1830.7,535.6) rotate(49) scale(10.8,13.3)" fill="url(#lg3)"/>
<use href="#lf1" transform="translate(1832.3,575.2) rotate(236) scale(11.7,14.2)" fill="url(#lg2)"/>
<use href="#lf2" transform="translate(1841.9,572.2) rotate(64) scale(11.4,14.4)" fill="url(#lg3)"/>
<use href="#lf1" transform="translate(1833.5,549.0) rotate(87) scale(9.9,11.8)" fill="url(#lg3)"/>
<use href="#lf1" transform="translate(1834.0,561.4) rotate(269) scale(9.9,11.7)" fill="url(#lg2)"/>
<use href="#lf2" transform="translate(1828.1,551.8) rotate(246) scale(10.7,12.4)" fill="url(#lg1)"/>
<use href="#lf2" transform="translate(1821.8,539.6) rotate(266) scale(9.8,11.1)" fill="url(#lg2)"/>
<use href="#lf1" transform="translate(1866.7,522.9) rotate(52) scale(10.3,12.2)" fill="url(#lg3)"/>
<use href="#lf1" transform="translate(1872.9,547.9) rotate(238) scale(10.0,13.0)" fill="url(#lg2)"/>
<use href="#lf1" transform="translate(1873.8,522.3) rotate(39) scale(11.4,13.7)" fill="url(#lg3)"/>
<use href="#lf2" transform="translate(1887.5,554.4) rotate(74) scale(9.8,12.9)" fill="url(#lg2)"/>
<use href="#lf2" transform="translate(1882.0,555.6) rotate(215) scale(10.4,12.5)" fill="url(#lg2)"/>
<use href="#lf3" transform="translate(1875.7,548.0) rotate(95) scale(11.2,14.4)" fill="url(#lg4)"/>
<use href="#lf2" transform="translate(1871.2,534.0) rotate(281) scale(9.6,11.4)" fill="url(#lg2)"/>
<use href="#lf1" transform="translate(1882.8,542.9) rotate(93) scale(10.2,12.7)" fill="url(#lg3)"/>
<use href="#lf2" transform="translate(1861.5,526.2) rotate(291) scale(10.8,13.8)" fill="url(#lg2)"/>
<use href="#lf3" transform="translate(1877.9,559.4) rotate(222) scale(11.9,15.9)" fill="url(#lg3)"/>
<use href="#lf3" transform="translate(1876.6,532.0) rotate(66) scale(10.7,14.2)" fill="url(#lg2)"/>
<use href="#lf3" transform="translate(1866.4,537.0) rotate(240) scale(11.1,12.8)" fill="url(#lg3)"/>
<use href="#lf3" transform="translate(1918.9,530.5) rotate(99) scale(10.9,14.2)" fill="url(#lg3)"/>
<use href="#lf3" transform="translate(1913.6,517.8) rotate(85) scale(11.8,13.6)" fill="url(#lg2)"/>
<use href="#lf3" transform="translate(1914.2,531.0) rotate(231) scale(10.7,12.3)" fill="url(#lg1)"/>
<use href="#lf1" transform="translate(1905.1,508.0) rotate(266) scale(10.1,13.6)" fill="url(#lg3)"/>
<use href="#lf3" transform="translate(1918.0,513.7) rotate(53) scale(10.2,11.4)" fill="url(#lg1)"/>
<use href="#lf2" transform="translate(1930.4,538.7) rotate(88) scale(10.8,12.3)" fill="url(#lg2)"/>
<use href="#lf1" transform="translate(1922.2,528.4) rotate(64) scale(9.9,11.8)" fill="url(#lg2)"/>
<use href="#lf1" transform="translate(1922.7,541.2) rotate(204) scale(10.9,12.6)" fill="url(#lg2)"/>
<use href="#lf1" transform="translate(1919.8,542.8) rotate(233) scale(11.2,14.7)" fill="url(#lg1)"/>
<use href="#lf1" transform="translate(1909.2,506.1) rotate(59) scale(11.3,14.4)" fill="url(#lg2)"/>
<use href="#lf2" transform="translate(1909.5,517.2) rotate(283) scale(10.1,11.3)" fill="url(#lg4)"/>
<use href="#lf3" transform="translate(1915.3,505.2) rotate(33) scale(10.6,12.2)" fill="url(#lg2)"/>
<use href="#lf1" transform="translate(1962.6,499.4) rotate(59) scale(11.5,14.0)" fill="url(#lg3)"/>
<use href="#lf3" transform="translate(1965.4,508.0) rotate(51) scale(11.2,14.9)" fill="url(#lg2)"/>
<use href="#lf2" transform="translate(1955.3,499.4) rotate(250) scale(10.7,13.5)" fill="url(#lg2)"/>
<use href="#lf2" transform="translate(1961.2,522.9) rotate(231) scale(9.8,11.9)" fill="url(#lg3)"/>
<use href="#lf3" transform="translate(1956.2,512.6) rotate(231) scale(10.8,13.5)" fill="url(#lg4)"/>
<use href="#lf3" transform="translate(1951.0,503.1) rotate(264) scale(11.6,14.1)" fill="url(#lg3)"/>
<use href="#lf1" transform="translate(1950.6,490.7) rotate(280) scale(10.0,11.1)" fill="url(#lg2)"/>
<use href="#lf1" transform="translate(1969.6,519.9) rotate(69) scale(11.2,12.5)" fill="url(#lg1)"/>
<use href="#lf2" transform="translate(1961.6,513.5) rotate(224) scale(11.4,13.8)" fill="url(#lg2)"/>
<use href="#lf3" transform="translate(1946.6,490.6) rotate(271) scale(10.4,11.9)" fill="url(#lg1)"/>
<use href="#lf2" transform="translate(1956.2,488.6) rotate(31) scale(10.4,13.4)" fill="url(#lg3)"/>
<use href="#lf1" transform="translate(1966.3,524.5) rotate(221) scale(9.8,11.5)" fill="url(#lg3)"/>
<use href="#lf3" transform="translate(2011.9,502.6) rotate(82) scale(11.4,14.1)" fill="url(#lg1)"/>
<use href="#lf3" transform="translate(2002.9,493.8) rotate(65) scale(11.8,15.5)" fill="url(#lg2)"/>
<use href="#lf3" transform="translate(2008.5,503.9) rotate(98) scale(9.8,13.1)" fill="url(#lg2)"/>
<use href="#lf3" transform="translate(1997.4,484.3) rotate(250) scale(11.7,15.4)" fill="url(#lg2)"/>
<use href="#lf1" transform="translate(1999.9,495.5) rotate(240) scale(10.1,13.3)" fill="url(#lg2)"/>
<use href="#lf2" transform="translate(2002.1,482.6) rotate(38) scale(11.6,15.2)" fill="url(#lg4)"/>
<use href="#lf3" transform="translate(1995.6,484.9) rotate(234) scale(11.2,13.7)" fill="url(#lg2)"/>
<use href="#lf1" transform="translate(2006.8,491.9) rotate(54) scale(11.2,12.5)" fill="url(#lg3)"/>
<use href="#lf3" transform="translate(1999.6,471.7) rotate(72) scale(9.6,12.3)" fill="url(#lg3)"/>
<use href="#lf1" transform="translate(1993.2,472.5) rotate(251) scale(9.6,11.2)" fill="url(#lg1)"/>
<use href="#lf2" transform="translate(2004.8,508.9) rotate(213) scale(10.6,12.5)" fill="url(#lg4)"/>
<use href="#lf1" transform="translate(1990.1,471.6) rotate(265) scale(11.6,14.5)" fill="url(#lg2)"/>
<path d="M2001,489L2014,537" stroke="#efd33c" stroke-width="35"/>
<path d="M1992.9,491.2L2005.9,539.2" stroke="#cdbd2c" stroke-width="10.5"/>
<path d="M2007.1,487.4L2020.1,535.4" stroke="#fbe85a" stroke-width="7.0"/>
<use href="#lf1" transform="translate(1983.4,486.2) rotate(351) scale(10.0,11.5)" fill="url(#lg2)"/>
<use href="#lf1" transform="translate(2017.4,477.6) rotate(346) scale(10.8,13.1)" fill="url(#lg3)"/>
<use href="#lf3" transform="translate(2019.6,490.8) rotate(156) scale(10.1,12.1)" fill="url(#lg1)"/>
<use href="#lf2" transform="translate(2001.8,495.3) rotate(141) scale(10.1,12.9)" fill="url(#lg2)"/>
<use href="#lf1" transform="translate(2017.8,485.5) rotate(131) scale(10.8,13.1)" fill="url(#lg3)"/>
<use href="#lf2" transform="translate(1999.8,491.3) rotate(165) scale(9.9,11.9)" fill="url(#lg4)"/>
<use href="#lf3" transform="translate(1984.0,494.1) rotate(296) scale(10.5,12.2)" fill="url(#lg2)"/>
<use href="#lf2" transform="translate(1987.5,497.7) rotate(177) scale(10.9,12.2)" fill="url(#lg1)"/>
<use href="#lf3" transform="translate(1999.1,484.4) rotate(368) scale(10.7,12.6)" fill="url(#lg2)"/>
<use href="#lf1" transform="translate(2029.7,525.5) rotate(352) scale(9.4,10.6)" fill="url(#lg3)"/>
<use href="#lf1" transform="translate(2001.0,547.1) rotate(205) scale(11.3,13.0)" fill="url(#lg2)"/>
<use href="#lf3" transform="translate(2030.0,532.7) rotate(342) scale(10.4,12.8)" fill="url(#lg3)"/>
<use href="#lf2" transform="translate(1996.2,540.1) rotate(179) scale(11.2,14.6)" fill="url(#lg3)"/>
<use href="#lf2" transform="translate(2033.0,535.5) rotate(121) scale(10.3,11.9)" fill="url(#lg3)"/>
<use href="#lf3" transform="translate(2011.3,530.9) rotate(329) scale(9.9,12.5)" fill="url(#lg3)"/>
<use href="#lf1" transform="translate(2013.4,535.7) rotate(343) scale(11.0,13.7)" fill="url(#lg2)"/>
<use href="#lf2" transform="translate(1995.6,536.9) rotate(346) scale(10.8,14.5)" fill="url(#lg2)"/>
<use href="#lf3" transform="translate(2016.2,541.2) rotate(180) scale(10.7,14.0)" fill="url(#lg1)"/>
<path d="M2014,537L2094,666" stroke="#efd33c" stroke-width="35"/>
<path d="M2006.9,541.4L2086.9,670.4" stroke="#cdbd2c" stroke-width="10.5"/>
<path d="M2019.4,533.7L2099.4,662.7" stroke="#fbe85a" stroke-width="7.0"/>
<use href="#lf1" transform="translate(2027.3,523.9) rotate(377) scale(10.8,13.1)" fill="url(#lg2)"/>
<use href="#lf3" transform="translate(2010.8,530.2) rotate(331) scale(11.3,14.7)" fill="url(#lg2)"/>
<use href="#lf1" transform="translate(2015.3,542.1) rotate(154) scale(11.4,14.8)" fill="url(#lg3)"/>
<use href="#lf1" transform="translate(2015.3,537.0) rotate(127) scale(9.7,11.5)" fill="url(#lg3)"/>
<use href="#lf3" transform="translate(2029.1,528.0) rotate(334) scale(10.1,12.0)" fill="url(#lg4)"/>
<use href="#lf2" transform="translate(2030.0,533.2) rotate(117) scale(10.0,12.2)" fill="url(#lg3)"/>
<use href="#lf3" transform="translate(2001.0,551.4) rotate(193) scale(9.2,11.0)" fill="url(#lg4)"/>
<use href="#lf1" transform="translate(1997.5,544.9) rotate(294) scale(9.6,13.0)" fill="url(#lg2)"/>
<use href="#lf2" transform="translate(1995.9,540.1) rotate(329) scale(11.0,12.6)" fill="url(#lg2)"/>
<use href="#lf1" transform="translate(2023.3,582.0) rotate(328) scale(11.0,14.4)" fill="url(#lg1)"/>
<use href="#lf3" transform="translate(2039.5,581.0) rotate(315) scale(9.9,13.3)" fill="url(#lg2)"/>
<use href="#lf3" transform="translate(2038.3,575.4) rotate(324) scale(11.2,12.4)" fill="url(#lg1)"/>
<use href="#lf2" transform="translate(2026.8,590.4) rotate(286) scale(9.9,11.7)" fill="url(#lg2)"/>
<use href="#lf2" transform="translate(2028.2,595.2) rotate(154) scale(10.8,14.0)" fill="url(#lg2)"/>
<use href="#lf3" transform="translate(2045.1,584.4) rotate(160) scale(10.9,13.2)" fill="url(#lg4)"/>
<use href="#lf1" transform="translate(2051.6,565.0) rotate(362) scale(10.9,13.8)" fill="url(#lg3)"/>
<use href="#lf2" transform="translate(2059.3,576.0) rotate(103) scale(9.8,12.2)" fill="url(#lg4)"/>
<use href="#lf1" transform="translate(2054.0,572.1) rotate(349) scale(11.0,12.6)" fill="url(#lg1)"/>
<use href="#lf3" transform="translate(2052.5,632.9) rotate(301) scale(9.6,12.0)" fill="url(#lg4)"/>
<use href="#lf2" transform="translate(2052.3,628.1) rotate(307) scale(11.0,13.4)" fill="url(#lg2)"/>
<use href="#lf3" transform="translate(2077.7,609.5) rotate(346) scale(10.3,12.8)" fill="url(#lg1)"/>
<use href="#lf2" transform="translate(2055.8,636.2) rotate(152) scale(9.1,12.0)" fill="url(#lg3)"/>
<use href="#lf2" transform="translate(2071.0,628.5) rotate(132) scale(10.3,13.3)" fill="url(#lg4)"/>
<use href="#lf1" transform="translate(2065.1,619.0) rotate(302) scale(9.7,12.4)" fill="url(#lg3)"/>
<use href="#lf2" transform="translate(2084.8,620.6) rotate(117) scale(9.1,10.5)" fill="url(#lg3)"/>
<use href="#lf1" transform="translate(2068.8,621.9) rotate(144) scale(9.3,12.1)" fill="url(#lg2)"/>
<use href="#lf3" transform="translate(2080.2,612.8) rotate(357) scale(10.0,11.4)" fill="url(#lg2)"/>
<use href="#lf2" transform="translate(2095.3,670.5) rotate(176) scale(10.1,13.2)" fill="url(#lg2)"/>
<use href="#lf3" transform="translate(2107.1,651.5) rotate(366) scale(11.1,12.9)" fill="url(#lg3)"/>
<use href="#lf1" transform="translate(2092.2,662.0) rotate(313) scale(10.1,12.8)" fill="url(#lg2)"/>
<use href="#lf3" transform="translate(2082.8,679.4) rotate(162) scale(9.3,10.6)" fill="url(#lg3)"/>
<use href="#lf2" transform="translate(2076.3,671.8) rotate(321) scale(11.3,13.7)" fill="url(#lg2)"/>
<use href="#lf2" transform="translate(2111.8,662.5) rotate(130) scale(9.5,12.2)" fill="url(#lg4)"/>
<use href="#lf1" transform="translate(2093.4,665.7) rotate(165) scale(9.7,12.4)" fill="url(#lg2)"/>
<use href="#lf1" transform="translate(2080.7,673.7) rotate(156) scale(9.2,11.9)" fill="url(#lg2)"/>
<use href="#lf2" transform="translate(2109.4,657.2) rotate(349) scale(10.9,13.2)" fill="url(#lg1)"/>
<path d="M2196,691L2094,666" stroke="#efd33c" stroke-width="35"/>
<path d="M2198.0,682.8L2096.0,657.8" stroke="#cdbd2c" stroke-width="10.5"/>
<path d="M2194.5,697.1L2092.5,672.1" stroke="#fbe85a" stroke-width="7.0"/>
<use href="#lf2" transform="translate(2169.8,665.8) rotate(101) scale(9.6,10.5)" fill="url(#lg3)"/>
<use href="#lf3" transform="translate(2160.1,698.3) rotate(133) scale(9.6,11.1)" fill="url(#lg1)"/>
<use href="#lf2" transform="translate(2162.5,682.6) rotate(-59) scale(9.9,11.9)" fill="url(#lg1)"/>
<use href="#lf2" transform="translate(2163.8,667.5) rotate(91) scale(9.5,10.7)" fill="url(#lg2)"/>
<use href="#lf3" transform="translate(2165.8,685.5) rotate(115) scale(10.8,13.4)" fill="url(#lg4)"/>
<use href="#lf1" transform="translate(2160.9,665.0) rotate(-32) scale(9.3,12.0)" fill="url(#lg4)"/>
<use href="#lf3" transform="translate(2160.0,680.4) rotate(-99) scale(10.6,12.4)" fill="url(#lg1)"/>
<use href="#lf2" transform="translate(2157.0,699.2) rotate(-111) scale(9.4,11.3)" fill="url(#lg2)"/>
<use href="#lf1" transform="translate(2155.3,696.6) rotate(-107) scale(10.5,13.6)" fill="url(#lg3)"/>
<use href="#lf3" transform="translate(2127.7,691.9) rotate(107) scale(11.3,15.3)" fill="url(#lg2)"/>
<use href="#lf2" transform="translate(2127.3,658.6) rotate(-77) scale(11.0,12.9)" fill="url(#lg4)"/>
<use href="#lf1" transform="translate(2119.3,690.8) rotate(-122) scale(11.3,14.0)" fill="url(#lg2)"/>
<use href="#lf2" transform="translate(2132.8,659.3) rotate(70) scale(11.0,13.5)" fill="url(#lg2)"/>
<use href="#lf3" transform="translate(2131.3,676.3) rotate(117) scale(9.2,12.0)" fill="url(#lg2)"/>
<use href="#lf3" transform="translate(2126.3,675.6) rotate(-92) scale(11.0,14.7)" fill="url(#lg3)"/>
<use href="#lf3" transform="translate(2122.2,689.8) rotate(103) scale(9.7,12.1)" fill="url(#lg3)"/>
<use href="#lf3" transform="translate(2134.7,657.3) rotate(56) scale(9.4,10.8)" fill="url(#lg3)"/>
<use href="#lf1" transform="translate(2122.1,674.1) rotate(-54) scale(10.2,13.5)" fill="url(#lg3)"/>
<use href="#lf3" transform="translate(2099.1,649.1) rotate(84) scale(9.7,11.0)" fill="url(#lg2)"/>
<use href="#lf3" transform="translate(2087.3,681.8) rotate(-99) scale(11.2,12.4)" fill="url(#lg3)"/>
<use href="#lf3" transform="translate(2101.9,652.1) rotate(61) scale(10.6,13.8)" fill="url(#lg1)"/>
<use href="#lf1" transform="translate(2088.6,680.7) rotate(-82) scale(10.7,13.3)" fill="url(#lg1)"/>
<use href="#lf2" transform="translate(2096.1,664.9) rotate(-62) scale(10.4,12.3)" fill="url(#lg3)"/>
<use href="#lf3" transform="translate(2092.8,649.1) rotate(-62) scale(10.0,11.8)" fill="url(#lg3)"/>
<use href="#lf2" transform="translate(2089.2,664.2) rotate(-64) scale(10.9,13.4)" fill="url(#lg3)"/>
<use href="#lf2" transform="translate(2096.9,666.1) rotate(119) scale(11.4,15.0)" fill="url(#lg3)"/>
<use href="#lf2" transform="translate(2092.7,682.7) rotate(148) scale(9.9,12.0)" fill="url(#lg2)"/>
<use href="#lf3" transform="translate(2193.3,707.8) rotate(107) scale(11.4,11.4)" fill="url(#lg4)"/>
<use href="#lf2" transform="translate(2206.4,685.5) rotate(339) scale(13.5,13.5)" fill="url(#lg2)"/>
<use href="#lf1" transform="translate(2192.5,699.4) rotate(299) scale(11.7,11.7)" fill="url(#lg4)"/>
<use href="#lf1" transform="translate(2210.9,670.2) rotate(138) scale(13.1,13.1)" fill="url(#lg2)"/>
<use href="#lf2" transform="translate(2190.1,714.3) rotate(65) scale(11.9,11.9)" fill="url(#lg2)"/>
<use href="#lf3" transform="translate(2191.3,696.7) rotate(244) scale(12.3,12.3)" fill="url(#lg2)"/>
<use href="#lf2" transform="translate(2203.9,672.4) rotate(156) scale(12.2,12.2)" fill="url(#lg4)"/>
<use href="#lf3" transform="translate(2203.5,663.9) rotate(139) scale(11.2,11.2)" fill="url(#lg2)"/>
<use href="#lf1" transform="translate(2196.9,671.2) rotate(75) scale(10.9,10.9)" fill="url(#lg3)"/>
<use href="#lf1" transform="translate(2192.2,720.7) rotate(113) scale(10.6,10.6)" fill="url(#lg3)"/>
<use href="#lf1" transform="translate(2189.0,710.9) rotate(162) scale(11.2,11.2)" fill="url(#lg3)"/>
<use href="#lf1" transform="translate(2188.1,695.8) rotate(134) scale(10.4,10.4)" fill="url(#lg2)"/>
<use href="#lf3" transform="translate(2202.2,664.5) rotate(171) scale(12.6,12.6)" fill="url(#lg3)"/>
<use href="#lf3" transform="translate(2191.4,722.7) rotate(158) scale(11.5,11.5)" fill="url(#lg3)"/>
<use href="#lf1" transform="translate(2198.3,709.1) rotate(283) scale(10.5,10.5)" fill="url(#lg1)"/>
<use href="#lf2" transform="translate(2199.6,700.7) rotate(171) scale(12.0,12.0)" fill="url(#lg3)"/>
<path d="M2094,666L2148,622" stroke="#efd33c" stroke-width="33"/>
<path d="M2099.0,672.1L2153.0,628.1" stroke="#cdbd2c" stroke-width="9.9"/>
<path d="M2090.2,661.4L2144.2,617.4" stroke="#fbe85a" stroke-width="6.6"/>
<use href="#lf3" transform="translate(2087.3,648.9) rotate(48) scale(9.1,11.5)" fill="url(#lg3)"/>
<use href="#lf2" transform="translate(2094.5,663.9) rotate(223) scale(10.9,13.5)" fill="url(#lg1)"/>
<use href="#lf2" transform="translate(2084.3,652.1) rotate(55) scale(9.0,11.4)" fill="url(#lg3)"/>
<use href="#lf1" transform="translate(2108.8,675.5) rotate(68) scale(9.9,11.7)" fill="url(#lg2)"/>
<use href="#lf3" transform="translate(2101.1,681.3) rotate(215) scale(9.6,11.7)" fill="url(#lg3)"/>
<use href="#lf3" transform="translate(2103.1,677.1) rotate(64) scale(10.2,12.1)" fill="url(#lg2)"/>
<use href="#lf1" transform="translate(2079.5,655.6) rotate(233) scale(10.9,14.6)" fill="url(#lg1)"/>
<use href="#lf1" transform="translate(2098.4,663.2) rotate(63) scale(9.5,12.5)" fill="url(#lg4)"/>
<use href="#lf3" transform="translate(2090.5,666.9) rotate(249) scale(9.1,11.4)" fill="url(#lg3)"/>
<use href="#lf1" transform="translate(2128.7,655.9) rotate(185) scale(9.1,10.9)" fill="url(#lg2)"/>
<use href="#lf1" transform="translate(2107.4,633.4) rotate(250) scale(10.1,12.2)" fill="url(#lg2)"/>
<use href="#lf3" transform="translate(2120.2,644.5) rotate(209) scale(11.0,12.2)" fill="url(#lg1)"/>
<use href="#lf3" transform="translate(2119.3,647.2) rotate(237) scale(10.8,12.7)" fill="url(#lg3)"/>
<use href="#lf1" transform="translate(2136.1,654.0) rotate(68) scale(11.1,13.9)" fill="url(#lg3)"/>
<use href="#lf3" transform="translate(2114.8,630.9) rotate(40) scale(10.5,14.0)" fill="url(#lg1)"/>
<use href="#lf1" transform="translate(2110.1,631.2) rotate(244) scale(11.1,14.4)" fill="url(#lg3)"/>
<use href="#lf2" transform="translate(2127.2,660.7) rotate(223) scale(9.9,11.1)" fill="url(#lg2)"/>
<use href="#lf3" transform="translate(2126.0,641.5) rotate(54) scale(10.2,12.6)" fill="url(#lg3)"/>
<use href="#lf3" transform="translate(2161.2,633.3) rotate(79) scale(10.6,12.4)" fill="url(#lg1)"/>
<use href="#lf3" transform="translate(2146.9,625.1) rotate(233) scale(11.0,13.1)" fill="url(#lg1)"/>
<use href="#lf1" transform="translate(2153.0,637.2) rotate(207) scale(9.4,11.2)" fill="url(#lg2)"/>
<use href="#lf1" transform="translate(2138.8,608.3) rotate(9) scale(10.7,13.1)" fill="url(#lg4)"/>
<use href="#lf3" transform="translate(2152.1,621.0) rotate(44) scale(9.2,11.1)" fill="url(#lg3)"/>
<use href="#lf2" transform="translate(2147.7,623.1) rotate(75) scale(9.5,10.6)" fill="url(#lg4)"/>
<use href="#lf3" transform="translate(2138.8,607.2) rotate(44) scale(10.1,12.0)" fill="url(#lg1)"/>
<use href="#lf1" transform="translate(2135.7,612.0) rotate(244) scale(10.7,13.1)" fill="url(#lg1)"/>
<use href="#lf2" transform="translate(2159.6,634.6) rotate(66) scale(10.4,12.8)" fill="url(#lg4)"/>
<path d="M2094,666L2033,785" stroke="#efd33c" stroke-width="35"/>
<path d="M2086.5,662.2L2025.5,781.2" stroke="#cdbd2c" stroke-width="10.5"/>
<path d="M2099.6,668.9L2038.6,787.9" stroke="#fbe85a" stroke-width="7.0"/>
<use href="#lf3" transform="translate(2093.0,667.5) rotate(409) scale(9.3,12.3)" fill="url(#lg3)"/>
<use href="#lf3" transform="translate(2107.5,676.6) rotate(171) scale(11.2,14.0)" fill="url(#lg1)"/>
<use href="#lf3" transform="translate(2077.1,662.0) rotate(214) scale(10.4,13.8)" fill="url(#lg2)"/>
<use href="#lf1" transform="translate(2110.6,674.7) rotate(176) scale(10.2,12.2)" fill="url(#lg1)"/>
<use href="#lf3" transform="translate(2096.1,660.5) rotate(395) scale(10.5,12.9)" fill="url(#lg2)"/>
<use href="#lf2" transform="translate(2110.4,669.8) rotate(416) scale(9.7,12.4)" fill="url(#lg3)"/>
<use href="#lf3" transform="translate(2080.6,652.9) rotate(350) scale(9.9,12.2)" fill="url(#lg2)"/>
<use href="#lf2" transform="translate(2093.4,669.2) rotate(216) scale(9.4,11.6)" fill="url(#lg3)"/>
<use href="#lf3" transform="translate(2077.9,656.7) rotate(246) scale(10.1,12.0)" fill="url(#lg2)"/>
<use href="#lf1" transform="translate(2092.0,707.6) rotate(383) scale(11.0,14.6)" fill="url(#lg4)"/>
<use href="#lf3" transform="translate(2056.6,700.8) rotate(214) scale(10.7,12.0)" fill="url(#lg2)"/>
<use href="#lf2" transform="translate(2088.4,717.8) rotate(172) scale(10.3,13.7)" fill="url(#lg3)"/>
<use href="#lf3" transform="translate(2073.8,703.6) rotate(220) scale(9.7,12.7)" fill="url(#lg3)"/>
<use href="#lf2" transform="translate(2058.7,694.5) rotate(347) scale(9.6,12.5)" fill="url(#lg4)"/>
<use href="#lf1" transform="translate(2058.8,696.4) rotate(350) scale(9.9,11.7)" fill="url(#lg3)"/>
<use href="#lf2" transform="translate(2071.9,708.9) rotate(227) scale(11.3,14.2)" fill="url(#lg4)"/>
<use href="#lf1" transform="translate(2076.3,700.7) rotate(398) scale(9.9,11.9)" fill="url(#lg4)"/>
<use href="#lf1" transform="translate(2089.0,714.6) rotate(412) scale(11.1,13.6)" fill="url(#lg2)"/>
<use href="#lf1" transform="translate(2056.6,742.7) rotate(412) scale(11.0,13.5)" fill="url(#lg3)"/>
<use href="#lf3" transform="translate(2067.6,758.2) rotate(174) scale(10.5,13.5)" fill="url(#lg3)"/>
<use href="#lf1" transform="translate(2035.0,740.0) rotate(242) scale(10.3,13.5)" fill="url(#lg4)"/>
<use href="#lf3" transform="translate(2067.2,753.8) rotate(179) scale(9.4,10.6)" fill="url(#lg1)"/>
<use href="#lf1" transform="translate(2051.5,751.9) rotate(227) scale(10.0,12.4)" fill="url(#lg2)"/>
<use href="#lf1" transform="translate(2039.3,737.3) rotate(371) scale(9.6,12.6)" fill="url(#lg3)"/>
<use href="#lf1" transform="translate(2071.8,750.5) rotate(415) scale(10.4,12.9)" fill="url(#lg3)"/>
<use href="#lf3" transform="translate(2051.7,744.2) rotate(206) scale(9.3,10.9)" fill="url(#lg1)"/>
<use href="#lf3" transform="translate(2040.6,735.1) rotate(393) scale(9.9,11.8)" fill="url(#lg3)"/>
<use href="#lf2" transform="translate(2033.1,784.8) rotate(234) scale(9.2,12.2)" fill="url(#lg2)"/>
<use href="#lf3" transform="translate(2051.7,787.0) rotate(416) scale(10.1,11.3)" fill="url(#lg2)"/>
<use href="#lf1" transform="translate(2045.6,799.0) rotate(185) scale(10.8,14.4)" fill="url(#lg3)"/>
<use href="#lf3" transform="translate(2029.4,787.9) rotate(191) scale(10.0,11.7)" fill="url(#lg3)"/>
<use href="#lf3" transform="translate(2015.1,781.1) rotate(235) scale(9.8,11.4)" fill="url(#lg2)"/>
<use href="#lf3" transform="translate(2019.0,774.3) rotate(352) scale(11.2,13.5)" fill="url(#lg3)"/>
<use href="#lf2" transform="translate(2047.1,791.5) rotate(203) scale(10.1,12.4)" fill="url(#lg2)"/>
<use href="#lf3" transform="translate(2018.0,775.5) rotate(377) scale(9.5,10.9)" fill="url(#lg2)"/>
<use href="#lf1" transform="translate(2035.9,780.5) rotate(376) scale(9.8,11.8)" fill="url(#lg2)"/>
<path d="M2033,785L1984,858" stroke="#efd33c" stroke-width="35"/>
<path d="M2026.0,780.3L1977.0,853.3" stroke="#cdbd2c" stroke-width="10.5"/>
<path d="M2038.2,788.5L1989.2,861.5" stroke="#fbe85a" stroke-width="7.0"/>
<use href="#lf2" transform="translate(2034.7,780.6) rotate(390) scale(10.1,11.5)" fill="url(#lg4)"/>
<use href="#lf3" transform="translate(2048.9,794.0) rotate(442) scale(10.9,12.3)" fill="url(#lg3)"/>
<use href="#lf2" transform="translate(2023.0,772.1) rotate(348) scale(9.2,10.7)" fill="url(#lg4)"/>
<use href="#lf2" transform="translate(2015.3,778.3) rotate(245) scale(11.2,14.2)" fill="url(#lg4)"/>
<use href="#lf2" transform="translate(2033.1,786.3) rotate(390) scale(11.2,14.5)" fill="url(#lg1)"/>
<use href="#lf3" transform="translate(2048.9,790.1) rotate(419) scale(10.7,13.8)" fill="url(#lg3)"/>
<use href="#lf2" transform="translate(2044.6,799.2) rotate(175) scale(11.2,15.1)" fill="url(#lg3)"/>
<use href="#lf3" transform="translate(2030.5,788.5) rotate(202) scale(10.0,13.2)" fill="url(#lg2)"/>
<use href="#lf3" transform="translate(2020.9,775.1) rotate(242) scale(9.1,10.4)" fill="url(#lg3)"/>
<use href="#lf3" transform="translate(2024.3,830.4) rotate(397) scale(10.1,12.1)" fill="url(#lg4)"/>
<use href="#lf3" transform="translate(2020.2,834.5) rotate(175) scale(10.3,11.4)" fill="url(#lg4)"/>
<use href="#lf1" transform="translate(1996.3,812.0) rotate(395) scale(10.4,12.2)" fill="url(#lg1)"/>
<use href="#lf1" transform="translate(2005.1,827.1) rotate(219) scale(9.7,12.9)" fill="url(#lg2)"/>
<use href="#lf3" transform="translate(2024.3,826.1) rotate(440) scale(9.2,10.3)" fill="url(#lg4)"/>
<use href="#lf2" transform="translate(2011.7,815.9) rotate(392) scale(9.2,11.4)" fill="url(#lg3)"/>
<use href="#lf2" transform="translate(1990.7,816.4) rotate(208) scale(9.2,12.0)" fill="url(#lg3)"/>
<use href="#lf3" transform="translate(1997.5,808.6) rotate(362) scale(10.9,13.6)" fill="url(#lg4)"/>
<use href="#lf1" transform="translate(2009.4,820.9) rotate(412) scale(10.2,13.6)" fill="url(#lg2)"/>
<use href="#lf3" transform="translate(1987.0,854.8) rotate(376) scale(11.1,14.1)" fill="url(#lg4)"/>
<use href="#lf1" transform="translate(1979.8,861.5) rotate(192) scale(9.2,11.5)" fill="url(#lg2)"/>
<use href="#lf3" transform="translate(1983.1,856.2) rotate(236) scale(10.3,12.5)" fill="url(#lg1)"/>
<use href="#lf3" transform="translate(1999.0,869.6) rotate(181) scale(10.0,11.4)" fill="url(#lg1)"/>
<use href="#lf3" transform="translate(2000.1,862.1) rotate(439) scale(10.2,12.6)" fill="url(#lg2)"/>
<use href="#lf3" transform="translate(1997.2,872.3) rotate(181) scale(10.5,12.1)" fill="url(#lg2)"/>
<use href="#lf1" transform="translate(1972.6,846.6) rotate(348) scale(11.1,13.4)" fill="url(#lg4)"/>
<use href="#lf2" transform="translate(1968.3,852.5) rotate(248) scale(10.0,12.1)" fill="url(#lg2)"/>
<use href="#lf1" transform="translate(1967.6,848.6) rotate(234) scale(11.2,13.2)" fill="url(#lg3)"/>
<path d="M1984,858L1943,943" stroke="#efd33c" stroke-width="35"/>
<path d="M1976.4,854.4L1935.4,939.4" stroke="#cdbd2c" stroke-width="10.5"/>
<path d="M1989.7,860.7L1948.7,945.7" stroke="#fbe85a" stroke-width="7.0"/>
<use href="#lf2" transform="translate(1999.5,869.5) rotate(168) scale(10.6,12.2)" fill="url(#lg2)"/>
<use href="#lf2" transform="translate(1967.5,854.4) rotate(214) scale(9.9,13.1)" fill="url(#lg2)"/>
<use href="#lf3" transform="translate(1987.6,854.9) rotate(410) scale(11.1,14.7)" fill="url(#lg2)"/>
<use href="#lf3" transform="translate(2000.1,867.4) rotate(404) scale(10.5,13.7)" fill="url(#lg2)"/>
<use href="#lf1" transform="translate(1971.2,846.7) rotate(393) scale(9.8,12.5)" fill="url(#lg2)"/>
<use href="#lf1" transform="translate(2002.8,861.7) rotate(429) scale(10.7,14.4)" fill="url(#lg1)"/>
<use href="#lf1" transform="translate(1982.8,858.6) rotate(374) scale(9.7,12.5)" fill="url(#lg2)"/>
<use href="#lf1" transform="translate(1970.6,850.5) rotate(232) scale(11.0,13.5)" fill="url(#lg4)"/>
<use href="#lf3" transform="translate(1980.1,863.5) rotate(181) scale(10.4,13.1)" fill="url(#lg3)"/>
<use href="#lf2" transform="translate(1978.8,903.6) rotate(418) scale(10.7,12.6)" fill="url(#lg2)"/>
<use href="#lf2" transform="translate(1979.0,911.6) rotate(164) scale(10.0,12.5)" fill="url(#lg3)"/>
<use href="#lf1" transform="translate(1964.6,899.2) rotate(226) scale(11.0,14.0)" fill="url(#lg3)"/>
<use href="#lf1" transform="translate(1961.4,906.8) rotate(225) scale(11.4,12.9)" fill="url(#lg3)"/>
<use href="#lf1" transform="translate(1947.7,898.0) rotate(204) scale(9.5,12.2)" fill="url(#lg2)"/>
<use href="#lf1" transform="translate(1952.5,888.2) rotate(351) scale(10.9,14.2)" fill="url(#lg1)"/>
<use href="#lf2" transform="translate(1979.9,909.0) rotate(183) scale(10.1,13.2)" fill="url(#lg3)"/>
<use href="#lf1" transform="translate(1965.0,895.7) rotate(371) scale(10.3,11.6)" fill="url(#lg1)"/>
<use href="#lf1" transform="translate(1949.8,894.2) rotate(385) scale(10.1,11.4)" fill="url(#lg4)"/>
<use href="#lf2" transform="translate(1931.1,931.4) rotate(360) scale(10.5,12.4)" fill="url(#lg3)"/>
<use href="#lf3" transform="translate(1927.0,939.9) rotate(231) scale(10.0,13.1)" fill="url(#lg3)"/>
<use href="#lf3" transform="translate(1958.9,946.1) rotate(420) scale(11.2,15.0)" fill="url(#lg1)"/>
<use href="#lf1" transform="translate(1941.9,942.8) rotate(197) scale(9.9,12.9)" fill="url(#lg2)"/>
<use href="#lf1" transform="translate(1925.9,937.0) rotate(338) scale(9.9,11.7)" fill="url(#lg2)"/>
<use href="#lf2" transform="translate(1956.4,953.8) rotate(166) scale(9.6,12.6)" fill="url(#lg3)"/>
<use href="#lf1" transform="translate(1941.9,947.7) rotate(226) scale(10.9,14.7)" fill="url(#lg4)"/>
<use href="#lf1" transform="translate(1946.3,937.7) rotate(407) scale(11.3,12.9)" fill="url(#lg2)"/>
<use href="#lf3" transform="translate(1957.6,948.5) rotate(408) scale(9.4,11.5)" fill="url(#lg3)"/>
<path d="M2046,920L1984,858" stroke="#efd33c" stroke-width="35"/>
<path d="M2051.9,914.1L1989.9,852.1" stroke="#cdbd2c" stroke-width="10.5"/>
<path d="M2041.5,924.5L1979.5,862.5" stroke="#fbe85a" stroke-width="7.0"/>
<use href="#lf2" transform="translate(2016.5,892.2) rotate(134) scale(9.4,10.7)" fill="url(#lg4)"/>
<use href="#lf3" transform="translate(2027.6,876.1) rotate(106) scale(11.1,13.0)" fill="url(#lg2)"/>
<use href="#lf3" transform="translate(2013.8,889.6) rotate(-47) scale(9.3,11.9)" fill="url(#lg3)"/>
<use href="#lf2" transform="translate(2011.7,883.4) rotate(-22) scale(11.3,14.0)" fill="url(#lg3)"/>
<use href="#lf1" transform="translate(2030.6,877.9) rotate(138) scale(9.4,12.3)" fill="url(#lg2)"/>
<use href="#lf1" transform="translate(2004.5,903.9) rotate(185) scale(10.6,12.5)" fill="url(#lg2)"/>
<use href="#lf1" transform="translate(2004.3,900.4) rotate(-64) scale(10.2,11.9)" fill="url(#lg3)"/>
<use href="#lf1" transform="translate(2022.7,872.7) rotate(-10) scale(9.5,11.2)" fill="url(#lg1)"/>
<use href="#lf3" transform="translate(1998.5,898.5) rotate(-88) scale(11.0,13.8)" fill="url(#lg2)"/>
<use href="#lf1" transform="translate(1968.5,865.5) rotate(-72) scale(10.2,13.7)" fill="url(#lg3)"/>
<use href="#lf3" transform="translate(1974.9,873.5) rotate(179) scale(10.3,12.1)" fill="url(#lg4)"/>
<use href="#lf1" transform="translate(1972.7,871.7) rotate(151) scale(9.5,11.0)" fill="url(#lg2)"/>
<use href="#lf2" transform="translate(1991.8,841.0) rotate(-46) scale(9.2,12.4)" fill="url(#lg2)"/>
<use href="#lf3" transform="translate(1983.6,858.4) rotate(-45) scale(11.3,13.5)" fill="url(#lg3)"/>
<use href="#lf1" transform="translate(1995.6,845.7) rotate(91) scale(9.7,11.8)" fill="url(#lg1)"/>
<use href="#lf1" transform="translate(1981.1,852.5) rotate(-47) scale(11.2,13.3)" fill="url(#lg3)"/>
<use href="#lf3" transform="translate(1986.7,862.4) rotate(122) scale(10.8,13.2)" fill="url(#lg3)"/>
<use href="#lf3" transform="translate(1998.1,850.6) rotate(141) scale(10.1,13.3)" fill="url(#lg2)"/>
<use href="#lf3" transform="translate(2045.2,922.4) rotate(274) scale(12.4,12.4)" fill="url(#lg3)"/>
<use href="#lf1" transform="translate(2024.2,937.4) rotate(107) scale(10.6,10.6)" fill="url(#lg1)"/>
<use href="#lf3" transform="translate(2064.2,915.4) rotate(118) scale(13.8,13.8)" fill="url(#lg2)"/>
<use href="#lf1" transform="translate(2048.4,908.7) rotate(144) scale(12.9,12.9)" fill="url(#lg3)"/>
<use href="#lf3" transform="translate(2056.9,917.1) rotate(239) scale(11.1,11.1)" fill="url(#lg1)"/>
<use href="#lf3" transform="translate(2049.6,912.0) rotate(143) scale(13.5,13.5)" fill="url(#lg3)"/>
<use href="#lf2" transform="translate(2042.6,922.7) rotate(149) scale(11.6,11.6)" fill="url(#lg3)"/>
<use href="#lf1" transform="translate(2069.1,904.1) rotate(73) scale(13.0,13.0)" fill="url(#lg2)"/>
<use href="#lf2" transform="translate(2056.0,912.1) rotate(291) scale(11.6,11.6)" fill="url(#lg3)"/>
<use href="#lf1" transform="translate(2035.8,932.3) rotate(16) scale(12.7,12.7)" fill="url(#lg2)"/>
<use href="#lf3" transform="translate(2036.0,932.4) rotate(357) scale(12.7,12.7)" fill="url(#lg2)"/>
<use href="#lf1" transform="translate(2030.9,938.3) rotate(188) scale(10.3,10.3)" fill="url(#lg3)"/>
<use href="#lf3" transform="translate(2034.6,937.8) rotate(32) scale(12.4,12.4)" fill="url(#lg3)"/>
<use href="#lf3" transform="translate(2039.6,921.7) rotate(5) scale(12.6,12.6)" fill="url(#lg4)"/>
<use href="#lf3" transform="translate(2046.8,925.0) rotate(155) scale(14.0,14.0)" fill="url(#lg2)"/>
<use href="#lf2" transform="translate(2064.4,893.3) rotate(313) scale(10.4,10.4)" fill="url(#lg4)"/>
<path d="M1943,943L1698,938" stroke="#efd33c" stroke-width="32"/>
<path d="M1943.2,935.3L1698.2,930.3" stroke="#cdbd2c" stroke-width="9.6"/>
<path d="M1942.9,948.8L1697.9,943.8" stroke="#fbe85a" stroke-width="6.4"/>
<use href="#lf1" transform="translate(1949.3,926.4) rotate(75) scale(10.5,13.4)" fill="url(#lg1)"/>
<use href="#lf2" transform="translate(1938.2,925.7) rotate(-37) scale(10.1,11.8)" fill="url(#lg2)"/>
<use href="#lf3" transform="translate(1944.0,957.9) rotate(135) scale(9.8,12.3)" fill="url(#lg2)"/>
<use href="#lf1" transform="translate(1941.1,941.0) rotate(62) scale(9.4,11.0)" fill="url(#lg3)"/>
<use href="#lf2" transform="translate(1946.2,960.4) rotate(111) scale(9.3,10.4)" fill="url(#lg4)"/>
<use href="#lf2" transform="translate(1938.5,941.2) rotate(-84) scale(9.4,10.5)" fill="url(#lg3)"/>
<use href="#lf1" transform="translate(1942.0,925.9) rotate(76) scale(9.5,12.6)" fill="url(#lg2)"/>
<use href="#lf2" transform="translate(1948.4,944.1) rotate(91) scale(9.1,11.2)" fill="url(#lg4)"/>
<use href="#lf1" transform="translate(1938.3,956.4) rotate(-97) scale(8.9,10.4)" fill="url(#lg3)"/>
<use href="#lf2" transform="translate(1898.3,942.2) rotate(-78) scale(9.0,11.0)" fill="url(#lg2)"/>
<use href="#lf3" transform="translate(1902.6,943.8) rotate(89) scale(8.9,11.7)" fill="url(#lg2)"/>
<use href="#lf3" transform="translate(1897.4,956.5) rotate(-89) scale(9.5,11.5)" fill="url(#lg3)"/>
<use href="#lf1" transform="translate(1901.1,956.5) rotate(-97) scale(9.9,12.6)" fill="url(#lg1)"/>
<use href="#lf3" transform="translate(1907.1,941.7) rotate(72) scale(8.8,10.2)" fill="url(#lg4)"/>
<use href="#lf1" transform="translate(1898.5,928.2) rotate(-56) scale(9.8,12.7)" fill="url(#lg3)"/>
<use href="#lf2" transform="translate(1906.0,958.8) rotate(139) scale(10.5,13.6)" fill="url(#lg2)"/>
<use href="#lf1" transform="translate(1906.0,925.9) rotate(53) scale(8.8,10.1)" fill="url(#lg2)"/>
<use href="#lf3" transform="translate(1902.5,925.3) rotate(92) scale(10.8,12.0)" fill="url(#lg2)"/>
<use href="#lf2" transform="translate(1860.8,926.5) rotate(45) scale(9.5,12.7)" fill="url(#lg4)"/>
<use href="#lf2" transform="translate(1857.9,926.9) rotate(-76) scale(10.5,12.2)" fill="url(#lg4)"/>
<use href="#lf2" transform="translate(1865.2,925.6) rotate(73) scale(9.7,11.5)" fill="url(#lg3)"/>
<use href="#lf1" transform="translate(1857.7,955.1) rotate(-94) scale(9.3,12.4)" fill="url(#lg2)"/>
<use href="#lf2" transform="translate(1866.8,955.2) rotate(88) scale(9.8,11.0)" fill="url(#lg1)"/>
<use href="#lf3" transform="translate(1863.2,942.2) rotate(-75) scale(10.2,13.1)" fill="url(#lg2)"/>
<use href="#lf1" transform="translate(1856.3,939.7) rotate(-72) scale(10.4,12.0)" fill="url(#lg2)"/>
<use href="#lf3" transform="translate(1860.8,956.6) rotate(-95) scale(9.3,12.0)" fill="url(#lg3)"/>
<use href="#lf2" transform="translate(1867.7,943.4) rotate(83) scale(10.4,13.0)" fill="url(#lg4)"/>
<use href="#lf2" transform="translate(1823.9,925.0) rotate(69) scale(9.5,11.5)" fill="url(#lg4)"/>
<use href="#lf1" transform="translate(1816.1,924.3) rotate(-54) scale(9.0,11.9)" fill="url(#lg2)"/>
<use href="#lf2" transform="translate(1819.9,923.5) rotate(-74) scale(9.0,10.1)" fill="url(#lg1)"/>
<use href="#lf1" transform="translate(1814.9,939.6) rotate(-103) scale(10.3,13.3)" fill="url(#lg3)"/>
<use href="#lf2" transform="translate(1821.1,941.6) rotate(-86) scale(9.9,13.1)" fill="url(#lg1)"/>
<use href="#lf3" transform="translate(1823.5,955.1) rotate(90) scale(10.9,13.3)" fill="url(#lg4)"/>
<use href="#lf1" transform="translate(1826.3,942.6) rotate(71) scale(10.7,12.7)" fill="url(#lg2)"/>
<use href="#lf3" transform="translate(1821.3,955.0) rotate(112) scale(9.7,12.3)" fill="url(#lg4)"/>
<use href="#lf1" transform="translate(1814.9,957.2) rotate(-100) scale(9.5,10.7)" fill="url(#lg2)"/>
<use href="#lf2" transform="translate(1784.4,925.8) rotate(55) scale(10.1,12.6)" fill="url(#lg2)"/>
<use href="#lf1" transform="translate(1778.4,925.4) rotate(78) scale(10.4,13.2)" fill="url(#lg2)"/>
<use href="#lf2" transform="translate(1776.6,938.7) rotate(-95) scale(10.0,13.3)" fill="url(#lg3)"/>
<use href="#lf1" transform="translate(1775.7,924.5) rotate(-47) scale(9.0,11.9)" fill="url(#lg3)"/>
<use href="#lf2" transform="translate(1779.2,956.6) rotate(-90) scale(10.4,12.3)" fill="url(#lg4)"/>
<use href="#lf2" transform="translate(1784.6,938.8) rotate(62) scale(10.9,13.3)" fill="url(#lg2)"/>
<use href="#lf2" transform="translate(1774.1,956.2) rotate(-139) scale(8.9,9.9)" fill="url(#lg4)"/>
<use href="#lf3" transform="translate(1784.1,954.5) rotate(104) scale(8.8,10.0)" fill="url(#lg3)"/>
<use href="#lf1" transform="translate(1780.0,939.5) rotate(83) scale(9.9,11.4)" fill="url(#lg2)"/>
<use href="#lf1" transform="translate(1743.4,954.1) rotate(101) scale(10.4,12.8)" fill="url(#lg2)"/>
<use href="#lf2" transform="translate(1737.4,924.2) rotate(-43) scale(9.4,11.5)" fill="url(#lg2)"/>
<use href="#lf2" transform="translate(1733.4,953.7) rotate(-82) scale(10.4,12.3)" fill="url(#lg2)"/>
<use href="#lf2" transform="translate(1734.4,921.5) rotate(-88) scale(8.9,10.9)" fill="url(#lg2)"/>
<use href="#lf2" transform="translate(1744.9,940.3) rotate(77) scale(10.7,14.3)" fill="url(#lg2)"/>
<use href="#lf3" transform="translate(1736.2,937.9) rotate(-108) scale(10.8,13.0)" fill="url(#lg2)"/>
<use href="#lf1" transform="translate(1742.0,924.7) rotate(88) scale(9.9,10.9)" fill="url(#lg2)"/>
<use href="#lf1" transform="translate(1740.1,939.3) rotate(81) scale(9.1,10.9)" fill="url(#lg3)"/>
<use href="#lf2" transform="translate(1739.8,954.4) rotate(113) scale(9.5,11.4)" fill="url(#lg1)"/>
<use href="#lf2" transform="translate(1696.1,938.5) rotate(-95) scale(10.4,11.6)" fill="url(#lg3)"/>
<use href="#lf3" transform="translate(1702.4,922.0) rotate(80) scale(9.2,10.9)" fill="url(#lg3)"/>
<use href="#lf3" transform="translate(1695.3,936.6) rotate(-63) scale(10.3,12.2)" fill="url(#lg2)"/>
<use href="#lf1" transform="translate(1697.8,922.6) rotate(-92) scale(9.1,10.4)" fill="url(#lg1)"/>
<use href="#lf1" transform="translate(1701.9,937.4) rotate(105) scale(9.7,11.5)" fill="url(#lg3)"/>
<use href="#lf2" transform="translate(1697.7,952.6) rotate(-86) scale(10.6,11.9)" fill="url(#lg3)"/>
<use href="#lf3" transform="translate(1694.4,924.2) rotate(-58) scale(9.6,12.8)" fill="url(#lg2)"/>
<use href="#lf3" transform="translate(1692.2,954.5) rotate(-97) scale(10.7,12.1)" fill="url(#lg2)"/>
<use href="#lf3" transform="translate(1701.7,954.5) rotate(134) scale(9.0,11.7)" fill="url(#lg3)"/>
<path d="M1978,1022L1943,943" stroke="#efd33c" stroke-width="33"/>
<path d="M1985.2,1018.8L1950.2,939.8" stroke="#cdbd2c" stroke-width="9.9"/>
<path d="M1972.6,1024.4L1937.6,945.4" stroke="#fbe85a" stroke-width="6.6"/>
<use href="#lf1" transform="translate(1962.0,988.8) rotate(175) scale(10.7,13.1)" fill="url(#lg2)"/>
<use href="#lf2" transform="translate(1945.3,985.3) rotate(-61) scale(8.9,10.3)" fill="url(#lg2)"/>
<use href="#lf2" transform="translate(1959.4,977.3) rotate(-33) scale(9.9,11.1)" fill="url(#lg1)"/>
<use href="#lf1" transform="translate(1975.6,974.3) rotate(117) scale(10.0,11.8)" fill="url(#lg4)"/>
<use href="#lf3" transform="translate(1961.2,980.5) rotate(167) scale(11.1,14.4)" fill="url(#lg3)"/>
<use href="#lf2" transform="translate(1973.3,972.7) rotate(7) scale(9.3,10.3)" fill="url(#lg2)"/>
<use href="#lf2" transform="translate(1944.2,989.8) rotate(179) scale(10.3,11.6)" fill="url(#lg1)"/>
<use href="#lf1" transform="translate(1949.1,992.4) rotate(154) scale(9.7,10.9)" fill="url(#lg3)"/>
<use href="#lf3" transform="translate(1976.4,980.4) rotate(116) scale(9.0,11.0)" fill="url(#lg3)"/>
<use href="#lf3" transform="translate(1945.0,949.5) rotate(170) scale(11.0,12.5)" fill="url(#lg4)"/>
<use href="#lf3" transform="translate(1926.7,949.4) rotate(-37) scale(9.3,11.5)" fill="url(#lg3)"/>
<use href="#lf1" transform="translate(1962.0,941.4) rotate(144) scale(9.1,12.2)" fill="url(#lg3)"/>
<use href="#lf3" transform="translate(1929.9,953.3) rotate(180) scale(10.6,12.4)" fill="url(#lg2)"/>
<use href="#lf3" transform="translate(1957.3,931.0) rotate(-10) scale(9.9,12.4)" fill="url(#lg3)"/>
<use href="#lf3" transform="translate(1942.1,936.9) rotate(-22) scale(9.3,12.4)" fill="url(#lg3)"/>
<use href="#lf2" transform="translate(1942.7,943.8) rotate(155) scale(10.3,11.7)" fill="url(#lg3)"/>
<use href="#lf2" transform="translate(1957.2,936.7) rotate(109) scale(9.4,10.9)" fill="url(#lg3)"/>
<use href="#lf3" transform="translate(1928.3,944.5) rotate(-56) scale(10.4,11.8)" fill="url(#lg2)"/>
<use href="#lf3" transform="translate(1966.5,1037.3) rotate(110) scale(11.8,11.8)" fill="url(#lg2)"/>
<use href="#lf3" transform="translate(1956.6,1040.8) rotate(319) scale(12.1,12.1)" fill="url(#lg4)"/>
<use href="#lf3" transform="translate(1995.3,1024.9) rotate(334) scale(12.6,12.6)" fill="url(#lg2)"/>
<use href="#lf2" transform="translate(1965.2,1036.0) rotate(47) scale(11.7,11.7)" fill="url(#lg4)"/>
<use href="#lf1" transform="translate(1975.6,1017.2) rotate(269) scale(11.6,11.6)" fill="url(#lg3)"/>
<use href="#lf3" transform="translate(1957.4,1025.8) rotate(332) scale(10.4,10.4)" fill="url(#lg2)"/>
<use href="#lf2" transform="translate(1999.2,1023.2) rotate(181) scale(12.0,12.0)" fill="url(#lg3)"/>
<use href="#lf2" transform="translate(1989.0,1012.7) rotate(316) scale(13.3,13.3)" fill="url(#lg2)"/>
<use href="#lf3" transform="translate(1996.6,1017.2) rotate(239) scale(11.3,11.3)" fill="url(#lg2)"/>
<use href="#lf3" transform="translate(1994.8,1014.0) rotate(7) scale(13.3,13.3)" fill="url(#lg1)"/>
<use href="#lf1" transform="translate(1991.6,1013.8) rotate(92) scale(11.7,11.7)" fill="url(#lg2)"/>
<use href="#lf3" transform="translate(1977.6,1020.9) rotate(51) scale(10.5,10.5)" fill="url(#lg3)"/>
<use href="#lf3" transform="translate(2002.6,1018.2) rotate(262) scale(13.9,13.9)" fill="url(#lg2)"/>
<use href="#lf2" transform="translate(2008.0,1012.7) rotate(278) scale(13.6,13.6)" fill="url(#lg2)"/>
<use href="#lf2" transform="translate(2007.4,1019.6) rotate(236) scale(13.5,13.5)" fill="url(#lg1)"/>
<use href="#lf1" transform="translate(1976.2,1026.4) rotate(33) scale(11.7,11.7)" fill="url(#lg3)"/>
<path d="M1688,1025L1698,938" stroke="#efd33c" stroke-width="33"/>
<path d="M1695.9,1025.9L1705.9,938.9" stroke="#cdbd2c" stroke-width="9.9"/>
<path d="M1682.1,1024.3L1692.1,937.3" stroke="#fbe85a" stroke-width="6.6"/>
<use href="#lf1" transform="translate(1709.7,982.0) rotate(23) scale(9.1,10.6)" fill="url(#lg3)"/>
<use href="#lf3" transform="translate(1676.3,978.0) rotate(-8) scale(10.6,14.2)" fill="url(#lg2)"/>
<use href="#lf2" transform="translate(1693.5,980.3) rotate(32) scale(9.2,10.3)" fill="url(#lg2)"/>
<use href="#lf3" transform="translate(1710.6,978.2) rotate(42) scale(9.3,12.4)" fill="url(#lg3)"/>
<use href="#lf1" transform="translate(1692.1,986.4) rotate(199) scale(9.8,11.6)" fill="url(#lg2)"/>
<use href="#lf2" transform="translate(1678.7,976.6) rotate(-32) scale(10.1,13.3)" fill="url(#lg3)"/>
<use href="#lf1" transform="translate(1693.0,976.2) rotate(-12) scale(10.0,13.4)" fill="url(#lg3)"/>
<use href="#lf1" transform="translate(1708.8,986.7) rotate(187) scale(10.8,14.2)" fill="url(#lg2)"/>
<use href="#lf2" transform="translate(1675.0,982.4) rotate(214) scale(10.3,11.5)" fill="url(#lg4)"/>
<use href="#lf2" transform="translate(1681.5,942.1) rotate(235) scale(11.1,14.4)" fill="url(#lg1)"/>
<use href="#lf3" transform="translate(1696.9,931.1) rotate(6) scale(9.8,12.9)" fill="url(#lg2)"/>
<use href="#lf2" transform="translate(1716.2,935.1) rotate(54) scale(9.7,11.4)" fill="url(#lg1)"/>
<use href="#lf3" transform="translate(1714.4,945.8) rotate(144) scale(10.0,11.2)" fill="url(#lg2)"/>
<use href="#lf2" transform="translate(1683.9,937.7) rotate(215) scale(9.3,12.5)" fill="url(#lg4)"/>
<use href="#lf1" transform="translate(1697.7,939.8) rotate(-17) scale(11.1,13.9)" fill="url(#lg3)"/>
<use href="#lf2" transform="translate(1697.6,941.9) rotate(207) scale(9.2,10.2)" fill="url(#lg4)"/>
<use href="#lf2" transform="translate(1712.4,939.8) rotate(18) scale(11.0,14.6)" fill="url(#lg1)"/>
<use href="#lf2" transform="translate(1680.9,932.4) rotate(-23) scale(8.9,11.2)" fill="url(#lg2)"/>
<use href="#lf1" transform="translate(1678.6,1020.2) rotate(71) scale(12.2,12.2)" fill="url(#lg3)"/>
<use href="#lf2" transform="translate(1680.4,1017.9) rotate(305) scale(11.4,11.4)" fill="url(#lg3)"/>
<use href="#lf3" transform="translate(1690.5,1033.3) rotate(125) scale(12.0,12.0)" fill="url(#lg3)"/>
<use href="#lf2" transform="translate(1711.2,1028.5) rotate(120) scale(14.0,14.0)" fill="url(#lg1)"/>
<use href="#lf2" transform="translate(1685.5,1020.4) rotate(13) scale(13.9,13.9)" fill="url(#lg3)"/>
<use href="#lf1" transform="translate(1695.0,1022.2) rotate(191) scale(13.2,13.2)" fill="url(#lg3)"/>
<use href="#lf2" transform="translate(1712.4,1035.7) rotate(110) scale(11.7,11.7)" fill="url(#lg1)"/>
<use href="#lf3" transform="translate(1686.2,1022.4) rotate(312) scale(10.6,10.6)" fill="url(#lg3)"/>
<use href="#lf2" transform="translate(1666.9,1028.6) rotate(150) scale(12.8,12.8)" fill="url(#lg3)"/>
<use href="#lf1" transform="translate(1717.5,1032.0) rotate(60) scale(11.4,11.4)" fill="url(#lg2)"/>
<use href="#lf1" transform="translate(1683.4,1032.5) rotate(337) scale(11.1,11.1)" fill="url(#lg4)"/>
<use href="#lf1" transform="translate(1677.5,1025.2) rotate(147) scale(11.8,11.8)" fill="url(#lg1)"/>
<use href="#lf1" transform="translate(1679.2,1023.3) rotate(180) scale(11.5,11.5)" fill="url(#lg2)"/>
<use href="#lf2" transform="translate(1662.7,1027.9) rotate(121) scale(10.0,10.0)" fill="url(#lg1)"/>
<use href="#lf1" transform="translate(1695.5,1023.6) rotate(127) scale(11.0,11.0)" fill="url(#lg2)"/>
<use href="#lf3" transform="translate(1676.5,1017.6) rotate(39) scale(10.4,10.4)" fill="url(#lg2)"/>
<path d="M1698,938L1635,857" stroke="#efd33c" stroke-width="35"/>
<path d="M1704.6,932.8L1641.6,851.8" stroke="#cdbd2c" stroke-width="10.5"/>
<path d="M1693.0,941.9L1630.0,860.9" stroke="#fbe85a" stroke-width="7.0"/>
<use href="#lf1" transform="translate(1711.1,926.5) rotate(129) scale(11.1,13.2)" fill="url(#lg2)"/>
<use href="#lf2" transform="translate(1682.1,945.3) rotate(-51) scale(10.9,12.7)" fill="url(#lg1)"/>
<use href="#lf1" transform="translate(1694.6,931.1) rotate(-15) scale(10.8,14.4)" fill="url(#lg2)"/>
<use href="#lf2" transform="translate(1690.2,953.5) rotate(142) scale(10.3,11.6)" fill="url(#lg2)"/>
<use href="#lf1" transform="translate(1700.3,941.0) rotate(147) scale(10.1,13.0)" fill="url(#lg2)"/>
<use href="#lf1" transform="translate(1714.5,934.7) rotate(148) scale(9.8,11.1)" fill="url(#lg3)"/>
<use href="#lf3" transform="translate(1698.8,937.6) rotate(156) scale(9.5,11.7)" fill="url(#lg2)"/>
<use href="#lf2" transform="translate(1708.6,923.7) rotate(-40) scale(10.6,13.9)" fill="url(#lg3)"/>
<use href="#lf3" transform="translate(1684.2,946.9) rotate(-86) scale(10.6,13.9)" fill="url(#lg2)"/>
<use href="#lf3" transform="translate(1656.8,913.1) rotate(148) scale(11.2,14.5)" fill="url(#lg3)"/>
<use href="#lf2" transform="translate(1667.4,896.0) rotate(121) scale(9.7,11.4)" fill="url(#lg4)"/>
<use href="#lf2" transform="translate(1676.5,885.0) rotate(-26) scale(9.2,12.1)" fill="url(#lg1)"/>
<use href="#lf1" transform="translate(1682.2,887.8) rotate(106) scale(9.7,12.0)" fill="url(#lg1)"/>
<use href="#lf3" transform="translate(1668.6,903.1) rotate(141) scale(9.1,10.9)" fill="url(#lg1)"/>
<use href="#lf2" transform="translate(1661.7,894.6) rotate(-52) scale(10.4,12.4)" fill="url(#lg1)"/>
<use href="#lf3" transform="translate(1683.9,893.4) rotate(109) scale(10.0,12.2)" fill="url(#lg2)"/>
<use href="#lf2" transform="translate(1653.1,909.2) rotate(-58) scale(10.2,13.2)" fill="url(#lg2)"/>
<use href="#lf1" transform="translate(1651.2,903.8) rotate(-31) scale(10.6,13.4)" fill="url(#lg1)"/>
<use href="#lf3" transform="translate(1645.0,843.0) rotate(8) scale(10.2,11.7)" fill="url(#lg2)"/>
<use href="#lf3" transform="translate(1623.2,868.5) rotate(180) scale(10.3,11.6)" fill="url(#lg1)"/>
<use href="#lf3" transform="translate(1637.1,857.2) rotate(-30) scale(9.9,12.2)" fill="url(#lg4)"/>
<use href="#lf3" transform="translate(1625.8,872.3) rotate(136) scale(9.7,12.8)" fill="url(#lg2)"/>
<use href="#lf3" transform="translate(1616.2,863.1) rotate(-80) scale(10.9,14.4)" fill="url(#lg3)"/>
<use href="#lf3" transform="translate(1632.2,853.2) rotate(-21) scale(10.8,13.7)" fill="url(#lg4)"/>
<use href="#lf2" transform="translate(1637.7,863.1) rotate(122) scale(10.8,11.9)" fill="url(#lg2)"/>
<use href="#lf2" transform="translate(1647.4,847.7) rotate(114) scale(11.2,14.3)" fill="url(#lg3)"/>
<use href="#lf1" transform="translate(1653.0,849.7) rotate(133) scale(9.8,11.2)" fill="url(#lg1)"/>
<path d="M1635,857L1506,652" stroke="#efd33c" stroke-width="35"/>
<path d="M1642.1,852.5L1513.1,647.5" stroke="#cdbd2c" stroke-width="10.5"/>
<path d="M1629.7,860.4L1500.7,655.4" stroke="#fbe85a" stroke-width="7.0"/>
<use href="#lf1" transform="translate(1652.0,853.9) rotate(122) scale(10.0,11.3)" fill="url(#lg3)"/>
<use href="#lf2" transform="translate(1637.5,857.4) rotate(143) scale(9.7,10.7)" fill="url(#lg1)"/>
<use href="#lf1" transform="translate(1621.3,866.7) rotate(176) scale(10.6,12.2)" fill="url(#lg2)"/>
<use href="#lf1" transform="translate(1622.7,868.0) rotate(150) scale(11.0,14.8)" fill="url(#lg2)"/>
<use href="#lf1" transform="translate(1617.5,862.1) rotate(-67) scale(11.0,14.0)" fill="url(#lg3)"/>
<use href="#lf2" transform="translate(1635.9,859.8) rotate(133) scale(10.2,12.5)" fill="url(#lg3)"/>
<use href="#lf3" transform="translate(1649.3,845.7) rotate(-15) scale(10.7,12.6)" fill="url(#lg3)"/>
<use href="#lf3" transform="translate(1631.1,853.6) rotate(-32) scale(10.4,13.5)" fill="url(#lg4)"/>
<use href="#lf2" transform="translate(1646.4,845.1) rotate(-26) scale(9.3,11.4)" fill="url(#lg3)"/>
<use href="#lf2" transform="translate(1629.2,815.9) rotate(153) scale(10.8,12.2)" fill="url(#lg2)"/>
<use href="#lf2" transform="translate(1596.6,827.2) rotate(-33) scale(10.3,12.3)" fill="url(#lg2)"/>
<use href="#lf2" transform="translate(1628.0,812.5) rotate(127) scale(10.6,12.5)" fill="url(#lg2)"/>
<use href="#lf1" transform="translate(1623.7,809.7) rotate(-18) scale(9.2,12.0)" fill="url(#lg3)"/>
<use href="#lf3" transform="translate(1600.0,832.0) rotate(142) scale(10.4,13.0)" fill="url(#lg3)"/>
<use href="#lf3" transform="translate(1601.4,837.8) rotate(143) scale(10.3,13.4)" fill="url(#lg3)"/>
<use href="#lf3" transform="translate(1614.9,825.9) rotate(168) scale(11.3,12.4)" fill="url(#lg3)"/>
<use href="#lf3" transform="translate(1611.1,816.9) rotate(-12) scale(9.4,12.3)" fill="url(#lg2)"/>
<use href="#lf1" transform="translate(1613.0,824.0) rotate(-40) scale(9.8,10.8)" fill="url(#lg2)"/>
<use href="#lf2" transform="translate(1580.1,798.0) rotate(188) scale(10.2,13.1)" fill="url(#lg1)"/>
<use href="#lf3" transform="translate(1593.0,786.7) rotate(-29) scale(9.3,11.5)" fill="url(#lg3)"/>
<use href="#lf1" transform="translate(1581.0,799.8) rotate(146) scale(9.7,12.3)" fill="url(#lg3)"/>
<use href="#lf2" transform="translate(1606.7,778.0) rotate(110) scale(9.8,12.5)" fill="url(#lg4)"/>
<use href="#lf2" transform="translate(1576.9,793.4) rotate(-45) scale(9.2,11.4)" fill="url(#lg4)"/>
<use href="#lf1" transform="translate(1605.0,777.2) rotate(16) scale(9.1,11.1)" fill="url(#lg3)"/>
<use href="#lf3" transform="translate(1594.5,791.8) rotate(142) scale(10.7,13.8)" fill="url(#lg1)"/>
<use href="#lf1" transform="translate(1588.8,787.1) rotate(-27) scale(10.4,12.5)" fill="url(#lg3)"/>
<use href="#lf1" transform="translate(1609.5,783.4) rotate(143) scale(9.9,11.8)" fill="url(#lg3)"/>
<use href="#lf3" transform="translate(1585.2,749.6) rotate(133) scale(11.0,13.7)" fill="url(#lg2)"/>
<use href="#lf3" transform="translate(1585.5,747.0) rotate(116) scale(10.9,14.2)" fill="url(#lg2)"/>
<use href="#lf1" transform="translate(1557.1,765.9) rotate(150) scale(9.8,13.0)" fill="url(#lg1)"/>
<use href="#lf2" transform="translate(1568.1,750.3) rotate(-35) scale(9.7,12.4)" fill="url(#lg3)"/>
<use href="#lf2" transform="translate(1553.5,758.5) rotate(-41) scale(10.1,11.2)" fill="url(#lg3)"/>
<use href="#lf1" transform="translate(1557.4,764.3) rotate(164) scale(9.2,12.1)" fill="url(#lg3)"/>
<use href="#lf3" transform="translate(1584.2,741.0) rotate(-30) scale(9.7,11.0)" fill="url(#lg3)"/>
<use href="#lf1" transform="translate(1571.4,757.4) rotate(123) scale(9.3,12.4)" fill="url(#lg2)"/>
<use href="#lf2" transform="translate(1570.7,755.0) rotate(-13) scale(11.2,12.8)" fill="url(#lg1)"/>
<use href="#lf1" transform="translate(1564.8,710.4) rotate(131) scale(10.3,12.2)" fill="url(#lg3)"/>
<use href="#lf3" transform="translate(1533.6,729.4) rotate(-80) scale(10.0,13.3)" fill="url(#lg2)"/>
<use href="#lf1" transform="translate(1530.7,726.2) rotate(-57) scale(10.0,11.9)" fill="url(#lg2)"/>
<use href="#lf3" transform="translate(1536.6,734.2) rotate(142) scale(10.9,14.4)" fill="url(#lg3)"/>
<use href="#lf2" transform="translate(1562.3,707.7) rotate(8) scale(11.3,14.7)" fill="url(#lg1)"/>
<use href="#lf3" transform="translate(1553.6,724.9) rotate(167) scale(10.3,13.6)" fill="url(#lg4)"/>
<use href="#lf3" transform="translate(1547.1,720.7) rotate(-60) scale(11.2,14.3)" fill="url(#lg1)"/>
<use href="#lf3" transform="translate(1545.7,717.0) rotate(-23) scale(11.2,15.0)" fill="url(#lg3)"/>
<use href="#lf1" transform="translate(1564.7,716.8) rotate(129) scale(10.0,13.3)" fill="url(#lg2)"/>
<use href="#lf2" transform="translate(1526.8,683.0) rotate(-47) scale(9.2,12.0)" fill="url(#lg4)"/>
<use href="#lf2" transform="translate(1538.4,672.2) rotate(-9) scale(11.0,12.4)" fill="url(#lg3)"/>
<use href="#lf3" transform="translate(1515.0,697.4) rotate(191) scale(10.7,12.3)" fill="url(#lg1)"/>
<use href="#lf3" transform="translate(1526.9,686.4) rotate(154) scale(10.1,12.7)" fill="url(#lg3)"/>
<use href="#lf2" transform="translate(1511.3,694.4) rotate(-39) scale(10.1,11.7)" fill="url(#lg2)"/>
<use href="#lf3" transform="translate(1531.7,689.1) rotate(162) scale(10.0,12.8)" fill="url(#lg4)"/>
<use href="#lf1" transform="translate(1544.4,680.0) rotate(110) scale(10.9,12.7)" fill="url(#lg2)"/>
<use href="#lf3" transform="translate(1512.1,690.2) rotate(-67) scale(9.9,12.2)" fill="url(#lg4)"/>
<use href="#lf3" transform="translate(1540.5,677.0) rotate(107) scale(10.8,13.4)" fill="url(#lg1)"/>
<use href="#lf2" transform="translate(1510.4,656.1) rotate(128) scale(11.1,13.3)" fill="url(#lg1)"/>
<use href="#lf2" transform="translate(1495.4,665.1) rotate(156) scale(9.1,10.7)" fill="url(#lg3)"/>
<use href="#lf2" transform="translate(1516.2,639.4) rotate(-15) scale(9.3,10.5)" fill="url(#lg3)"/>
<use href="#lf2" transform="translate(1490.4,656.7) rotate(-78) scale(9.9,11.3)" fill="url(#lg3)"/>
<use href="#lf2" transform="translate(1505.2,654.4) rotate(144) scale(9.5,12.0)" fill="url(#lg3)"/>
<use href="#lf1" transform="translate(1520.7,643.7) rotate(143) scale(10.5,11.8)" fill="url(#lg4)"/>
<use href="#lf1" transform="translate(1503.9,650.4) rotate(-7) scale(9.4,12.4)" fill="url(#lg2)"/>
<use href="#lf2" transform="translate(1493.2,660.6) rotate(-77) scale(10.5,12.7)" fill="url(#lg3)"/>
<use href="#lf1" transform="translate(1522.7,648.8) rotate(126) scale(9.2,11.5)" fill="url(#lg4)"/>
<path d="M1565,915L1635,857" stroke="#efd33c" stroke-width="35"/>
<path d="M1570.4,921.5L1640.4,863.5" stroke="#cdbd2c" stroke-width="10.5"/>
<path d="M1561.0,910.1L1631.0,852.1" stroke="#fbe85a" stroke-width="7.0"/>
<use href="#lf1" transform="translate(1595.5,889.8) rotate(237) scale(11.0,12.9)" fill="url(#lg2)"/>
<use href="#lf1" transform="translate(1604.1,883.8) rotate(49) scale(10.8,14.0)" fill="url(#lg2)"/>
<use href="#lf2" transform="translate(1587.1,872.4) rotate(23) scale(9.1,12.2)" fill="url(#lg3)"/>
<use href="#lf2" transform="translate(1599.3,884.0) rotate(48) scale(10.8,12.2)" fill="url(#lg2)"/>
<use href="#lf2" transform="translate(1611.5,899.9) rotate(72) scale(10.3,12.2)" fill="url(#lg3)"/>
<use href="#lf1" transform="translate(1613.3,897.2) rotate(67) scale(11.4,13.1)" fill="url(#lg2)"/>
<use href="#lf1" transform="translate(1606.2,903.1) rotate(183) scale(10.1,11.2)" fill="url(#lg1)"/>
<use href="#lf2" transform="translate(1593.4,869.8) rotate(50) scale(11.4,15.1)" fill="url(#lg2)"/>
<use href="#lf2" transform="translate(1585.8,875.6) rotate(244) scale(10.8,14.1)" fill="url(#lg2)"/>
<use href="#lf1" transform="translate(1621.3,846.9) rotate(235) scale(10.5,12.6)" fill="url(#lg2)"/>
<use href="#lf1" transform="translate(1643.0,873.4) rotate(191) scale(9.8,11.1)" fill="url(#lg3)"/>
<use href="#lf2" transform="translate(1624.7,842.6) rotate(4) scale(10.1,11.4)" fill="url(#lg2)"/>
<use href="#lf1" transform="translate(1644.1,870.0) rotate(208) scale(10.0,11.6)" fill="url(#lg2)"/>
<use href="#lf3" transform="translate(1632.5,856.9) rotate(37) scale(10.1,11.5)" fill="url(#lg2)"/>
<use href="#lf1" transform="translate(1628.3,840.8) rotate(7) scale(9.3,11.1)" fill="url(#lg3)"/>
<use href="#lf2" transform="translate(1651.0,866.4) rotate(83) scale(9.1,11.7)" fill="url(#lg3)"/>
<use href="#lf2" transform="translate(1633.2,859.6) rotate(204) scale(9.1,10.7)" fill="url(#lg2)"/>
<use href="#lf1" transform="translate(1637.1,854.7) rotate(54) scale(9.8,11.4)" fill="url(#lg4)"/>
<use href="#lf1" transform="translate(1551.8,906.7) rotate(185) scale(12.0,12.0)" fill="url(#lg2)"/>
<use href="#lf3" transform="translate(1548.2,906.3) rotate(207) scale(10.0,10.0)" fill="url(#lg4)"/>
<use href="#lf1" transform="translate(1542.2,892.1) rotate(206) scale(12.5,12.5)" fill="url(#lg1)"/>
<use href="#lf1" transform="translate(1577.1,928.6) rotate(120) scale(11.1,11.1)" fill="url(#lg4)"/>
<use href="#lf2" transform="translate(1545.3,898.8) rotate(21) scale(12.5,12.5)" fill="url(#lg3)"/>
<use href="#lf1" transform="translate(1559.8,910.6) rotate(264) scale(11.9,11.9)" fill="url(#lg4)"/>
<use href="#lf3" transform="translate(1579.9,930.5) rotate(58) scale(11.9,11.9)" fill="url(#lg3)"/>
<use href="#lf1" transform="translate(1572.1,917.8) rotate(217) scale(10.5,10.5)" fill="url(#lg4)"/>
<use href="#lf2" transform="translate(1581.1,931.4) rotate(56) scale(12.2,12.2)" fill="url(#lg3)"/>
<use href="#lf2" transform="translate(1554.3,897.8) rotate(291) scale(11.7,11.7)" fill="url(#lg3)"/>
<use href="#lf1" transform="translate(1574.4,939.3) rotate(44) scale(10.8,10.8)" fill="url(#lg4)"/>
<use href="#lf3" transform="translate(1569.3,911.4) rotate(152) scale(10.5,10.5)" fill="url(#lg3)"/>
<use href="#lf2" transform="translate(1555.2,896.0) rotate(131) scale(12.7,12.7)" fill="url(#lg4)"/>
<use href="#lf3" transform="translate(1575.5,927.1) rotate(339) scale(10.8,10.8)" fill="url(#lg2)"/>
<use href="#lf3" transform="translate(1572.5,925.4) rotate(237) scale(11.4,11.4)" fill="url(#lg4)"/>
<use href="#lf2" transform="translate(1548.4,897.1) rotate(29) scale(12.8,12.8)" fill="url(#lg4)"/>
<path d="M1457,614L1540,628" stroke="#efd33c" stroke-width="33"/>
<path d="M1455.7,621.8L1538.7,635.8" stroke="#cdbd2c" stroke-width="9.9"/>
<path d="M1458.0,608.1L1541.0,622.1" stroke="#fbe85a" stroke-width="6.6"/>
<use href="#lf3" transform="translate(1495.6,604.1) rotate(328) scale(9.9,11.8)" fill="url(#lg1)"/>
<use href="#lf3" transform="translate(1503.3,621.9) rotate(127) scale(9.8,12.8)" fill="url(#lg4)"/>
<use href="#lf2" transform="translate(1502.0,607.2) rotate(61) scale(8.9,9.8)" fill="url(#lg2)"/>
<use href="#lf3" transform="translate(1496.1,618.7) rotate(307) scale(9.6,12.0)" fill="url(#lg3)"/>
<use href="#lf3" transform="translate(1495.6,637.5) rotate(254) scale(10.8,13.0)" fill="url(#lg3)"/>
<use href="#lf1" transform="translate(1499.3,636.5) rotate(93) scale(9.3,12.5)" fill="url(#lg2)"/>
<use href="#lf1" transform="translate(1493.0,634.4) rotate(279) scale(10.9,14.5)" fill="url(#lg2)"/>
<use href="#lf3" transform="translate(1507.4,605.3) rotate(86) scale(9.5,11.3)" fill="url(#lg3)"/>
<use href="#lf1" transform="translate(1497.4,621.3) rotate(79) scale(10.7,14.5)" fill="url(#lg4)"/>
<use href="#lf1" transform="translate(1541.1,644.9) rotate(135) scale(8.9,10.5)" fill="url(#lg3)"/>
<use href="#lf1" transform="translate(1541.5,610.3) rotate(67) scale(9.2,12.4)" fill="url(#lg4)"/>
<use href="#lf3" transform="translate(1533.1,642.2) rotate(280) scale(10.4,12.6)" fill="url(#lg3)"/>
<use href="#lf2" transform="translate(1536.4,609.6) rotate(318) scale(10.1,11.8)" fill="url(#lg3)"/>
<use href="#lf1" transform="translate(1536.0,644.6) rotate(122) scale(8.9,11.2)" fill="url(#lg4)"/>
<use href="#lf3" transform="translate(1545.7,626.9) rotate(69) scale(9.4,10.8)" fill="url(#lg2)"/>
<use href="#lf1" transform="translate(1546.1,610.9) rotate(74) scale(9.3,12.4)" fill="url(#lg1)"/>
<use href="#lf1" transform="translate(1535.4,626.1) rotate(273) scale(10.2,13.7)" fill="url(#lg3)"/>
<use href="#lf1" transform="translate(1541.3,630.0) rotate(83) scale(9.7,12.4)" fill="url(#lg3)"/>
<use href="#lf3" transform="translate(1451.3,633.6) rotate(124) scale(10.5,10.5)" fill="url(#lg3)"/>
<use href="#lf3" transform="translate(1460.4,620.8) rotate(242) scale(11.9,11.9)" fill="url(#lg3)"/>
<use href="#lf1" transform="translate(1468.7,585.5) rotate(188) scale(13.8,13.8)" fill="url(#lg3)"/>
<use href="#lf1" transform="translate(1461.2,623.6) rotate(92) scale(11.8,11.8)" fill="url(#lg3)"/>
<use href="#lf1" transform="translate(1455.3,598.8) rotate(52) scale(13.6,13.6)" fill="url(#lg3)"/>
<use href="#lf1" transform="translate(1461.3,614.9) rotate(113) scale(13.1,13.1)" fill="url(#lg4)"/>
<use href="#lf3" transform="translate(1453.4,628.8) rotate(90) scale(12.9,12.9)" fill="url(#lg1)"/>
<use href="#lf3" transform="translate(1456.8,597.7) rotate(176) scale(12.8,12.8)" fill="url(#lg2)"/>
<use href="#lf1" transform="translate(1452.6,593.4) rotate(82) scale(10.9,10.9)" fill="url(#lg2)"/>
<use href="#lf2" transform="translate(1452.8,585.3) rotate(0) scale(13.0,13.0)" fill="url(#lg2)"/>
<use href="#lf1" transform="translate(1456.9,582.7) rotate(202) scale(11.2,11.2)" fill="url(#lg3)"/>
<use href="#lf2" transform="translate(1455.4,614.6) rotate(248) scale(11.4,11.4)" fill="url(#lg1)"/>
<use href="#lf1" transform="translate(1457.3,629.2) rotate(325) scale(12.5,12.5)" fill="url(#lg2)"/>
<use href="#lf2" transform="translate(1449.7,638.0) rotate(308) scale(11.7,11.7)" fill="url(#lg3)"/>
<use href="#lf2" transform="translate(1455.1,632.2) rotate(100) scale(13.3,13.3)" fill="url(#lg2)"/>
<use href="#lf3" transform="translate(1454.0,583.9) rotate(298) scale(10.7,10.7)" fill="url(#lg3)"/>
<path d="M1428,666L1506,652" stroke="#efd33c" stroke-width="35"/>
<path d="M1429.5,674.3L1507.5,660.3" stroke="#cdbd2c" stroke-width="10.5"/>
<path d="M1426.9,659.8L1504.9,645.8" stroke="#fbe85a" stroke-width="7.0"/>
<use href="#lf1" transform="translate(1462.3,643.4) rotate(47) scale(9.4,11.2)" fill="url(#lg3)"/>
<use href="#lf3" transform="translate(1470.8,675.4) rotate(77) scale(10.7,12.8)" fill="url(#lg3)"/>
<use href="#lf2" transform="translate(1460.8,644.6) rotate(279) scale(11.1,12.9)" fill="url(#lg1)"/>
<use href="#lf3" transform="translate(1464.3,675.5) rotate(261) scale(11.0,13.4)" fill="url(#lg1)"/>
<use href="#lf2" transform="translate(1472.5,659.4) rotate(61) scale(9.5,11.0)" fill="url(#lg2)"/>
<use href="#lf3" transform="translate(1466.8,659.2) rotate(259) scale(10.4,13.1)" fill="url(#lg3)"/>
<use href="#lf2" transform="translate(1473.8,676.9) rotate(82) scale(10.3,11.5)" fill="url(#lg3)"/>
<use href="#lf2" transform="translate(1468.7,642.3) rotate(61) scale(9.1,12.2)" fill="url(#lg3)"/>
<use href="#lf3" transform="translate(1461.2,658.4) rotate(283) scale(11.3,13.3)" fill="url(#lg3)"/>
<use href="#lf3" transform="translate(1509.1,635.9) rotate(65) scale(10.4,13.3)" fill="url(#lg3)"/>
<use href="#lf3" transform="translate(1501.5,650.8) rotate(248) scale(10.4,12.2)" fill="url(#lg1)"/>
<use href="#lf1" transform="translate(1504.3,636.0) rotate(273) scale(10.9,13.5)" fill="url(#lg2)"/>
<use href="#lf2" transform="translate(1509.2,668.0) rotate(106) scale(11.1,13.8)" fill="url(#lg2)"/>
<use href="#lf1" transform="translate(1509.3,651.9) rotate(104) scale(10.7,12.6)" fill="url(#lg4)"/>
<use href="#lf3" transform="translate(1505.4,668.0) rotate(255) scale(10.9,13.0)" fill="url(#lg1)"/>
<use href="#lf2" transform="translate(1505.5,650.6) rotate(269) scale(10.2,11.6)" fill="url(#lg3)"/>
<use href="#lf2" transform="translate(1514.6,667.2) rotate(87) scale(11.1,14.9)" fill="url(#lg3)"/>
<use href="#lf1" transform="translate(1497.2,635.3) rotate(264) scale(10.6,13.9)" fill="url(#lg2)"/>
<use href="#lf1" transform="translate(1429.6,637.3) rotate(158) scale(13.0,13.0)" fill="url(#lg2)"/>
<use href="#lf2" transform="translate(1420.9,641.4) rotate(200) scale(13.0,13.0)" fill="url(#lg2)"/>
<use href="#lf1" transform="translate(1421.5,675.8) rotate(31) scale(12.0,12.0)" fill="url(#lg2)"/>
<use href="#lf2" transform="translate(1418.2,658.4) rotate(171) scale(13.2,13.2)" fill="url(#lg3)"/>
<use href="#lf2" transform="translate(1425.8,670.7) rotate(296) scale(10.5,10.5)" fill="url(#lg2)"/>
<use href="#lf2" transform="translate(1435.7,670.4) rotate(240) scale(12.0,12.0)" fill="url(#lg2)"/>
<use href="#lf3" transform="translate(1425.6,695.8) rotate(209) scale(11.9,11.9)" fill="url(#lg4)"/>
<use href="#lf1" transform="translate(1424.8,689.1) rotate(21) scale(12.6,12.6)" fill="url(#lg4)"/>
<use href="#lf2" transform="translate(1420.7,639.1) rotate(23) scale(10.8,10.8)" fill="url(#lg2)"/>
<use href="#lf2" transform="translate(1430.2,649.9) rotate(350) scale(10.3,10.3)" fill="url(#lg2)"/>
<use href="#lf2" transform="translate(1423.8,678.0) rotate(176) scale(12.7,12.7)" fill="url(#lg3)"/>
<use href="#lf3" transform="translate(1429.8,673.2) rotate(113) scale(13.3,13.3)" fill="url(#lg2)"/>
<use href="#lf2" transform="translate(1421.2,680.1) rotate(168) scale(11.0,11.0)" fill="url(#lg2)"/>
<use href="#lf2" transform="translate(1424.8,638.2) rotate(279) scale(13.8,13.8)" fill="url(#lg1)"/>
<use href="#lf3" transform="translate(1434.1,694.1) rotate(168) scale(12.1,12.1)" fill="url(#lg1)"/>
<use href="#lf3" transform="translate(1430.4,695.9) rotate(193) scale(11.7,11.7)" fill="url(#lg2)"/>
<path d="M1506,652L1540,628" stroke="#efd33c" stroke-width="35"/>
<path d="M1510.8,658.9L1544.8,634.9" stroke="#cdbd2c" stroke-width="10.5"/>
<path d="M1502.4,646.9L1536.4,622.9" stroke="#fbe85a" stroke-width="7.0"/>
<use href="#lf2" transform="translate(1509.6,647.5) rotate(45) scale(9.3,11.6)" fill="url(#lg1)"/>
<use href="#lf1" transform="translate(1513.8,668.6) rotate(238) scale(9.3,11.2)" fill="url(#lg3)"/>
<use href="#lf3" transform="translate(1506.5,653.1) rotate(252) scale(10.0,13.0)" fill="url(#lg2)"/>
<use href="#lf3" transform="translate(1500.3,635.1) rotate(29) scale(9.7,12.9)" fill="url(#lg3)"/>
<use href="#lf3" transform="translate(1497.1,638.3) rotate(252) scale(10.6,12.3)" fill="url(#lg4)"/>
<use href="#lf3" transform="translate(1521.4,663.1) rotate(87) scale(11.3,14.2)" fill="url(#lg1)"/>
<use href="#lf3" transform="translate(1502.0,654.0) rotate(236) scale(10.2,12.9)" fill="url(#lg1)"/>
<use href="#lf3" transform="translate(1490.5,640.3) rotate(246) scale(11.0,12.9)" fill="url(#lg3)"/>
<use href="#lf3" transform="translate(1514.5,667.5) rotate(86) scale(11.4,14.2)" fill="url(#lg2)"/>
<use href="#lf1" transform="translate(1552.9,640.4) rotate(67) scale(10.3,13.8)" fill="url(#lg3)"/>
<use href="#lf2" transform="translate(1536.6,631.7) rotate(208) scale(10.7,12.4)" fill="url(#lg3)"/>
<use href="#lf2" transform="translate(1527.3,614.8) rotate(241) scale(11.1,14.7)" fill="url(#lg4)"/>
<use href="#lf3" transform="translate(1546.4,645.3) rotate(189) scale(11.3,13.5)" fill="url(#lg2)"/>
<use href="#lf3" transform="translate(1532.1,614.4) rotate(27) scale(11.1,12.3)" fill="url(#lg3)"/>
<use href="#lf1" transform="translate(1532.6,611.9) rotate(19) scale(10.6,12.7)" fill="url(#lg3)"/>
<use href="#lf1" transform="translate(1543.9,627.4) rotate(55) scale(11.1,13.1)" fill="url(#lg2)"/>
<use href="#lf3" transform="translate(1538.9,627.3) rotate(38) scale(11.0,14.8)" fill="url(#lg2)"/>
<use href="#lf1" transform="translate(1550.3,643.5) rotate(236) scale(10.1,13.6)" fill="url(#lg4)"/>
<path d="M1635,857L1797,808" stroke="#efd33c" stroke-width="38"/>
<path d="M1637.6,865.7L1799.6,816.7" stroke="#cdbd2c" stroke-width="11.4"/>
<path d="M1633.0,850.5L1795.0,801.5" stroke="#fbe85a" stroke-width="7.6"/>
<use href="#lf3" transform="translate(1624.9,842.5) rotate(271) scale(10.2,12.6)" fill="url(#lg2)"/>
<use href="#lf1" transform="translate(1631.5,838.7) rotate(25) scale(10.1,11.5)" fill="url(#lg3)"/>
<use href="#lf2" transform="translate(1635.2,876.8) rotate(221) scale(9.6,11.0)" fill="url(#lg1)"/>
<use href="#lf2" transform="translate(1635.8,864.6) rotate(81) scale(11.6,14.9)" fill="url(#lg2)"/>
<use href="#lf1" transform="translate(1643.9,872.8) rotate(109) scale(11.2,14.6)" fill="url(#lg1)"/>
<use href="#lf1" transform="translate(1633.1,836.4) rotate(25) scale(11.1,13.5)" fill="url(#lg2)"/>
<use href="#lf1" transform="translate(1641.9,862.0) rotate(62) scale(10.9,13.6)" fill="url(#lg3)"/>
<use href="#lf3" transform="translate(1636.9,850.6) rotate(73) scale(9.9,11.5)" fill="url(#lg2)"/>
<use href="#lf2" transform="translate(1639.9,874.2) rotate(106) scale(9.9,13.2)" fill="url(#lg1)"/>
<use href="#lf2" transform="translate(1632.5,862.3) rotate(228) scale(11.4,15.2)" fill="url(#lg2)"/>
<use href="#lf2" transform="translate(1626.6,852.1) rotate(238) scale(11.3,15.0)" fill="url(#lg3)"/>
<use href="#lf3" transform="translate(1632.0,852.3) rotate(49) scale(11.6,14.8)" fill="url(#lg3)"/>
<use href="#lf2" transform="translate(1670.1,838.3) rotate(250) scale(10.5,12.3)" fill="url(#lg4)"/>
<use href="#lf1" transform="translate(1678.8,839.0) rotate(79) scale(11.3,13.4)" fill="url(#lg3)"/>
<use href="#lf2" transform="translate(1682.3,849.3) rotate(94) scale(9.7,13.0)" fill="url(#lg4)"/>
<use href="#lf1" transform="translate(1672.1,838.1) rotate(79) scale(11.0,13.4)" fill="url(#lg1)"/>
<use href="#lf3" transform="translate(1675.2,865.6) rotate(214) scale(11.7,14.2)" fill="url(#lg2)"/>
<use href="#lf3" transform="translate(1678.9,850.8) rotate(56) scale(11.6,15.6)" fill="url(#lg3)"/>
<use href="#lf2" transform="translate(1665.1,828.8) rotate(268) scale(9.9,12.3)" fill="url(#lg4)"/>
<use href="#lf1" transform="translate(1671.1,852.7) rotate(224) scale(11.2,12.7)" fill="url(#lg3)"/>
<use href="#lf1" transform="translate(1670.8,826.2) rotate(32) scale(11.2,12.8)" fill="url(#lg2)"/>
<use href="#lf3" transform="translate(1675.0,824.4) rotate(30) scale(10.3,13.5)" fill="url(#lg4)"/>
<use href="#lf3" transform="translate(1679.7,862.1) rotate(225) scale(11.5,13.5)" fill="url(#lg3)"/>
<use href="#lf3" transform="translate(1685.6,860.2) rotate(89) scale(11.3,14.0)" fill="url(#lg2)"/>
<use href="#lf1" transform="translate(1723.9,848.5) rotate(90) scale(11.6,12.9)" fill="url(#lg1)"/>
<use href="#lf2" transform="translate(1713.8,814.8) rotate(61) scale(10.9,14.5)" fill="url(#lg2)"/>
<use href="#lf2" transform="translate(1710.7,825.9) rotate(244) scale(10.6,13.1)" fill="url(#lg2)"/>
<use href="#lf3" transform="translate(1717.7,837.0) rotate(82) scale(10.7,13.9)" fill="url(#lg3)"/>
<use href="#lf2" transform="translate(1712.3,839.7) rotate(241) scale(11.4,13.2)" fill="url(#lg1)"/>
<use href="#lf3" transform="translate(1710.6,812.8) rotate(54) scale(10.6,12.7)" fill="url(#lg1)"/>
<use href="#lf1" transform="translate(1720.1,824.4) rotate(52) scale(10.4,13.0)" fill="url(#lg2)"/>
<use href="#lf3" transform="translate(1707.5,816.8) rotate(270) scale(10.2,11.7)" fill="url(#lg3)"/>
<use href="#lf2" transform="translate(1717.7,852.5) rotate(218) scale(10.7,12.9)" fill="url(#lg3)"/>
<use href="#lf1" transform="translate(1720.3,836.9) rotate(87) scale(10.4,13.3)" fill="url(#lg3)"/>
<use href="#lf3" transform="translate(1715.4,825.4) rotate(42) scale(10.0,12.7)" fill="url(#lg2)"/>
<use href="#lf2" transform="translate(1723.0,850.4) rotate(70) scale(10.7,12.9)" fill="url(#lg2)"/>
<use href="#lf2" transform="translate(1755.5,839.1) rotate(248) scale(11.0,14.2)" fill="url(#lg3)"/>
<use href="#lf3" transform="translate(1759.2,825.6) rotate(75) scale(11.3,14.0)" fill="url(#lg4)"/>
<use href="#lf1" transform="translate(1764.0,835.6) rotate(120) scale(9.5,11.2)" fill="url(#lg4)"/>
<use href="#lf3" transform="translate(1764.9,825.0) rotate(81) scale(9.7,11.5)" fill="url(#lg1)"/>
<use href="#lf3" transform="translate(1761.0,836.2) rotate(66) scale(10.9,14.6)" fill="url(#lg1)"/>
<use href="#lf1" transform="translate(1759.4,810.9) rotate(59) scale(11.7,13.9)" fill="url(#lg2)"/>
<use href="#lf2" transform="translate(1755.6,814.6) rotate(260) scale(10.8,12.5)" fill="url(#lg2)"/>
<use href="#lf3" transform="translate(1745.1,802.9) rotate(271) scale(11.2,13.2)" fill="url(#lg4)"/>
<use href="#lf1" transform="translate(1751.2,816.9) rotate(274) scale(11.8,15.1)" fill="url(#lg3)"/>
<use href="#lf2" transform="translate(1752.1,827.6) rotate(250) scale(11.2,13.8)" fill="url(#lg3)"/>
<use href="#lf3" transform="translate(1756.5,801.3) rotate(40) scale(11.3,13.9)" fill="url(#lg4)"/>
<use href="#lf2" transform="translate(1752.5,804.2) rotate(74) scale(10.8,12.9)" fill="url(#lg2)"/>
<use href="#lf1" transform="translate(1797.5,826.4) rotate(245) scale(10.1,11.3)" fill="url(#lg1)"/>
<use href="#lf3" transform="translate(1806.5,825.9) rotate(72) scale(11.7,15.6)" fill="url(#lg4)"/>
<use href="#lf2" transform="translate(1798.8,812.7) rotate(52) scale(10.4,12.7)" fill="url(#lg3)"/>
<use href="#lf1" transform="translate(1803.1,826.0) rotate(73) scale(10.2,12.6)" fill="url(#lg4)"/>
<use href="#lf1" transform="translate(1786.4,791.5) rotate(285) scale(11.5,14.8)" fill="url(#lg2)"/>
<use href="#lf1" transform="translate(1791.0,803.5) rotate(271) scale(9.5,10.9)" fill="url(#lg1)"/>
<use href="#lf3" transform="translate(1791.0,788.7) rotate(287) scale(11.4,15.2)" fill="url(#lg3)"/>
<use href="#lf3" transform="translate(1799.2,800.0) rotate(82) scale(10.2,12.6)" fill="url(#lg3)"/>
<use href="#lf3" transform="translate(1794.8,790.6) rotate(26) scale(11.2,14.1)" fill="url(#lg3)"/>
<use href="#lf2" transform="translate(1796.1,802.9) rotate(283) scale(10.7,12.1)" fill="url(#lg3)"/>
<use href="#lf2" transform="translate(1803.7,813.7) rotate(73) scale(11.3,14.6)" fill="url(#lg1)"/>
<use href="#lf3" transform="translate(1792.5,815.4) rotate(233) scale(9.7,12.7)" fill="url(#lg3)"/>
<path d="M1797,808L1984,858" stroke="#efd33c" stroke-width="38"/>
<path d="M1794.6,816.8L1981.6,866.8" stroke="#cdbd2c" stroke-width="11.4"/>
<path d="M1798.8,801.4L1985.8,851.4" stroke="#fbe85a" stroke-width="7.6"/>
<use href="#lf2" transform="translate(1799.6,813.7) rotate(101) scale(11.2,12.9)" fill="url(#lg3)"/>
<use href="#lf2" transform="translate(1797.5,801.4) rotate(311) scale(10.2,12.5)" fill="url(#lg3)"/>
<use href="#lf1" transform="translate(1791.8,824.5) rotate(128) scale(11.5,14.4)" fill="url(#lg2)"/>
<use href="#lf3" transform="translate(1798.4,826.7) rotate(143) scale(10.5,12.0)" fill="url(#lg3)"/>
<use href="#lf3" transform="translate(1790.8,812.7) rotate(301) scale(11.9,13.6)" fill="url(#lg2)"/>
<use href="#lf2" transform="translate(1795.0,789.3) rotate(294) scale(10.9,13.2)" fill="url(#lg4)"/>
<use href="#lf1" transform="translate(1802.9,801.9) rotate(96) scale(11.0,13.5)" fill="url(#lg2)"/>
<use href="#lf1" transform="translate(1795.3,814.1) rotate(97) scale(9.7,11.9)" fill="url(#lg1)"/>
<use href="#lf3" transform="translate(1793.9,799.5) rotate(276) scale(9.9,11.3)" fill="url(#lg2)"/>
<use href="#lf1" transform="translate(1808.4,792.3) rotate(85) scale(9.7,11.9)" fill="url(#lg2)"/>
<use href="#lf3" transform="translate(1799.7,791.0) rotate(329) scale(11.2,12.7)" fill="url(#lg2)"/>
<use href="#lf1" transform="translate(1789.0,824.5) rotate(278) scale(9.8,10.8)" fill="url(#lg3)"/>
<use href="#lf2" transform="translate(1846.4,814.3) rotate(119) scale(11.3,13.0)" fill="url(#lg4)"/>
<use href="#lf3" transform="translate(1839.8,840.4) rotate(251) scale(11.6,14.7)" fill="url(#lg2)"/>
<use href="#lf2" transform="translate(1842.9,838.8) rotate(101) scale(10.0,11.8)" fill="url(#lg2)"/>
<use href="#lf3" transform="translate(1845.1,800.1) rotate(319) scale(9.7,12.1)" fill="url(#lg2)"/>
<use href="#lf3" transform="translate(1849.0,803.9) rotate(98) scale(11.0,14.1)" fill="url(#lg3)"/>
<use href="#lf3" transform="translate(1840.5,812.0) rotate(311) scale(10.5,13.5)" fill="url(#lg1)"/>
<use href="#lf3" transform="translate(1841.3,826.7) rotate(280) scale(11.3,14.6)" fill="url(#lg3)"/>
<use href="#lf1" transform="translate(1853.0,805.2) rotate(87) scale(11.0,13.6)" fill="url(#lg2)"/>
<use href="#lf3" transform="translate(1846.3,826.1) rotate(101) scale(11.4,13.3)" fill="url(#lg3)"/>
<use href="#lf2" transform="translate(1850.8,817.8) rotate(125) scale(11.5,13.7)" fill="url(#lg2)"/>
<use href="#lf1" transform="translate(1835.4,826.1) rotate(266) scale(9.5,10.5)" fill="url(#lg3)"/>
<use href="#lf2" transform="translate(1835.2,836.1) rotate(256) scale(10.4,13.1)" fill="url(#lg2)"/>
<use href="#lf3" transform="translate(1901.3,815.1) rotate(57) scale(10.1,12.6)" fill="url(#lg3)"/>
<use href="#lf3" transform="translate(1885.8,823.7) rotate(313) scale(10.7,12.5)" fill="url(#lg4)"/>
<use href="#lf1" transform="translate(1894.6,841.6) rotate(92) scale(10.2,12.2)" fill="url(#lg3)"/>
<use href="#lf1" transform="translate(1891.4,814.8) rotate(285) scale(11.0,14.3)" fill="url(#lg3)"/>
<use href="#lf3" transform="translate(1896.3,817.0) rotate(306) scale(10.0,13.1)" fill="url(#lg3)"/>
<use href="#lf1" transform="translate(1896.6,827.2) rotate(118) scale(11.2,12.7)" fill="url(#lg4)"/>
<use href="#lf2" transform="translate(1881.6,849.1) rotate(273) scale(10.2,13.1)" fill="url(#lg3)"/>
<use href="#lf1" transform="translate(1891.8,851.2) rotate(137) scale(11.4,12.8)" fill="url(#lg1)"/>
<use href="#lf2" transform="translate(1886.1,850.2) rotate(99) scale(10.4,13.8)" fill="url(#lg3)"/>
<use href="#lf3" transform="translate(1885.5,837.5) rotate(277) scale(10.6,13.9)" fill="url(#lg2)"/>
<use href="#lf3" transform="translate(1887.4,840.0) rotate(256) scale(11.7,13.5)" fill="url(#lg2)"/>
<use href="#lf1" transform="translate(1890.9,825.7) rotate(319) scale(9.9,12.3)" fill="url(#lg4)"/>
<use href="#lf1" transform="translate(1941.5,854.0) rotate(114) scale(11.8,15.0)" fill="url(#lg2)"/>
<use href="#lf1" transform="translate(1937.0,852.6) rotate(97) scale(10.8,12.6)" fill="url(#lg2)"/>
<use href="#lf1" transform="translate(1927.3,861.5) rotate(259) scale(10.5,13.0)" fill="url(#lg2)"/>
<use href="#lf3" transform="translate(1937.0,862.8) rotate(107) scale(9.5,10.8)" fill="url(#lg1)"/>
<use href="#lf2" transform="translate(1941.7,826.9) rotate(331) scale(11.5,12.8)" fill="url(#lg2)"/>
<use href="#lf2" transform="translate(1931.9,862.4) rotate(103) scale(10.8,12.1)" fill="url(#lg3)"/>
<use href="#lf1" transform="translate(1937.5,838.9) rotate(286) scale(10.2,12.7)" fill="url(#lg1)"/>
<use href="#lf1" transform="translate(1946.0,840.6) rotate(95) scale(9.9,11.9)" fill="url(#lg1)"/>
<use href="#lf3" transform="translate(1934.9,840.3) rotate(296) scale(9.5,11.1)" fill="url(#lg2)"/>
<use href="#lf3" transform="translate(1929.9,848.8) rotate(291) scale(11.4,14.2)" fill="url(#lg2)"/>
<use href="#lf2" transform="translate(1949.0,828.0) rotate(67) scale(9.8,12.1)" fill="url(#lg3)"/>
<use href="#lf1" transform="translate(1936.6,826.2) rotate(326) scale(9.8,11.9)" fill="url(#lg3)"/>
<use href="#lf3" transform="translate(1994.3,843.0) rotate(59) scale(11.8,13.1)" fill="url(#lg2)"/>
<use href="#lf2" transform="translate(1980.5,850.9) rotate(268) scale(10.4,13.5)" fill="url(#lg2)"/>
<use href="#lf2" transform="translate(1982.9,877.1) rotate(147) scale(10.4,12.1)" fill="url(#lg1)"/>
<use href="#lf2" transform="translate(1986.9,851.1) rotate(270) scale(10.6,12.3)" fill="url(#lg3)"/>
<use href="#lf3" transform="translate(1982.0,863.9) rotate(89) scale(10.4,11.6)" fill="url(#lg1)"/>
<use href="#lf3" transform="translate(1982.8,837.9) rotate(319) scale(11.8,15.0)" fill="url(#lg1)"/>
<use href="#lf1" transform="translate(1991.7,853.1) rotate(93) scale(10.2,13.5)" fill="url(#lg4)"/>
<use href="#lf3" transform="translate(1977.9,876.3) rotate(112) scale(11.2,12.6)" fill="url(#lg2)"/>
<use href="#lf1" transform="translate(1989.4,841.5) rotate(309) scale(11.1,14.1)" fill="url(#lg3)"/>
<use href="#lf1" transform="translate(1978.5,863.9) rotate(295) scale(9.5,11.7)" fill="url(#lg2)"/>
<use href="#lf2" transform="translate(1985.8,865.0) rotate(112) scale(11.7,15.6)" fill="url(#lg3)"/>
<use href="#lf1" transform="translate(1973.4,875.2) rotate(240) scale(10.2,12.6)" fill="url(#lg3)"/>
<path d="M1795,585L1797,808" stroke="#efd33c" stroke-width="45"/>
<path d="M1784.2,585.1L1786.2,808.1" stroke="#cdbd2c" stroke-width="13.5"/>
<path d="M1803.1,584.9L1805.1,807.9" stroke="#fbe85a" stroke-width="9.0"/>
<use href="#lf3" transform="translate(1786.4,585.4) rotate(342) scale(10.3,12.8)" fill="url(#lg2)"/>
<use href="#lf2" transform="translate(1801.3,589.4) rotate(156) scale(12.8,15.1)" fill="url(#lg4)"/>
<use href="#lf3" transform="translate(1773.4,580.4) rotate(323) scale(10.7,14.1)" fill="url(#lg2)"/>
<use href="#lf3" transform="translate(1787.7,590.4) rotate(198) scale(12.7,15.8)" fill="url(#lg3)"/>
<use href="#lf1" transform="translate(1801.9,586.7) rotate(388) scale(10.6,12.8)" fill="url(#lg3)"/>
<use href="#lf2" transform="translate(1816.2,578.7) rotate(406) scale(10.9,13.5)" fill="url(#lg4)"/>
<use href="#lf3" transform="translate(1800.9,581.6) rotate(353) scale(12.4,15.8)" fill="url(#lg1)"/>
<use href="#lf3" transform="translate(1818.8,586.7) rotate(145) scale(12.6,15.6)" fill="url(#lg1)"/>
<use href="#lf1" transform="translate(1773.1,589.2) rotate(199) scale(10.5,14.1)" fill="url(#lg2)"/>
<use href="#lf2" transform="translate(1787.4,579.3) rotate(377) scale(11.6,15.0)" fill="url(#lg2)"/>
<use href="#lf3" transform="translate(1774.9,585.9) rotate(365) scale(10.4,13.3)" fill="url(#lg3)"/>
<use href="#lf2" transform="translate(1815.2,589.5) rotate(154) scale(12.4,15.0)" fill="url(#lg1)"/>
<use href="#lf1" transform="translate(1801.1,627.9) rotate(201) scale(12.7,17.0)" fill="url(#lg2)"/>
<use href="#lf3" transform="translate(1771.8,635.2) rotate(183) scale(11.6,13.5)" fill="url(#lg2)"/>
<use href="#lf1" transform="translate(1789.7,635.2) rotate(168) scale(11.1,12.8)" fill="url(#lg1)"/>
<use href="#lf2" transform="translate(1818.2,624.7) rotate(405) scale(12.7,16.3)" fill="url(#lg2)"/>
<use href="#lf1" transform="translate(1801.9,622.9) rotate(359) scale(12.0,15.8)" fill="url(#lg1)"/>
<use href="#lf1" transform="translate(1802.5,636.1) rotate(166) scale(10.4,12.8)" fill="url(#lg2)"/>
<use href="#lf3" transform="translate(1817.5,630.6) rotate(156) scale(12.1,13.5)" fill="url(#lg3)"/>
<use href="#lf3" transform="translate(1773.8,631.5) rotate(198) scale(11.7,14.9)" fill="url(#lg1)"/>
<use href="#lf2" transform="translate(1789.2,630.9) rotate(331) scale(11.8,13.7)" fill="url(#lg3)"/>
<use href="#lf3" transform="translate(1789.0,625.6) rotate(363) scale(10.5,12.8)" fill="url(#lg4)"/>
<use href="#lf1" transform="translate(1774.9,625.8) rotate(323) scale(11.2,14.0)" fill="url(#lg2)"/>
<use href="#lf1" transform="translate(1815.8,633.9) rotate(152) scale(10.7,14.2)" fill="url(#lg2)"/>
<use href="#lf1" transform="translate(1773.7,668.6) rotate(312) scale(10.3,11.4)" fill="url(#lg2)"/>
<use href="#lf3" transform="translate(1788.9,680.1) rotate(167) scale(10.6,11.7)" fill="url(#lg4)"/>
<use href="#lf3" transform="translate(1816.9,671.0) rotate(383) scale(11.1,13.5)" fill="url(#lg3)"/>
<use href="#lf2" transform="translate(1786.5,668.0) rotate(362) scale(10.4,12.5)" fill="url(#lg3)"/>
<use href="#lf2" transform="translate(1790.0,673.4) rotate(185) scale(12.1,16.1)" fill="url(#lg1)"/>
<use href="#lf2" transform="translate(1771.8,674.5) rotate(326) scale(12.2,13.8)" fill="url(#lg3)"/>
<use href="#lf3" transform="translate(1772.9,679.5) rotate(186) scale(11.2,12.6)" fill="url(#lg1)"/>
<use href="#lf3" transform="translate(1817.3,677.1) rotate(141) scale(10.4,12.9)" fill="url(#lg3)"/>
<use href="#lf3" transform="translate(1802.1,674.1) rotate(362) scale(11.7,15.3)" fill="url(#lg1)"/>
<use href="#lf2" transform="translate(1802.3,677.2) rotate(164) scale(10.7,12.7)" fill="url(#lg3)"/>
<use href="#lf1" transform="translate(1803.8,669.9) rotate(346) scale(10.7,12.7)" fill="url(#lg1)"/>
<use href="#lf3" transform="translate(1818.5,673.8) rotate(408) scale(11.6,13.9)" fill="url(#lg3)"/>
<use href="#lf1" transform="translate(1787.4,718.8) rotate(206) scale(12.5,16.7)" fill="url(#lg4)"/>
<use href="#lf3" transform="translate(1818.7,715.6) rotate(396) scale(12.2,14.9)" fill="url(#lg1)"/>
<use href="#lf1" transform="translate(1775.5,720.0) rotate(352) scale(10.4,12.0)" fill="url(#lg2)"/>
<use href="#lf2" transform="translate(1801.5,713.0) rotate(383) scale(11.1,13.4)" fill="url(#lg2)"/>
<use href="#lf2" transform="translate(1805.0,722.7) rotate(174) scale(11.8,15.7)" fill="url(#lg3)"/>
<use href="#lf1" transform="translate(1789.8,722.5) rotate(210) scale(12.3,16.5)" fill="url(#lg3)"/>
<use href="#lf2" transform="translate(1818.7,719.1) rotate(370) scale(11.6,12.8)" fill="url(#lg4)"/>
<use href="#lf2" transform="translate(1773.9,712.7) rotate(343) scale(10.5,12.9)" fill="url(#lg1)"/>
<use href="#lf1" transform="translate(1817.3,725.1) rotate(171) scale(10.6,11.8)" fill="url(#lg2)"/>
<use href="#lf1" transform="translate(1802.6,717.0) rotate(381) scale(11.9,14.6)" fill="url(#lg4)"/>
<use href="#lf3" transform="translate(1772.5,723.0) rotate(200) scale(11.3,14.8)" fill="url(#lg3)"/>
<use href="#lf2" transform="translate(1787.6,715.9) rotate(367) scale(12.6,15.7)" fill="url(#lg3)"/>
<use href="#lf1" transform="translate(1804.9,766.4) rotate(165) scale(12.0,14.8)" fill="url(#lg3)"/>
<use href="#lf2" transform="translate(1773.6,764.2) rotate(338) scale(10.5,12.0)" fill="url(#lg2)"/>
<use href="#lf2" transform="translate(1787.5,768.6) rotate(205) scale(12.3,15.3)" fill="url(#lg3)"/>
<use href="#lf3" transform="translate(1817.0,769.6) rotate(144) scale(10.9,13.7)" fill="url(#lg3)"/>
<use href="#lf2" transform="translate(1788.4,762.0) rotate(208) scale(11.4,14.3)" fill="url(#lg2)"/>
<use href="#lf3" transform="translate(1802.7,763.6) rotate(392) scale(12.0,14.7)" fill="url(#lg2)"/>
<use href="#lf3" transform="translate(1817.1,757.1) rotate(367) scale(11.8,15.8)" fill="url(#lg2)"/>
<use href="#lf2" transform="translate(1774.6,770.2) rotate(187) scale(11.4,15.4)" fill="url(#lg2)"/>
<use href="#lf3" transform="translate(1818.9,765.2) rotate(379) scale(12.9,16.5)" fill="url(#lg4)"/>
<use href="#lf1" transform="translate(1773.3,760.6) rotate(312) scale(11.4,15.1)" fill="url(#lg3)"/>
<use href="#lf2" transform="translate(1787.7,757.8) rotate(336) scale(11.2,15.1)" fill="url(#lg2)"/>
<use href="#lf3" transform="translate(1802.5,757.3) rotate(386) scale(11.8,15.0)" fill="url(#lg1)"/>
<use href="#lf2" transform="translate(1776.5,808.0) rotate(357) scale(12.2,13.7)" fill="url(#lg2)"/>
<use href="#lf1" transform="translate(1803.4,813.7) rotate(160) scale(11.1,14.7)" fill="url(#lg1)"/>
<use href="#lf2" transform="translate(1819.4,809.0) rotate(186) scale(11.3,13.2)" fill="url(#lg3)"/>
<use href="#lf1" transform="translate(1776.4,813.5) rotate(217) scale(12.5,16.6)" fill="url(#lg3)"/>
<use href="#lf2" transform="translate(1804.1,809.5) rotate(374) scale(10.3,11.9)" fill="url(#lg3)"/>
<use href="#lf2" transform="translate(1818.0,803.6) rotate(375) scale(12.9,14.5)" fill="url(#lg3)"/>
<use href="#lf1" transform="translate(1803.6,804.2) rotate(359) scale(10.4,14.0)" fill="url(#lg4)"/>
<use href="#lf3" transform="translate(1818.5,812.5) rotate(181) scale(12.5,14.7)" fill="url(#lg3)"/>
<use href="#lf2" transform="translate(1788.0,808.2) rotate(164) scale(12.6,14.9)" fill="url(#lg3)"/>
<use href="#lf3" transform="translate(1776.5,803.5) rotate(315) scale(11.5,13.6)" fill="url(#lg2)"/>
<use href="#lf3" transform="translate(1788.0,803.6) rotate(337) scale(12.7,14.9)" fill="url(#lg3)"/>
<use href="#lf2" transform="translate(1788.0,814.0) rotate(208) scale(10.6,12.5)" fill="url(#lg3)"/>
<use href="#lf2" transform="translate(1697.1,361.0) rotate(261) scale(11.0,11.0)" fill="url(#lg3)"/>
<use href="#lf2" transform="translate(1714.2,357.6) rotate(77) scale(10.7,10.7)" fill="url(#lg3)"/>
<use href="#lf2" transform="translate(1697.8,369.2) rotate(34) scale(10.2,10.2)" fill="url(#lg1)"/>
<use href="#lf3" transform="translate(1708.5,362.8) rotate(107) scale(9.5,9.5)" fill="url(#lg1)"/>
<use href="#lf3" transform="translate(1697.9,365.5) rotate(115) scale(9.0,9.0)" fill="url(#lg4)"/>
<use href="#lf2" transform="translate(1693.1,365.4) rotate(49) scale(9.6,9.6)" fill="url(#lg2)"/>
<use href="#lf2" transform="translate(1946.8,367.2) rotate(70) scale(10.4,10.4)" fill="url(#lg2)"/>
<use href="#lf2" transform="translate(1929.4,365.5) rotate(147) scale(11.7,11.7)" fill="url(#lg2)"/>
<use href="#lf1" transform="translate(1945.4,378.1) rotate(59) scale(11.6,11.6)" fill="url(#lg3)"/>
<use href="#lf2" transform="translate(1924.6,370.3) rotate(194) scale(9.6,9.6)" fill="url(#lg1)"/>
<use href="#lf3" transform="translate(1937.6,378.6) rotate(161) scale(9.1,9.1)" fill="url(#lg3)"/>
<use href="#lf2" transform="translate(1941.4,376.7) rotate(177) scale(9.8,9.8)" fill="url(#lg1)"/>
<use href="#lf1" transform="translate(1676.0,427.2) rotate(227) scale(9.4,9.4)" fill="url(#lg3)"/>
<use href="#lf3" transform="translate(1670.3,437.1) rotate(8) scale(10.4,10.4)" fill="url(#lg2)"/>
<use href="#lf2" transform="translate(1666.2,428.3) rotate(314) scale(10.4,10.4)" fill="url(#lg2)"/>
<use href="#lf3" transform="translate(1680.4,432.4) rotate(16) scale(10.0,10.0)" fill="url(#lg3)"/>
<use href="#lf2" transform="translate(1669.1,446.8) rotate(342) scale(10.1,10.1)" fill="url(#lg3)"/>
<use href="#lf1" transform="translate(1661.5,446.7) rotate(354) scale(11.4,11.4)" fill="url(#lg2)"/>
<use href="#lf1" transform="translate(1639.6,487.8) rotate(125) scale(10.6,10.6)" fill="url(#lg2)"/>
<use href="#lf1" transform="translate(1625.9,485.1) rotate(333) scale(9.6,9.6)" fill="url(#lg4)"/>
<use href="#lf1" transform="translate(1633.7,494.8) rotate(139) scale(11.8,11.8)" fill="url(#lg2)"/>
<use href="#lf2" transform="translate(1638.0,478.2) rotate(211) scale(11.8,11.8)" fill="url(#lg2)"/>
<use href="#lf1" transform="translate(1623.2,481.0) rotate(284) scale(11.1,11.1)" fill="url(#lg4)"/>
<use href="#lf1" transform="translate(1632.8,497.0) rotate(194) scale(9.3,9.3)" fill="url(#lg3)"/>
<use href="#lf1" transform="translate(1541.8,618.9) rotate(240) scale(11.7,11.7)" fill="url(#lg3)"/>
<use href="#lf1" transform="translate(1529.3,632.4) rotate(312) scale(9.4,9.4)" fill="url(#lg3)"/>
<use href="#lf2" transform="translate(1544.0,621.1) rotate(334) scale(10.3,10.3)" fill="url(#lg3)"/>
<use href="#lf2" transform="translate(1551.2,633.6) rotate(214) scale(9.7,9.7)" fill="url(#lg2)"/>
<use href="#lf3" transform="translate(1535.8,626.5) rotate(255) scale(9.2,9.2)" fill="url(#lg3)"/>
<use href="#lf3" transform="translate(1537.4,629.8) rotate(206) scale(11.7,11.7)" fill="url(#lg2)"/>
<use href="#lf1" transform="translate(1495.9,652.7) rotate(97) scale(9.7,9.7)" fill="url(#lg1)"/>
<use href="#lf2" transform="translate(1511.2,656.2) rotate(25) scale(10.3,10.3)" fill="url(#lg3)"/>
<use href="#lf1" transform="translate(1494.5,653.9) rotate(46) scale(10.7,10.7)" fill="url(#lg3)"/>
<use href="#lf1" transform="translate(1498.1,660.4) rotate(207) scale(11.1,11.1)" fill="url(#lg4)"/>
<use href="#lf2" transform="translate(1507.4,647.2) rotate(249) scale(11.6,11.6)" fill="url(#lg3)"/>
<use href="#lf3" transform="translate(1503.1,644.6) rotate(111) scale(11.2,11.2)" fill="url(#lg3)"/>
<use href="#lf2" transform="translate(2016.8,457.6) rotate(217) scale(9.8,9.8)" fill="url(#lg4)"/>
<use href="#lf1" transform="translate(2030.3,453.2) rotate(161) scale(10.4,10.4)" fill="url(#lg1)"/>
<use href="#lf1" transform="translate(2030.9,451.9) rotate(100) scale(9.2,9.2)" fill="url(#lg1)"/>
<use href="#lf2" transform="translate(2023.5,451.9) rotate(166) scale(11.3,11.3)" fill="url(#lg4)"/>
<use href="#lf1" transform="translate(2026.8,463.2) rotate(282) scale(10.6,10.6)" fill="url(#lg1)"/>
<use href="#lf3" transform="translate(2030.4,453.9) rotate(200) scale(9.2,9.2)" fill="url(#lg2)"/>
<use href="#lf3" transform="translate(1997.1,488.1) rotate(52) scale(9.3,9.3)" fill="url(#lg4)"/>
<use href="#lf2" transform="translate(1995.1,494.3) rotate(192) scale(9.3,9.3)" fill="url(#lg1)"/>
<use href="#lf2" transform="translate(1988.6,490.5) rotate(204) scale(11.8,11.8)" fill="url(#lg3)"/>
<use href="#lf3" transform="translate(2003.1,485.8) rotate(221) scale(10.9,10.9)" fill="url(#lg2)"/>
<use href="#lf1" transform="translate(1989.3,491.8) rotate(167) scale(11.7,11.7)" fill="url(#lg3)"/>
<use href="#lf1" transform="translate(2006.8,483.2) rotate(250) scale(9.6,9.6)" fill="url(#lg3)"/>
<use href="#lf2" transform="translate(2100.1,661.4) rotate(310) scale(10.8,10.8)" fill="url(#lg3)"/>
<use href="#lf2" transform="translate(2105.3,664.1) rotate(151) scale(9.9,9.9)" fill="url(#lg1)"/>
<use href="#lf3" transform="translate(2095.0,677.1) rotate(252) scale(11.4,11.4)" fill="url(#lg3)"/>
<use href="#lf2" transform="translate(2099.0,659.5) rotate(317) scale(11.7,11.7)" fill="url(#lg3)"/>
<use href="#lf3" transform="translate(2094.4,663.4) rotate(264) scale(11.8,11.8)" fill="url(#lg1)"/>
<use href="#lf1" transform="translate(2084.7,660.5) rotate(229) scale(10.5,10.5)" fill="url(#lg1)"/>
<use href="#lf3" transform="translate(2160.7,625.9) rotate(228) scale(9.2,9.2)" fill="url(#lg4)"/>
<use href="#lf1" transform="translate(2138.4,620.3) rotate(185) scale(11.3,11.3)" fill="url(#lg2)"/>
<use href="#lf3" transform="translate(2159.2,627.9) rotate(137) scale(11.2,11.2)" fill="url(#lg2)"/>
<use href="#lf2" transform="translate(2150.0,620.8) rotate(115) scale(9.4,9.4)" fill="url(#lg2)"/>
<use href="#lf2" transform="translate(2146.4,610.2) rotate(247) scale(10.6,10.6)" fill="url(#lg2)"/>
<use href="#lf1" transform="translate(2145.1,627.2) rotate(316) scale(11.7,11.7)" fill="url(#lg3)"/>
<use href="#lf2" transform="translate(2023.8,777.9) rotate(255) scale(10.8,10.8)" fill="url(#lg4)"/>
<use href="#lf1" transform="translate(2043.1,776.5) rotate(8) scale(11.8,11.8)" fill="url(#lg3)"/>
<use href="#lf3" transform="translate(2034.3,797.2) rotate(182) scale(10.9,10.9)" fill="url(#lg1)"/>
<use href="#lf3" transform="translate(2029.7,781.4) rotate(161) scale(10.6,10.6)" fill="url(#lg3)"/>
<use href="#lf2" transform="translate(2038.2,777.9) rotate(122) scale(12.0,12.0)" fill="url(#lg3)"/>
<use href="#lf3" transform="translate(2032.3,795.1) rotate(171) scale(11.4,11.4)" fill="url(#lg1)"/>
<use href="#lf3" transform="translate(1985.7,849.9) rotate(74) scale(11.5,11.5)" fill="url(#lg3)"/>
<use href="#lf1" transform="translate(1985.5,861.8) rotate(171) scale(10.0,10.0)" fill="url(#lg2)"/>
<use href="#lf2" transform="translate(1985.0,851.4) rotate(230) scale(10.1,10.1)" fill="url(#lg1)"/>
<use href="#lf3" transform="translate(1991.0,850.3) rotate(198) scale(10.5,10.5)" fill="url(#lg1)"/>
<use href="#lf3" transform="translate(1993.9,858.3) rotate(112) scale(10.5,10.5)" fill="url(#lg2)"/>
<use href="#lf1" transform="translate(1993.2,853.3) rotate(296) scale(11.5,11.5)" fill="url(#lg1)"/>
<use href="#lf2" transform="translate(1936.4,952.1) rotate(77) scale(11.1,11.1)" fill="url(#lg3)"/>
<use href="#lf2" transform="translate(1941.2,949.7) rotate(328) scale(9.4,9.4)" fill="url(#lg3)"/>
<use href="#lf2" transform="translate(1946.8,947.1) rotate(48) scale(9.5,9.5)" fill="url(#lg1)"/>
<use href="#lf1" transform="translate(1933.2,943.1) rotate(20) scale(11.2,11.2)" fill="url(#lg3)"/>
<use href="#lf3" transform="translate(1933.6,937.3) rotate(92) scale(10.7,10.7)" fill="url(#lg3)"/>
<use href="#lf2" transform="translate(1944.6,950.8) rotate(276) scale(10.5,10.5)" fill="url(#lg4)"/>
<use href="#lf2" transform="translate(1695.3,936.9) rotate(259) scale(11.3,11.3)" fill="url(#lg2)"/>
<use href="#lf1" transform="translate(1696.0,934.5) rotate(64) scale(10.5,10.5)" fill="url(#lg3)"/>
<use href="#lf3" transform="translate(1703.3,942.0) rotate(280) scale(10.0,10.0)" fill="url(#lg3)"/>
<use href="#lf2" transform="translate(1688.7,928.7) rotate(291) scale(9.0,9.0)" fill="url(#lg2)"/>
<use href="#lf1" transform="translate(1686.0,936.9) rotate(9) scale(10.3,10.3)" fill="url(#lg4)"/>
<use href="#lf3" transform="translate(1696.8,946.8) rotate(128) scale(9.1,9.1)" fill="url(#lg3)"/>
<use href="#lf3" transform="translate(1627.9,864.3) rotate(164) scale(9.1,9.1)" fill="url(#lg3)"/>
<use href="#lf3" transform="translate(1633.2,867.5) rotate(244) scale(11.9,11.9)" fill="url(#lg2)"/>
<use href="#lf3" transform="translate(1626.9,855.3) rotate(63) scale(10.7,10.7)" fill="url(#lg3)"/>
<use href="#lf2" transform="translate(1638.6,852.2) rotate(219) scale(9.1,9.1)" fill="url(#lg4)"/>
<use href="#lf3" transform="translate(1639.2,845.5) rotate(278) scale(11.3,11.3)" fill="url(#lg2)"/>
<use href="#lf2" transform="translate(1626.1,859.1) rotate(119) scale(11.2,11.2)" fill="url(#lg4)"/>
<use href="#lf1" transform="translate(1689.2,830.2) rotate(270) scale(9.4,9.4)" fill="url(#lg2)"/>
<use href="#lf2" transform="translate(1684.2,841.4) rotate(54) scale(11.4,11.4)" fill="url(#lg2)"/>
<use href="#lf2" transform="translate(1679.8,825.6) rotate(29) scale(9.6,9.6)" fill="url(#lg2)"/>
<use href="#lf1" transform="translate(1686.5,824.2) rotate(14) scale(11.0,11.0)" fill="url(#lg3)"/>
<use href="#lf1" transform="translate(1676.6,838.4) rotate(166) scale(10.0,10.0)" fill="url(#lg2)"/>
<use href="#lf2" transform="translate(1686.9,820.5) rotate(324) scale(11.8,11.8)" fill="url(#lg2)"/>
<use href="#lf2" transform="translate(1870.1,703.8) rotate(263) scale(11.0,11.0)" fill="url(#lg3)"/>
<use href="#lf3" transform="translate(1866.8,717.4) rotate(99) scale(10.4,10.4)" fill="url(#lg2)"/>
<use href="#lf3" transform="translate(1865.5,710.2) rotate(56) scale(10.7,10.7)" fill="url(#lg2)"/>
<use href="#lf1" transform="translate(1868.4,703.9) rotate(308) scale(9.9,9.9)" fill="url(#lg3)"/>
<use href="#lf1" transform="translate(1864.1,694.9) rotate(31) scale(11.0,11.0)" fill="url(#lg2)"/>
<use href="#lf2" transform="translate(1857.5,714.9) rotate(54) scale(11.2,11.2)" fill="url(#lg1)"/>
<use href="#lf1" transform="translate(1874.2,471.1) rotate(140) scale(10.7,10.7)" fill="url(#lg2)"/>
<use href="#lf3" transform="translate(1860.5,485.6) rotate(45) scale(9.1,9.1)" fill="url(#lg4)"/>
<use href="#lf2" transform="translate(1872.2,479.1) rotate(228) scale(11.2,11.2)" fill="url(#lg3)"/>
<use href="#lf2" transform="translate(1872.9,492.8) rotate(325) scale(10.5,10.5)" fill="url(#lg1)"/>
<use href="#lf3" transform="translate(1866.9,484.4) rotate(46) scale(10.0,10.0)" fill="url(#lg3)"/>
<use href="#lf2" transform="translate(1875.6,492.2) rotate(238) scale(9.7,9.7)" fill="url(#lg2)"/>
<use href="#lf3" transform="translate(1854.8,455.2) rotate(233) scale(10.4,10.4)" fill="url(#lg2)"/>
<use href="#lf1" transform="translate(1849.4,452.5) rotate(12) scale(11.8,11.8)" fill="url(#lg2)"/>
<use href="#lf2" transform="translate(1852.8,454.1) rotate(319) scale(12.9,12.9)" fill="url(#lg1)"/>
<use href="#lf3" transform="translate(1878.9,458.7) rotate(220) scale(11.8,11.8)" fill="url(#lg3)"/>
<use href="#lf3" transform="translate(1856.6,454.3) rotate(133) scale(10.9,10.9)" fill="url(#lg3)"/>
<use href="#lf3" transform="translate(1887.0,467.7) rotate(59) scale(12.9,12.9)" fill="url(#lg4)"/>
<use href="#lf2" transform="translate(1871.4,452.9) rotate(307) scale(10.5,10.5)" fill="url(#lg1)"/>
<use href="#lf1" transform="translate(1851.7,457.9) rotate(257) scale(10.7,10.7)" fill="url(#lg2)"/>
<use href="#lf2" transform="translate(1869.9,440.8) rotate(108) scale(10.7,10.7)" fill="url(#lg2)"/>
<use href="#lf3" transform="translate(1871.7,470.6) rotate(53) scale(11.9,11.9)" fill="url(#lg2)"/>
<use href="#lf1" transform="translate(1891.8,448.1) rotate(18) scale(12.4,12.4)" fill="url(#lg1)"/>
<use href="#lf3" transform="translate(1882.6,433.8) rotate(358) scale(10.5,10.5)" fill="url(#lg2)"/>
<use href="#lf3" transform="translate(1875.8,465.7) rotate(116) scale(13.0,13.0)" fill="url(#lg2)"/>
<use href="#lf3" transform="translate(1888.7,440.2) rotate(141) scale(11.3,11.3)" fill="url(#lg3)"/>
<use href="#lf3" transform="translate(1882.2,461.6) rotate(355) scale(10.4,10.4)" fill="url(#lg3)"/>
<use href="#lf1" transform="translate(1859.8,435.8) rotate(4) scale(11.5,11.5)" fill="url(#lg3)"/>
<use href="#lf2" transform="translate(1872.6,442.0) rotate(319) scale(11.6,11.6)" fill="url(#lg3)"/>
<use href="#lf1" transform="translate(1851.9,460.4) rotate(5) scale(11.5,11.5)" fill="url(#lg3)"/>
<use href="#lf2" transform="translate(1879.6,453.2) rotate(330) scale(12.9,12.9)" fill="url(#lg4)"/>
<use href="#lf3" transform="translate(1857.0,456.4) rotate(87) scale(11.6,11.6)" fill="url(#lg2)"/>
<use href="#lf1" transform="translate(1784.4,842.6) rotate(333) scale(13.8,13.8)" fill="url(#lg4)"/>
<use href="#lf2" transform="translate(1804.6,864.9) rotate(242) scale(11.3,11.3)" fill="url(#lg1)"/>
<use href="#lf2" transform="translate(1775.7,855.2) rotate(289) scale(10.8,10.8)" fill="url(#lg3)"/>
<use href="#lf1" transform="translate(1809.0,859.4) rotate(161) scale(11.8,11.8)" fill="url(#lg3)"/>
<use href="#lf1" transform="translate(1810.1,861.3) rotate(236) scale(10.3,10.3)" fill="url(#lg2)"/>
<use href="#lf2" transform="translate(1782.0,850.3) rotate(44) scale(10.3,10.3)" fill="url(#lg4)"/>
<use href="#lf1" transform="translate(1779.3,873.2) rotate(265) scale(10.8,10.8)" fill="url(#lg3)"/>
<use href="#lf3" transform="translate(1798.9,838.7) rotate(244) scale(12.2,12.2)" fill="url(#lg2)"/>
<use href="#lf3" transform="translate(1799.1,860.1) rotate(255) scale(10.1,10.1)" fill="url(#lg3)"/>
<use href="#lf2" transform="translate(1773.5,839.4) rotate(126) scale(11.9,11.9)" fill="url(#lg3)"/>
<use href="#lf1" transform="translate(1794.6,867.1) rotate(203) scale(13.6,13.6)" fill="url(#lg3)"/>
<use href="#lf1" transform="translate(1783.0,856.0) rotate(295) scale(12.2,12.2)" fill="url(#lg2)"/>
<use href="#lf3" transform="translate(1798.1,873.6) rotate(273) scale(12.2,12.2)" fill="url(#lg4)"/>
<use href="#lf1" transform="translate(1788.1,841.2) rotate(224) scale(12.8,12.8)" fill="url(#lg3)"/>
<use href="#lf2" transform="translate(1771.9,857.0) rotate(344) scale(11.4,11.4)" fill="url(#lg4)"/>
<use href="#lf3" transform="translate(1779.6,864.7) rotate(175) scale(12.8,12.8)" fill="url(#lg2)"/>
<use href="#lf1" transform="translate(1787.8,853.6) rotate(54) scale(12.7,12.7)" fill="url(#lg1)"/>
<use href="#lf1" transform="translate(1783.9,841.0) rotate(131) scale(13.5,13.5)" fill="url(#lg3)"/>
<use href="#lf3" transform="translate(1783.5,869.5) rotate(200) scale(12.5,12.5)" fill="url(#lg2)"/>
<use href="#lf2" transform="translate(1786.4,829.8) rotate(171) scale(10.4,10.4)" fill="url(#lg2)"/>
<use href="#lf3" transform="translate(1768.6,605.5) rotate(80) scale(10.7,10.7)" fill="url(#lg3)"/>
<use href="#lf3" transform="translate(1789.3,578.6) rotate(300) scale(11.5,11.5)" fill="url(#lg3)"/>
<use href="#lf1" transform="translate(1783.3,563.4) rotate(60) scale(11.4,11.4)" fill="url(#lg2)"/>
<use href="#lf1" transform="translate(1784.9,583.2) rotate(248) scale(11.9,11.9)" fill="url(#lg1)"/>
<use href="#lf3" transform="translate(1810.0,583.2) rotate(121) scale(12.9,12.9)" fill="url(#lg1)"/>
<use href="#lf2" transform="translate(1761.8,590.1) rotate(211) scale(13.1,13.1)" fill="url(#lg2)"/>
<use href="#lf1" transform="translate(1789.7,596.3) rotate(221) scale(11.9,11.9)" fill="url(#lg2)"/>
<use href="#lf2" transform="translate(1803.1,593.9) rotate(180) scale(10.3,10.3)" fill="url(#lg2)"/>
<use href="#lf3" transform="translate(1770.0,603.4) rotate(251) scale(12.7,12.7)" fill="url(#lg3)"/>
<use href="#lf2" transform="translate(1783.9,582.0) rotate(268) scale(11.0,11.0)" fill="url(#lg2)"/>
<use href="#lf3" transform="translate(1781.2,586.3) rotate(2) scale(10.2,10.2)" fill="url(#lg2)"/>
<use href="#lf1" transform="translate(1784.2,582.3) rotate(296) scale(10.1,10.1)" fill="url(#lg2)"/>
<use href="#lf3" transform="translate(1766.2,605.7) rotate(88) scale(13.3,13.3)" fill="url(#lg3)"/>
<use href="#lf3" transform="translate(1807.9,594.2) rotate(79) scale(12.3,12.3)" fill="url(#lg3)"/>
<use href="#lf3" transform="translate(1783.6,564.9) rotate(273) scale(13.1,13.1)" fill="url(#lg1)"/>
<use href="#lf1" transform="translate(1759.9,594.2) rotate(214) scale(12.0,12.0)" fill="url(#lg2)"/>
<use href="#lf2" transform="translate(1800.7,576.2) rotate(314) scale(13.6,13.6)" fill="url(#lg3)"/>
<use href="#lf1" transform="translate(1794.4,565.3) rotate(251) scale(11.0,11.0)" fill="url(#lg1)"/>
<use href="#lf2" transform="translate(1772.6,578.0) rotate(117) scale(11.8,11.8)" fill="url(#lg3)"/>
<use href="#lf1" transform="translate(1783.7,571.4) rotate(95) scale(13.6,13.6)" fill="url(#lg2)"/>
</g>
<g id="molecules">
<use href="#sr" transform="translate(1368.3,219.2) scale(27.0)"/>
<use href="#sr" transform="translate(1431.0,251.8) scale(27.0)"/>
<use href="#sp" transform="translate(1416.5,209.0) scale(27.0)"/>
<use href="#sb" transform="translate(1487.2,439.8) scale(32.0)"/>
<use href="#sb" transform="translate(1520.0,388.3) scale(32.0)"/>
<use href="#sb" transform="translate(1783.7,245.0) scale(31.0)"/>
<use href="#sp" transform="translate(1835.0,260.0) scale(32.0)"/>
<use href="#sb" transform="translate(1856.0,213.0) scale(32.0)"/>
<use href="#sl" transform="translate(2034.0,236.7) scale(32.0)"/>
<use href="#sl" transform="translate(2115.6,280.5) scale(32.0)"/>
<use href="#sb" transform="translate(2201.6,550.0) scale(31.0)"/>
<use href="#sp" transform="translate(2147.8,535.0) scale(31.0)"/>
<use href="#sb" transform="translate(2155.0,480.0) scale(31.0)"/>
<use href="#sr" transform="translate(1328.7,749.5) scale(27.0)"/>
<use href="#sr" transform="translate(1398.5,758.3) scale(27.0)"/>
<use href="#sp" transform="translate(1357.7,783.2) scale(27.0)"/>
<use href="#sb" transform="translate(1514.0,791.6) scale(32.0)"/>
<use href="#sb" transform="translate(1487.4,745.3) scale(32.0)"/>
<use href="#sb" transform="translate(2071.6,862.0) scale(31.7)"/>
<use href="#sb" transform="translate(2109.8,829.4) scale(31.7)"/>
<use href="#sr" transform="translate(2170.7,921.4) scale(28.0)"/>
<use href="#sr" transform="translate(2242.8,929.8) scale(28.0)"/>
<use href="#sp" transform="translate(2200.4,955.3) scale(28.0)"/>
<use href="#sr" transform="translate(1513.8,1034.3) scale(31.0)"/>
<use href="#sp" transform="translate(1571.8,1021.0) scale(31.0)"/>
<use href="#sr" transform="translate(1582.6,1070.2) scale(32.0)"/>
<use href="#sb" transform="translate(1835.9,998.3) scale(31.0)"/>
<use href="#sb" transform="translate(1884.8,1066.0) scale(32.0)"/>
<use href="#sp" transform="translate(1891.6,1013.0) scale(31.0)"/>
<use href="#sb" transform="translate(2142.0,1072.4) scale(27.0)"/>
<use href="#sq" transform="translate(2145.3,1112.9) scale(29.0)"/>
<use href="#sb" transform="translate(2106.2,1136.5) scale(29.0)"/>
<use href="#sb" transform="translate(2187.0,1121.3) scale(30.0)"/>
<path d="M2284,289L2314.4,277L2338,266.3L2371.7,280.5L2373.4,299L2348,310.8L2317.8,314.8L2290.8,305.7Z" fill="#1c7a1c"/>
<path d="M2284,289L2314.4,277L2338,266.3L2371.7,280.5L2356,292L2318,300L2290,297Z" fill="#23862a"/>
<use href="#sr" transform="translate(2326.0,447.3) scale(25.0)"/>
<use href="#sr" transform="translate(2373.4,457.4) scale(25.0)"/>
<use href="#sb" transform="translate(2314.6,643.8) scale(28.0)"/>
<use href="#sp" transform="translate(2359.0,659.6) scale(28.0)"/>
<use href="#sb" transform="translate(2377.6,614.8) scale(28.0)"/>
<use href="#sb" transform="translate(2314.6,822.4) scale(28.0)"/>
<use href="#sb" transform="translate(2368.5,818.0) scale(29.0)"/>
<use href="#sr" transform="translate(2311.0,995.0) scale(27.0)"/>
<use href="#sr" transform="translate(2381.0,1002.4) scale(27.0)"/>
<use href="#sp" transform="translate(2338.0,1025.0) scale(27.0)"/>
<use href="#sl" transform="translate(2340.7,1181.0) scale(29.6)"/>
<use href="#sb" transform="translate(2348.0,1318.4) scale(27.0)"/>
<use href="#sq" transform="translate(2334.6,1358.8) scale(29.0)"/>
<use href="#sb" transform="translate(2286.8,1365.6) scale(29.6)"/>
<use href="#sb" transform="translate(2370.0,1384.0) scale(30.0)"/>
<g font-family="'Liberation Serif',serif" font-weight="bold" font-size="49.8">
<text x="2424" y="280.5">PANI</text>
<text x="2424" y="465.8">O<tspan font-size="31" dy="12">2</tspan></text>
<text x="2423" y="651.9">NO<tspan font-size="31" dy="12">2</tspan><tspan dy="-21" font-size="38">-</tspan></text>
<text x="2424" y="838.3">O<tspan font-size="31" dy="12">2</tspan><tspan dy="-21" font-size="38">-</tspan></text>
<text x="2423" y="1023">NO<tspan font-size="31" dy="12">2</tspan></text>
<text x="2424" y="1209">O<tspan dy="-12" font-size="38">-</tspan></text>
<text x="2423" y="1367.3">NO<tspan font-size="31" dy="12">3</tspan><tspan dy="-21" font-size="38">-</tspan></text>
</g>
<text x="1708" y="1278" font-family="'Liberation Serif',serif" font-weight="bold" font-size="74.2">CuO-PANI</text>
<path d="M1939.8,210.7H1978.2M1959,192.5V229.5" stroke="#000" stroke-width="6.8" fill="none"/>
<path d="M2091.8,908.6H2130.8M2111.3,890V927.5" stroke="#000" stroke-width="6.8" fill="none"/>
<path d="M1552.2,329C1538,300 1533,262 1543.8,226.3C1555,198 1580,180 1604.4,167.4C1590,182 1576,202 1567.4,221.3C1557,250 1560,285 1574,315.6Z" fill="#cccc04"/>
<path d="M1604.4,167.4C1630,150 1665,141 1693.7,141.3C1720,143 1742,155 1756,167.7L1767.8,161.5L1762.7,196.3L1722.3,190L1733.3,183.7C1722,171 1708,161 1693.7,159C1665,153 1635,157 1604.4,167.4Z" fill="#ffff00"/>
<path d="M1624.2,1136.2C1632,1165 1660,1185 1700,1191C1730,1194 1752,1189 1768,1181.5C1792,1168 1812,1141 1824.6,1115L1844.4,1106.4L1827.4,1083.8L1807.6,1117.2L1811.5,1119.5C1802,1139 1788,1158 1768,1175C1745,1184 1715,1181 1690,1171C1665,1160 1650,1148 1642.9,1130.5Z" fill="url(#garr2)"/>
<path d="M2111.5,944C2100,944 2092,945 2085.7,946.2C2076,950 2068,957 2061.1,964.2C2054,972 2049,981 2045.1,990.6C2042,998 2040,1006 2040,1013.2C2040,1021 2041,1029 2043.2,1035.8C2046,1043 2050,1050 2055.5,1056.6L2063,1066L2066.2,1074.5L2082.8,1067L2073.8,1049.4L2071,1052C2064,1048 2059,1044 2055.5,1039.6C2050,1033 2047,1027 2045.1,1020.8C2043.5,1015 2043,1010 2043.2,1005.7C2045,1000 2048,995 2052.6,990.6C2058,984 2064,978 2070.6,973.6C2078,968 2085,962 2093.2,958.5C2099,957 2105,956.6 2111.5,956.6Z" fill="url(#garr3)"/>
</g>
</svg>
</body></html>
